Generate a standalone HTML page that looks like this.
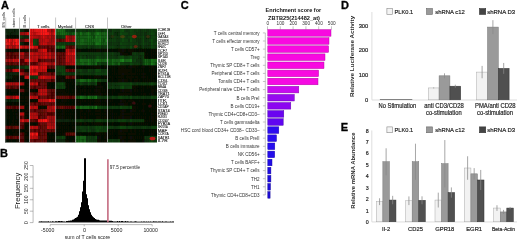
<!DOCTYPE html>
<html><head><meta charset="utf-8"><title>Figure</title>
<style>html,body{margin:0;padding:0;background:#fff;overflow:hidden}svg{display:block;filter:blur(0.35px)}text{font-family:"Liberation Sans",sans-serif}text.s{stroke:#222;stroke-width:0.18}text.t{stroke:#333;stroke-width:0.1}</style>
</head><body>
<svg width="520" height="240" viewBox="0 0 520 240">
<rect width="520" height="240" fill="#fff"/>
<defs><filter id="hb" x="-5%" y="-5%" width="110%" height="110%"><feGaussianBlur stdDeviation="0.55"/></filter><clipPath id="hc"><rect x="5" y="28.75" width="152" height="113.75"/></clipPath></defs>
<g clip-path="url(#hc)"><g filter="url(#hb)">
<rect x="3.0" y="26.75" width="156.0" height="117.75" fill="#080c06"/>
<rect x="3.0" y="26.75" width="3.98" height="5.45" fill="#081e08"/>
<rect x="6.9" y="26.75" width="1.98" height="5.45" fill="#092309"/>
<rect x="8.8" y="26.75" width="1.98" height="5.45" fill="#0b2b0b"/>
<rect x="10.6" y="26.75" width="1.98" height="5.45" fill="#082008"/>
<rect x="12.5" y="26.75" width="1.85" height="5.45" fill="#0a260a"/>
<rect x="14.2" y="26.75" width="1.85" height="5.45" fill="#071e07"/>
<rect x="16.0" y="26.75" width="1.85" height="5.45" fill="#0a280a"/>
<rect x="17.8" y="26.75" width="1.85" height="5.45" fill="#0b2c0b"/>
<rect x="19.5" y="26.75" width="2.60" height="5.45" fill="#092509"/>
<rect x="22.0" y="26.75" width="2.60" height="5.45" fill="#092409"/>
<rect x="24.5" y="26.75" width="2.60" height="5.45" fill="#080d06"/>
<rect x="27.0" y="26.75" width="2.60" height="5.45" fill="#070a05"/>
<rect x="29.5" y="26.75" width="2.23" height="5.45" fill="#e41414"/>
<rect x="31.6" y="26.75" width="2.23" height="5.45" fill="#da1313"/>
<rect x="33.8" y="26.75" width="2.23" height="5.45" fill="#d01212"/>
<rect x="35.9" y="26.75" width="2.23" height="5.45" fill="#e21414"/>
<rect x="38.0" y="26.75" width="2.35" height="5.45" fill="#dc1313"/>
<rect x="40.2" y="26.75" width="2.35" height="5.45" fill="#fa1616"/>
<rect x="42.5" y="26.75" width="2.35" height="5.45" fill="#ff1717"/>
<rect x="44.8" y="26.75" width="2.35" height="5.45" fill="#ff1717"/>
<rect x="47.0" y="26.75" width="2.25" height="5.45" fill="#a80c0c"/>
<rect x="49.1" y="26.75" width="2.25" height="5.45" fill="#b60d0d"/>
<rect x="51.3" y="26.75" width="2.25" height="5.45" fill="#8b0a0a"/>
<rect x="53.5" y="26.75" width="2.25" height="5.45" fill="#e01010"/>
<rect x="55.6" y="26.75" width="2.10" height="5.45" fill="#145b14"/>
<rect x="57.6" y="26.75" width="2.10" height="5.45" fill="#187018"/>
<rect x="59.6" y="26.75" width="2.10" height="5.45" fill="#166716"/>
<rect x="61.6" y="26.75" width="2.10" height="5.45" fill="#186d18"/>
<rect x="63.6" y="26.75" width="2.10" height="5.45" fill="#156015"/>
<rect x="65.6" y="26.75" width="2.10" height="5.45" fill="#0b390b"/>
<rect x="67.6" y="26.75" width="2.10" height="5.45" fill="#0c3d0c"/>
<rect x="69.6" y="26.75" width="2.10" height="5.45" fill="#0a350a"/>
<rect x="71.6" y="26.75" width="2.10" height="5.45" fill="#0a320a"/>
<rect x="73.6" y="26.75" width="2.10" height="5.45" fill="#0b370b"/>
<rect x="75.6" y="26.75" width="2.18" height="5.45" fill="#0b370b"/>
<rect x="77.7" y="26.75" width="2.18" height="5.45" fill="#0a360a"/>
<rect x="79.8" y="26.75" width="2.18" height="5.45" fill="#0b3a0b"/>
<rect x="81.8" y="26.75" width="2.18" height="5.45" fill="#0a320a"/>
<rect x="83.9" y="26.75" width="2.18" height="5.45" fill="#0a350a"/>
<rect x="86.0" y="26.75" width="1.93" height="5.45" fill="#082b08"/>
<rect x="87.8" y="26.75" width="1.93" height="5.45" fill="#0c3d0c"/>
<rect x="89.7" y="26.75" width="1.93" height="5.45" fill="#0a360a"/>
<rect x="91.5" y="26.75" width="1.93" height="5.45" fill="#0c3c0c"/>
<rect x="93.3" y="26.75" width="1.93" height="5.45" fill="#0a360a"/>
<rect x="95.2" y="26.75" width="1.93" height="5.45" fill="#0e480e"/>
<rect x="97.0" y="26.75" width="2.20" height="5.45" fill="#0c3f0c"/>
<rect x="99.1" y="26.75" width="2.20" height="5.45" fill="#0c3f0c"/>
<rect x="101.2" y="26.75" width="2.20" height="5.45" fill="#0a350a"/>
<rect x="103.3" y="26.75" width="2.20" height="5.45" fill="#0c400c"/>
<rect x="105.4" y="26.75" width="2.20" height="5.45" fill="#0e480e"/>
<rect x="107.5" y="26.75" width="2.18" height="5.45" fill="#0c3c0c"/>
<rect x="109.6" y="26.75" width="2.18" height="5.45" fill="#082b08"/>
<rect x="111.7" y="26.75" width="2.18" height="5.45" fill="#0c400c"/>
<rect x="113.8" y="26.75" width="2.18" height="5.45" fill="#0b390b"/>
<rect x="115.8" y="26.75" width="2.18" height="5.45" fill="#0a320a"/>
<rect x="117.9" y="26.75" width="2.18" height="5.45" fill="#0a330a"/>
<rect x="120.0" y="26.75" width="2.10" height="5.45" fill="#0d450d"/>
<rect x="122.0" y="26.75" width="2.10" height="5.45" fill="#0f4c0f"/>
<rect x="124.0" y="26.75" width="2.10" height="5.45" fill="#0a360a"/>
<rect x="126.0" y="26.75" width="2.10" height="5.45" fill="#092f09"/>
<rect x="128.0" y="26.75" width="2.10" height="5.45" fill="#0a330a"/>
<rect x="130.0" y="26.75" width="2.10" height="5.45" fill="#0d430d"/>
<rect x="132.0" y="26.75" width="2.18" height="5.45" fill="#0c3c0c"/>
<rect x="134.1" y="26.75" width="2.18" height="5.45" fill="#0a350a"/>
<rect x="136.2" y="26.75" width="2.18" height="5.45" fill="#0c3c0c"/>
<rect x="138.2" y="26.75" width="2.18" height="5.45" fill="#0a360a"/>
<rect x="140.3" y="26.75" width="2.18" height="5.45" fill="#0a340a"/>
<rect x="142.4" y="26.75" width="2.18" height="5.45" fill="#0c3d0c"/>
<rect x="144.5" y="26.75" width="2.18" height="5.45" fill="#0c3d0c"/>
<rect x="146.6" y="26.75" width="2.18" height="5.45" fill="#0a320a"/>
<rect x="148.7" y="26.75" width="2.18" height="5.45" fill="#0b3b0b"/>
<rect x="150.8" y="26.75" width="2.18" height="5.45" fill="#0c3f0c"/>
<rect x="152.8" y="26.75" width="2.18" height="5.45" fill="#0b370b"/>
<rect x="154.9" y="26.75" width="4.18" height="5.45" fill="#0b3a0b"/>
<rect x="3.0" y="32.10" width="3.98" height="3.45" fill="#082108"/>
<rect x="6.9" y="32.10" width="1.98" height="3.45" fill="#0a260a"/>
<rect x="8.8" y="32.10" width="1.98" height="3.45" fill="#0a270a"/>
<rect x="10.6" y="32.10" width="1.98" height="3.45" fill="#071d07"/>
<rect x="12.5" y="32.10" width="1.85" height="3.45" fill="#092209"/>
<rect x="14.2" y="32.10" width="1.85" height="3.45" fill="#092209"/>
<rect x="16.0" y="32.10" width="1.85" height="3.45" fill="#0b2b0b"/>
<rect x="17.8" y="32.10" width="1.85" height="3.45" fill="#0b2d0b"/>
<rect x="19.5" y="32.10" width="2.60" height="3.45" fill="#930b0b"/>
<rect x="22.0" y="32.10" width="2.60" height="3.45" fill="#9c0b0b"/>
<rect x="24.5" y="32.10" width="2.60" height="3.45" fill="#a40c0c"/>
<rect x="27.0" y="32.10" width="2.60" height="3.45" fill="#ca0f0f"/>
<rect x="29.5" y="32.10" width="2.23" height="3.45" fill="#e61414"/>
<rect x="31.6" y="32.10" width="2.23" height="3.45" fill="#d41212"/>
<rect x="33.8" y="32.10" width="2.23" height="3.45" fill="#b41010"/>
<rect x="35.9" y="32.10" width="2.23" height="3.45" fill="#d01212"/>
<rect x="38.0" y="32.10" width="2.35" height="3.45" fill="#da1313"/>
<rect x="40.2" y="32.10" width="2.35" height="3.45" fill="#ff1717"/>
<rect x="42.5" y="32.10" width="2.35" height="3.45" fill="#ff1717"/>
<rect x="44.8" y="32.10" width="2.35" height="3.45" fill="#ff1818"/>
<rect x="47.0" y="32.10" width="2.25" height="3.45" fill="#e91414"/>
<rect x="49.1" y="32.10" width="2.25" height="3.45" fill="#d01212"/>
<rect x="51.3" y="32.10" width="2.25" height="3.45" fill="#b20f0f"/>
<rect x="53.5" y="32.10" width="2.25" height="3.45" fill="#ff1919"/>
<rect x="55.6" y="32.10" width="2.10" height="3.45" fill="#176917"/>
<rect x="57.6" y="32.10" width="2.10" height="3.45" fill="#135813"/>
<rect x="59.6" y="32.10" width="2.10" height="3.45" fill="#166716"/>
<rect x="61.6" y="32.10" width="2.10" height="3.45" fill="#186f18"/>
<rect x="63.6" y="32.10" width="2.10" height="3.45" fill="#166716"/>
<rect x="65.6" y="32.10" width="2.10" height="3.45" fill="#156115"/>
<rect x="67.6" y="32.10" width="2.10" height="3.45" fill="#135913"/>
<rect x="69.6" y="32.10" width="2.10" height="3.45" fill="#0f460f"/>
<rect x="71.6" y="32.10" width="2.10" height="3.45" fill="#135813"/>
<rect x="73.6" y="32.10" width="2.10" height="3.45" fill="#166416"/>
<rect x="75.6" y="32.10" width="2.18" height="3.45" fill="#176817"/>
<rect x="77.7" y="32.10" width="2.18" height="3.45" fill="#114d11"/>
<rect x="79.8" y="32.10" width="2.18" height="3.45" fill="#187118"/>
<rect x="81.8" y="32.10" width="2.18" height="3.45" fill="#125312"/>
<rect x="83.9" y="32.10" width="2.18" height="3.45" fill="#125312"/>
<rect x="86.0" y="32.10" width="1.93" height="3.45" fill="#145e14"/>
<rect x="87.8" y="32.10" width="1.93" height="3.45" fill="#197419"/>
<rect x="89.7" y="32.10" width="1.93" height="3.45" fill="#135a13"/>
<rect x="91.5" y="32.10" width="1.93" height="3.45" fill="#104c10"/>
<rect x="93.3" y="32.10" width="1.93" height="3.45" fill="#125512"/>
<rect x="95.2" y="32.10" width="1.93" height="3.45" fill="#176b17"/>
<rect x="97.0" y="32.10" width="2.20" height="3.45" fill="#1a761a"/>
<rect x="99.1" y="32.10" width="2.20" height="3.45" fill="#166816"/>
<rect x="101.2" y="32.10" width="2.20" height="3.45" fill="#145c14"/>
<rect x="103.3" y="32.10" width="2.20" height="3.45" fill="#176817"/>
<rect x="105.4" y="32.10" width="2.20" height="3.45" fill="#166716"/>
<rect x="107.5" y="32.10" width="2.18" height="3.45" fill="#0c3d0c"/>
<rect x="109.6" y="32.10" width="2.18" height="3.45" fill="#0b380b"/>
<rect x="111.7" y="32.10" width="2.18" height="3.45" fill="#0d450d"/>
<rect x="113.8" y="32.10" width="2.18" height="3.45" fill="#092f09"/>
<rect x="115.8" y="32.10" width="2.18" height="3.45" fill="#082c08"/>
<rect x="117.9" y="32.10" width="2.18" height="3.45" fill="#093009"/>
<rect x="120.0" y="32.10" width="2.10" height="3.45" fill="#0e490e"/>
<rect x="122.0" y="32.10" width="2.10" height="3.45" fill="#0d410d"/>
<rect x="124.0" y="32.10" width="2.10" height="3.45" fill="#0c3f0c"/>
<rect x="126.0" y="32.10" width="2.10" height="3.45" fill="#0c3d0c"/>
<rect x="128.0" y="32.10" width="2.10" height="3.45" fill="#0a330a"/>
<rect x="130.0" y="32.10" width="2.10" height="3.45" fill="#0d410d"/>
<rect x="132.0" y="32.10" width="2.18" height="3.45" fill="#0c400c"/>
<rect x="134.1" y="32.10" width="2.18" height="3.45" fill="#0c3c0c"/>
<rect x="136.2" y="32.10" width="2.18" height="3.45" fill="#0a330a"/>
<rect x="138.2" y="32.10" width="2.18" height="3.45" fill="#0a360a"/>
<rect x="140.3" y="32.10" width="2.18" height="3.45" fill="#093109"/>
<rect x="142.4" y="32.10" width="2.18" height="3.45" fill="#0c3e0c"/>
<rect x="144.5" y="32.10" width="2.18" height="3.45" fill="#092d09"/>
<rect x="146.6" y="32.10" width="2.18" height="3.45" fill="#0b390b"/>
<rect x="148.7" y="32.10" width="2.18" height="3.45" fill="#0c3c0c"/>
<rect x="150.8" y="32.10" width="2.18" height="3.45" fill="#0e460e"/>
<rect x="152.8" y="32.10" width="2.18" height="3.45" fill="#0d430d"/>
<rect x="154.9" y="32.10" width="4.18" height="3.45" fill="#092e09"/>
<rect x="3.0" y="35.44" width="3.98" height="3.45" fill="#060a05"/>
<rect x="6.9" y="35.44" width="1.98" height="3.45" fill="#070a05"/>
<rect x="8.8" y="35.44" width="1.98" height="3.45" fill="#090e07"/>
<rect x="10.6" y="35.44" width="1.98" height="3.45" fill="#070b05"/>
<rect x="12.5" y="35.44" width="1.85" height="3.45" fill="#070b05"/>
<rect x="14.2" y="35.44" width="1.85" height="3.45" fill="#060a05"/>
<rect x="16.0" y="35.44" width="1.85" height="3.45" fill="#080c06"/>
<rect x="17.8" y="35.44" width="1.85" height="3.45" fill="#080c06"/>
<rect x="19.5" y="35.44" width="2.60" height="3.45" fill="#0c3c0c"/>
<rect x="22.0" y="35.44" width="2.60" height="3.45" fill="#092f09"/>
<rect x="24.5" y="35.44" width="2.60" height="3.45" fill="#0a270a"/>
<rect x="27.0" y="35.44" width="2.60" height="3.45" fill="#0a270a"/>
<rect x="29.5" y="35.44" width="2.23" height="3.45" fill="#df1010"/>
<rect x="31.6" y="35.44" width="2.23" height="3.45" fill="#d20f0f"/>
<rect x="33.8" y="35.44" width="2.23" height="3.45" fill="#af0d0d"/>
<rect x="35.9" y="35.44" width="2.23" height="3.45" fill="#a80c0c"/>
<rect x="38.0" y="35.44" width="2.35" height="3.45" fill="#960b0b"/>
<rect x="40.2" y="35.44" width="2.35" height="3.45" fill="#bb0e0e"/>
<rect x="42.5" y="35.44" width="2.35" height="3.45" fill="#e01010"/>
<rect x="44.8" y="35.44" width="2.35" height="3.45" fill="#b50d0d"/>
<rect x="47.0" y="35.44" width="2.25" height="3.45" fill="#9b0b0b"/>
<rect x="49.1" y="35.44" width="2.25" height="3.45" fill="#c00e0e"/>
<rect x="51.3" y="35.44" width="2.25" height="3.45" fill="#950b0b"/>
<rect x="53.5" y="35.44" width="2.25" height="3.45" fill="#bc0e0e"/>
<rect x="55.6" y="35.44" width="2.10" height="3.45" fill="#0a330a"/>
<rect x="57.6" y="35.44" width="2.10" height="3.45" fill="#0c3d0c"/>
<rect x="59.6" y="35.44" width="2.10" height="3.45" fill="#0b380b"/>
<rect x="61.6" y="35.44" width="2.10" height="3.45" fill="#0f4c0f"/>
<rect x="63.6" y="35.44" width="2.10" height="3.45" fill="#0e460e"/>
<rect x="65.6" y="35.44" width="2.10" height="3.45" fill="#d41010"/>
<rect x="67.6" y="35.44" width="2.10" height="3.45" fill="#a90c0c"/>
<rect x="69.6" y="35.44" width="2.10" height="3.45" fill="#860a0a"/>
<rect x="71.6" y="35.44" width="2.10" height="3.45" fill="#9a0b0b"/>
<rect x="73.6" y="35.44" width="2.10" height="3.45" fill="#c00e0e"/>
<rect x="75.6" y="35.44" width="2.18" height="3.45" fill="#156215"/>
<rect x="77.7" y="35.44" width="2.18" height="3.45" fill="#125612"/>
<rect x="79.8" y="35.44" width="2.18" height="3.45" fill="#145d14"/>
<rect x="81.8" y="35.44" width="2.18" height="3.45" fill="#135913"/>
<rect x="83.9" y="35.44" width="2.18" height="3.45" fill="#135a13"/>
<rect x="86.0" y="35.44" width="1.93" height="3.45" fill="#135a13"/>
<rect x="87.8" y="35.44" width="1.93" height="3.45" fill="#197219"/>
<rect x="89.7" y="35.44" width="1.93" height="3.45" fill="#166516"/>
<rect x="91.5" y="35.44" width="1.93" height="3.45" fill="#145d14"/>
<rect x="93.3" y="35.44" width="1.93" height="3.45" fill="#104c10"/>
<rect x="95.2" y="35.44" width="1.93" height="3.45" fill="#1a781a"/>
<rect x="97.0" y="35.44" width="2.20" height="3.45" fill="#166516"/>
<rect x="99.1" y="35.44" width="2.20" height="3.45" fill="#197219"/>
<rect x="101.2" y="35.44" width="2.20" height="3.45" fill="#145c14"/>
<rect x="103.3" y="35.44" width="2.20" height="3.45" fill="#166416"/>
<rect x="105.4" y="35.44" width="2.20" height="3.45" fill="#176b17"/>
<rect x="107.5" y="35.44" width="2.18" height="3.45" fill="#0b3b0b"/>
<rect x="109.6" y="35.44" width="2.18" height="3.45" fill="#092f09"/>
<rect x="111.7" y="35.44" width="2.18" height="3.45" fill="#0b3b0b"/>
<rect x="113.8" y="35.44" width="2.18" height="3.45" fill="#0c3d0c"/>
<rect x="115.8" y="35.44" width="2.18" height="3.45" fill="#0a340a"/>
<rect x="117.9" y="35.44" width="2.18" height="3.45" fill="#0a340a"/>
<rect x="120.0" y="35.44" width="2.10" height="3.45" fill="#0c400c"/>
<rect x="122.0" y="35.44" width="2.10" height="3.45" fill="#0f4d0f"/>
<rect x="124.0" y="35.44" width="2.10" height="3.45" fill="#0b3b0b"/>
<rect x="126.0" y="35.44" width="2.10" height="3.45" fill="#0a330a"/>
<rect x="128.0" y="35.44" width="2.10" height="3.45" fill="#0b3b0b"/>
<rect x="130.0" y="35.44" width="2.10" height="3.45" fill="#0e470e"/>
<rect x="132.0" y="35.44" width="2.18" height="3.45" fill="#0d410d"/>
<rect x="134.1" y="35.44" width="2.18" height="3.45" fill="#0a340a"/>
<rect x="136.2" y="35.44" width="2.18" height="3.45" fill="#0b370b"/>
<rect x="138.2" y="35.44" width="2.18" height="3.45" fill="#0b380b"/>
<rect x="140.3" y="35.44" width="2.18" height="3.45" fill="#0b390b"/>
<rect x="142.4" y="35.44" width="2.18" height="3.45" fill="#0e490e"/>
<rect x="144.5" y="35.44" width="2.18" height="3.45" fill="#092d09"/>
<rect x="146.6" y="35.44" width="2.18" height="3.45" fill="#093109"/>
<rect x="148.7" y="35.44" width="2.18" height="3.45" fill="#093009"/>
<rect x="150.8" y="35.44" width="2.18" height="3.45" fill="#0c3f0c"/>
<rect x="152.8" y="35.44" width="2.18" height="3.45" fill="#0d430d"/>
<rect x="154.9" y="35.44" width="4.18" height="3.45" fill="#0b370b"/>
<rect x="3.0" y="38.79" width="3.98" height="3.45" fill="#ee1515"/>
<rect x="6.9" y="38.79" width="1.98" height="3.45" fill="#bf1111"/>
<rect x="8.8" y="38.79" width="1.98" height="3.45" fill="#ff1616"/>
<rect x="10.6" y="38.79" width="1.98" height="3.45" fill="#be1010"/>
<rect x="12.5" y="38.79" width="1.85" height="3.45" fill="#ce1212"/>
<rect x="14.2" y="38.79" width="1.85" height="3.45" fill="#e31414"/>
<rect x="16.0" y="38.79" width="1.85" height="3.45" fill="#ff1818"/>
<rect x="17.8" y="38.79" width="1.85" height="3.45" fill="#d71313"/>
<rect x="19.5" y="38.79" width="2.60" height="3.45" fill="#570707"/>
<rect x="22.0" y="38.79" width="2.60" height="3.45" fill="#560707"/>
<rect x="24.5" y="38.79" width="2.60" height="3.45" fill="#a40c0c"/>
<rect x="27.0" y="38.79" width="2.60" height="3.45" fill="#ac0d0d"/>
<rect x="29.5" y="38.79" width="2.23" height="3.45" fill="#bd0e0e"/>
<rect x="31.6" y="38.79" width="2.23" height="3.45" fill="#b60d0d"/>
<rect x="33.8" y="38.79" width="2.23" height="3.45" fill="#9e0b0b"/>
<rect x="35.9" y="38.79" width="2.23" height="3.45" fill="#b50d0d"/>
<rect x="38.0" y="38.79" width="2.35" height="3.45" fill="#a70c0c"/>
<rect x="40.2" y="38.79" width="2.35" height="3.45" fill="#b30d0d"/>
<rect x="42.5" y="38.79" width="2.35" height="3.45" fill="#b90e0e"/>
<rect x="44.8" y="38.79" width="2.35" height="3.45" fill="#c10e0e"/>
<rect x="47.0" y="38.79" width="2.25" height="3.45" fill="#b30d0d"/>
<rect x="49.1" y="38.79" width="2.25" height="3.45" fill="#a40c0c"/>
<rect x="51.3" y="38.79" width="2.25" height="3.45" fill="#990b0b"/>
<rect x="53.5" y="38.79" width="2.25" height="3.45" fill="#c30e0e"/>
<rect x="55.6" y="38.79" width="2.10" height="3.45" fill="#650808"/>
<rect x="57.6" y="38.79" width="2.10" height="3.45" fill="#610808"/>
<rect x="59.6" y="38.79" width="2.10" height="3.45" fill="#530606"/>
<rect x="61.6" y="38.79" width="2.10" height="3.45" fill="#620808"/>
<rect x="63.6" y="38.79" width="2.10" height="3.45" fill="#620808"/>
<rect x="65.6" y="38.79" width="2.10" height="3.45" fill="#be0e0e"/>
<rect x="67.6" y="38.79" width="2.10" height="3.45" fill="#bc0e0e"/>
<rect x="69.6" y="38.79" width="2.10" height="3.45" fill="#870a0a"/>
<rect x="71.6" y="38.79" width="2.10" height="3.45" fill="#9d0b0b"/>
<rect x="73.6" y="38.79" width="2.10" height="3.45" fill="#ca0f0f"/>
<rect x="75.6" y="38.79" width="2.18" height="3.45" fill="#135913"/>
<rect x="77.7" y="38.79" width="2.18" height="3.45" fill="#125112"/>
<rect x="79.8" y="38.79" width="2.18" height="3.45" fill="#155f15"/>
<rect x="81.8" y="38.79" width="2.18" height="3.45" fill="#166716"/>
<rect x="83.9" y="38.79" width="2.18" height="3.45" fill="#125212"/>
<rect x="86.0" y="38.79" width="1.93" height="3.45" fill="#135713"/>
<rect x="87.8" y="38.79" width="1.93" height="3.45" fill="#166816"/>
<rect x="89.7" y="38.79" width="1.93" height="3.45" fill="#135913"/>
<rect x="91.5" y="38.79" width="1.93" height="3.45" fill="#156215"/>
<rect x="93.3" y="38.79" width="1.93" height="3.45" fill="#156315"/>
<rect x="95.2" y="38.79" width="1.93" height="3.45" fill="#176b17"/>
<rect x="97.0" y="38.79" width="2.20" height="3.45" fill="#156215"/>
<rect x="99.1" y="38.79" width="2.20" height="3.45" fill="#1a761a"/>
<rect x="101.2" y="38.79" width="2.20" height="3.45" fill="#135813"/>
<rect x="103.3" y="38.79" width="2.20" height="3.45" fill="#115011"/>
<rect x="105.4" y="38.79" width="2.20" height="3.45" fill="#1b7e1b"/>
<rect x="107.5" y="38.79" width="2.18" height="3.45" fill="#0c3d0c"/>
<rect x="109.6" y="38.79" width="2.18" height="3.45" fill="#0b380b"/>
<rect x="111.7" y="38.79" width="2.18" height="3.45" fill="#0c3f0c"/>
<rect x="113.8" y="38.79" width="2.18" height="3.45" fill="#0c3d0c"/>
<rect x="115.8" y="38.79" width="2.18" height="3.45" fill="#0a320a"/>
<rect x="117.9" y="38.79" width="2.18" height="3.45" fill="#093109"/>
<rect x="120.0" y="38.79" width="2.10" height="3.45" fill="#0b3a0b"/>
<rect x="122.0" y="38.79" width="2.10" height="3.45" fill="#0e460e"/>
<rect x="124.0" y="38.79" width="2.10" height="3.45" fill="#0c3d0c"/>
<rect x="126.0" y="38.79" width="2.10" height="3.45" fill="#0c3e0c"/>
<rect x="128.0" y="38.79" width="2.10" height="3.45" fill="#092f09"/>
<rect x="130.0" y="38.79" width="2.10" height="3.45" fill="#0e460e"/>
<rect x="132.0" y="38.79" width="2.18" height="3.45" fill="#0b370b"/>
<rect x="134.1" y="38.79" width="2.18" height="3.45" fill="#0b3a0b"/>
<rect x="136.2" y="38.79" width="2.18" height="3.45" fill="#093109"/>
<rect x="138.2" y="38.79" width="2.18" height="3.45" fill="#092f09"/>
<rect x="140.3" y="38.79" width="2.18" height="3.45" fill="#0a340a"/>
<rect x="142.4" y="38.79" width="2.18" height="3.45" fill="#0e490e"/>
<rect x="144.5" y="38.79" width="2.18" height="3.45" fill="#092f09"/>
<rect x="146.6" y="38.79" width="2.18" height="3.45" fill="#0a350a"/>
<rect x="148.7" y="38.79" width="2.18" height="3.45" fill="#0b3b0b"/>
<rect x="150.8" y="38.79" width="2.18" height="3.45" fill="#0f4b0f"/>
<rect x="152.8" y="38.79" width="2.18" height="3.45" fill="#0b370b"/>
<rect x="154.9" y="38.79" width="4.18" height="3.45" fill="#093009"/>
<rect x="3.0" y="42.13" width="3.98" height="3.45" fill="#ee1515"/>
<rect x="6.9" y="42.13" width="1.98" height="3.45" fill="#e31414"/>
<rect x="8.8" y="42.13" width="1.98" height="3.45" fill="#eb1414"/>
<rect x="10.6" y="42.13" width="1.98" height="3.45" fill="#a60e0e"/>
<rect x="12.5" y="42.13" width="1.85" height="3.45" fill="#f71515"/>
<rect x="14.2" y="42.13" width="1.85" height="3.45" fill="#cb1212"/>
<rect x="16.0" y="42.13" width="1.85" height="3.45" fill="#ff1818"/>
<rect x="17.8" y="42.13" width="1.85" height="3.45" fill="#f71515"/>
<rect x="19.5" y="42.13" width="2.60" height="3.45" fill="#092509"/>
<rect x="22.0" y="42.13" width="2.60" height="3.45" fill="#071d07"/>
<rect x="24.5" y="42.13" width="2.60" height="3.45" fill="#080c06"/>
<rect x="27.0" y="42.13" width="2.60" height="3.45" fill="#070a05"/>
<rect x="29.5" y="42.13" width="2.23" height="3.45" fill="#ca0f0f"/>
<rect x="31.6" y="42.13" width="2.23" height="3.45" fill="#d61010"/>
<rect x="33.8" y="42.13" width="2.23" height="3.45" fill="#ba0e0e"/>
<rect x="35.9" y="42.13" width="2.23" height="3.45" fill="#a10c0c"/>
<rect x="38.0" y="42.13" width="2.35" height="3.45" fill="#910b0b"/>
<rect x="40.2" y="42.13" width="2.35" height="3.45" fill="#bd0e0e"/>
<rect x="42.5" y="42.13" width="2.35" height="3.45" fill="#d20f0f"/>
<rect x="44.8" y="42.13" width="2.35" height="3.45" fill="#c40e0e"/>
<rect x="47.0" y="42.13" width="2.25" height="3.45" fill="#970b0b"/>
<rect x="49.1" y="42.13" width="2.25" height="3.45" fill="#a70c0c"/>
<rect x="51.3" y="42.13" width="2.25" height="3.45" fill="#ad0d0d"/>
<rect x="53.5" y="42.13" width="2.25" height="3.45" fill="#e51111"/>
<rect x="55.6" y="42.13" width="2.10" height="3.45" fill="#0a330a"/>
<rect x="57.6" y="42.13" width="2.10" height="3.45" fill="#0c3d0c"/>
<rect x="59.6" y="42.13" width="2.10" height="3.45" fill="#0c3f0c"/>
<rect x="61.6" y="42.13" width="2.10" height="3.45" fill="#0c3d0c"/>
<rect x="63.6" y="42.13" width="2.10" height="3.45" fill="#0d450d"/>
<rect x="65.6" y="42.13" width="2.10" height="3.45" fill="#0a360a"/>
<rect x="67.6" y="42.13" width="2.10" height="3.45" fill="#0c3c0c"/>
<rect x="69.6" y="42.13" width="2.10" height="3.45" fill="#0a330a"/>
<rect x="71.6" y="42.13" width="2.10" height="3.45" fill="#0b3a0b"/>
<rect x="73.6" y="42.13" width="2.10" height="3.45" fill="#0b3b0b"/>
<rect x="75.6" y="42.13" width="2.18" height="3.45" fill="#135a13"/>
<rect x="77.7" y="42.13" width="2.18" height="3.45" fill="#135913"/>
<rect x="79.8" y="42.13" width="2.18" height="3.45" fill="#156215"/>
<rect x="81.8" y="42.13" width="2.18" height="3.45" fill="#155f15"/>
<rect x="83.9" y="42.13" width="2.18" height="3.45" fill="#125512"/>
<rect x="86.0" y="42.13" width="1.93" height="3.45" fill="#125412"/>
<rect x="87.8" y="42.13" width="1.93" height="3.45" fill="#145f14"/>
<rect x="89.7" y="42.13" width="1.93" height="3.45" fill="#145f14"/>
<rect x="91.5" y="42.13" width="1.93" height="3.45" fill="#135813"/>
<rect x="93.3" y="42.13" width="1.93" height="3.45" fill="#114f11"/>
<rect x="95.2" y="42.13" width="1.93" height="3.45" fill="#1a761a"/>
<rect x="97.0" y="42.13" width="2.20" height="3.45" fill="#197219"/>
<rect x="99.1" y="42.13" width="2.20" height="3.45" fill="#186f18"/>
<rect x="101.2" y="42.13" width="2.20" height="3.45" fill="#135713"/>
<rect x="103.3" y="42.13" width="2.20" height="3.45" fill="#145d14"/>
<rect x="105.4" y="42.13" width="2.20" height="3.45" fill="#176917"/>
<rect x="107.5" y="42.13" width="2.18" height="3.45" fill="#0b390b"/>
<rect x="109.6" y="42.13" width="2.18" height="3.45" fill="#0a320a"/>
<rect x="111.7" y="42.13" width="2.18" height="3.45" fill="#0b3a0b"/>
<rect x="113.8" y="42.13" width="2.18" height="3.45" fill="#0a360a"/>
<rect x="115.8" y="42.13" width="2.18" height="3.45" fill="#0a330a"/>
<rect x="117.9" y="42.13" width="2.18" height="3.45" fill="#092f09"/>
<rect x="120.0" y="42.13" width="2.10" height="3.45" fill="#0d440d"/>
<rect x="122.0" y="42.13" width="2.10" height="3.45" fill="#0c3e0c"/>
<rect x="124.0" y="42.13" width="2.10" height="3.45" fill="#0c3e0c"/>
<rect x="126.0" y="42.13" width="2.10" height="3.45" fill="#0b3b0b"/>
<rect x="128.0" y="42.13" width="2.10" height="3.45" fill="#0a360a"/>
<rect x="130.0" y="42.13" width="2.10" height="3.45" fill="#0c3d0c"/>
<rect x="132.0" y="42.13" width="2.18" height="3.45" fill="#0b390b"/>
<rect x="134.1" y="42.13" width="2.18" height="3.45" fill="#0b380b"/>
<rect x="136.2" y="42.13" width="2.18" height="3.45" fill="#0c3e0c"/>
<rect x="138.2" y="42.13" width="2.18" height="3.45" fill="#092d09"/>
<rect x="140.3" y="42.13" width="2.18" height="3.45" fill="#0b390b"/>
<rect x="142.4" y="42.13" width="2.18" height="3.45" fill="#0e4a0e"/>
<rect x="144.5" y="42.13" width="2.18" height="3.45" fill="#0b390b"/>
<rect x="146.6" y="42.13" width="2.18" height="3.45" fill="#0b3a0b"/>
<rect x="148.7" y="42.13" width="2.18" height="3.45" fill="#093109"/>
<rect x="150.8" y="42.13" width="2.18" height="3.45" fill="#0f4b0f"/>
<rect x="152.8" y="42.13" width="2.18" height="3.45" fill="#0b3b0b"/>
<rect x="154.9" y="42.13" width="4.18" height="3.45" fill="#0c3d0c"/>
<rect x="3.0" y="45.48" width="3.98" height="3.45" fill="#c30e0e"/>
<rect x="6.9" y="45.48" width="1.98" height="3.45" fill="#920b0b"/>
<rect x="8.8" y="45.48" width="1.98" height="3.45" fill="#d00f0f"/>
<rect x="10.6" y="45.48" width="1.98" height="3.45" fill="#b40d0d"/>
<rect x="12.5" y="45.48" width="1.85" height="3.45" fill="#a00c0c"/>
<rect x="14.2" y="45.48" width="1.85" height="3.45" fill="#a50c0c"/>
<rect x="16.0" y="45.48" width="1.85" height="3.45" fill="#d71010"/>
<rect x="17.8" y="45.48" width="1.85" height="3.45" fill="#b40d0d"/>
<rect x="19.5" y="45.48" width="2.60" height="3.45" fill="#e01313"/>
<rect x="22.0" y="45.48" width="2.60" height="3.45" fill="#b61010"/>
<rect x="24.5" y="45.48" width="2.60" height="3.45" fill="#c20e0e"/>
<rect x="27.0" y="45.48" width="2.60" height="3.45" fill="#a10c0c"/>
<rect x="29.5" y="45.48" width="2.23" height="3.45" fill="#fc1616"/>
<rect x="31.6" y="45.48" width="2.23" height="3.45" fill="#ff1717"/>
<rect x="33.8" y="45.48" width="2.23" height="3.45" fill="#bd1010"/>
<rect x="35.9" y="45.48" width="2.23" height="3.45" fill="#c81111"/>
<rect x="38.0" y="45.48" width="2.35" height="3.45" fill="#520606"/>
<rect x="40.2" y="45.48" width="2.35" height="3.45" fill="#5f0808"/>
<rect x="42.5" y="45.48" width="2.35" height="3.45" fill="#5f0808"/>
<rect x="44.8" y="45.48" width="2.35" height="3.45" fill="#5f0808"/>
<rect x="47.0" y="45.48" width="2.25" height="3.45" fill="#4e0606"/>
<rect x="49.1" y="45.48" width="2.25" height="3.45" fill="#670808"/>
<rect x="51.3" y="45.48" width="2.25" height="3.45" fill="#580707"/>
<rect x="53.5" y="45.48" width="2.25" height="3.45" fill="#750909"/>
<rect x="55.6" y="45.48" width="2.10" height="3.45" fill="#135913"/>
<rect x="57.6" y="45.48" width="2.10" height="3.45" fill="#176c17"/>
<rect x="59.6" y="45.48" width="2.10" height="3.45" fill="#135813"/>
<rect x="61.6" y="45.48" width="2.10" height="3.45" fill="#197319"/>
<rect x="63.6" y="45.48" width="2.10" height="3.45" fill="#186e18"/>
<rect x="65.6" y="45.48" width="2.10" height="3.45" fill="#5d0707"/>
<rect x="67.6" y="45.48" width="2.10" height="3.45" fill="#660808"/>
<rect x="69.6" y="45.48" width="2.10" height="3.45" fill="#510606"/>
<rect x="71.6" y="45.48" width="2.10" height="3.45" fill="#5b0707"/>
<rect x="73.6" y="45.48" width="2.10" height="3.45" fill="#6c0909"/>
<rect x="75.6" y="45.48" width="2.18" height="3.45" fill="#093009"/>
<rect x="77.7" y="45.48" width="2.18" height="3.45" fill="#0c3c0c"/>
<rect x="79.8" y="45.48" width="2.18" height="3.45" fill="#0c3e0c"/>
<rect x="81.8" y="45.48" width="2.18" height="3.45" fill="#0a350a"/>
<rect x="83.9" y="45.48" width="2.18" height="3.45" fill="#0b390b"/>
<rect x="86.0" y="45.48" width="1.93" height="3.45" fill="#092f09"/>
<rect x="87.8" y="45.48" width="1.93" height="3.45" fill="#0e480e"/>
<rect x="89.7" y="45.48" width="1.93" height="3.45" fill="#0b380b"/>
<rect x="91.5" y="45.48" width="1.93" height="3.45" fill="#0a330a"/>
<rect x="93.3" y="45.48" width="1.93" height="3.45" fill="#0b380b"/>
<rect x="95.2" y="45.48" width="1.93" height="3.45" fill="#0d410d"/>
<rect x="97.0" y="45.48" width="2.20" height="3.45" fill="#0b3b0b"/>
<rect x="99.1" y="45.48" width="2.20" height="3.45" fill="#0e470e"/>
<rect x="101.2" y="45.48" width="2.20" height="3.45" fill="#0a320a"/>
<rect x="103.3" y="45.48" width="2.20" height="3.45" fill="#0c3d0c"/>
<rect x="105.4" y="45.48" width="2.20" height="3.45" fill="#0d410d"/>
<rect x="107.5" y="45.48" width="2.18" height="3.45" fill="#0d410d"/>
<rect x="109.6" y="45.48" width="2.18" height="3.45" fill="#0b3b0b"/>
<rect x="111.7" y="45.48" width="2.18" height="3.45" fill="#0d420d"/>
<rect x="113.8" y="45.48" width="2.18" height="3.45" fill="#0b390b"/>
<rect x="115.8" y="45.48" width="2.18" height="3.45" fill="#093009"/>
<rect x="117.9" y="45.48" width="2.18" height="3.45" fill="#092f09"/>
<rect x="120.0" y="45.48" width="2.10" height="3.45" fill="#0b3a0b"/>
<rect x="122.0" y="45.48" width="2.10" height="3.45" fill="#0c3f0c"/>
<rect x="124.0" y="45.48" width="2.10" height="3.45" fill="#0c3c0c"/>
<rect x="126.0" y="45.48" width="2.10" height="3.45" fill="#0a360a"/>
<rect x="128.0" y="45.48" width="2.10" height="3.45" fill="#0a360a"/>
<rect x="130.0" y="45.48" width="2.10" height="3.45" fill="#0f4b0f"/>
<rect x="132.0" y="45.48" width="2.18" height="3.45" fill="#0a330a"/>
<rect x="134.1" y="45.48" width="2.18" height="3.45" fill="#0a360a"/>
<rect x="136.2" y="45.48" width="2.18" height="3.45" fill="#0b3a0b"/>
<rect x="138.2" y="45.48" width="2.18" height="3.45" fill="#082b08"/>
<rect x="140.3" y="45.48" width="2.18" height="3.45" fill="#082c08"/>
<rect x="142.4" y="45.48" width="2.18" height="3.45" fill="#0c400c"/>
<rect x="144.5" y="45.48" width="2.18" height="3.45" fill="#092f09"/>
<rect x="146.6" y="45.48" width="2.18" height="3.45" fill="#0a320a"/>
<rect x="148.7" y="45.48" width="2.18" height="3.45" fill="#093109"/>
<rect x="150.8" y="45.48" width="2.18" height="3.45" fill="#0d450d"/>
<rect x="152.8" y="45.48" width="2.18" height="3.45" fill="#0c3d0c"/>
<rect x="154.9" y="45.48" width="4.18" height="3.45" fill="#093109"/>
<rect x="3.0" y="48.82" width="3.98" height="3.45" fill="#070b05"/>
<rect x="6.9" y="48.82" width="1.98" height="3.45" fill="#070a05"/>
<rect x="8.8" y="48.82" width="1.98" height="3.45" fill="#070b05"/>
<rect x="10.6" y="48.82" width="1.98" height="3.45" fill="#070b05"/>
<rect x="12.5" y="48.82" width="1.85" height="3.45" fill="#070a05"/>
<rect x="14.2" y="48.82" width="1.85" height="3.45" fill="#060a05"/>
<rect x="16.0" y="48.82" width="1.85" height="3.45" fill="#070b05"/>
<rect x="17.8" y="48.82" width="1.85" height="3.45" fill="#080d06"/>
<rect x="19.5" y="48.82" width="2.60" height="3.45" fill="#070b05"/>
<rect x="22.0" y="48.82" width="2.60" height="3.45" fill="#070b05"/>
<rect x="24.5" y="48.82" width="2.60" height="3.45" fill="#070b05"/>
<rect x="27.0" y="48.82" width="2.60" height="3.45" fill="#070a05"/>
<rect x="29.5" y="48.82" width="2.23" height="3.45" fill="#5d0707"/>
<rect x="31.6" y="48.82" width="2.23" height="3.45" fill="#680808"/>
<rect x="33.8" y="48.82" width="2.23" height="3.45" fill="#590707"/>
<rect x="35.9" y="48.82" width="2.23" height="3.45" fill="#560707"/>
<rect x="38.0" y="48.82" width="2.35" height="3.45" fill="#a60c0c"/>
<rect x="40.2" y="48.82" width="2.35" height="3.45" fill="#bf0e0e"/>
<rect x="42.5" y="48.82" width="2.35" height="3.45" fill="#e71111"/>
<rect x="44.8" y="48.82" width="2.35" height="3.45" fill="#d51010"/>
<rect x="47.0" y="48.82" width="2.25" height="3.45" fill="#510606"/>
<rect x="49.1" y="48.82" width="2.25" height="3.45" fill="#660808"/>
<rect x="51.3" y="48.82" width="2.25" height="3.45" fill="#470606"/>
<rect x="53.5" y="48.82" width="2.25" height="3.45" fill="#6c0909"/>
<rect x="55.6" y="48.82" width="2.10" height="3.45" fill="#070b05"/>
<rect x="57.6" y="48.82" width="2.10" height="3.45" fill="#070b05"/>
<rect x="59.6" y="48.82" width="2.10" height="3.45" fill="#060a05"/>
<rect x="61.6" y="48.82" width="2.10" height="3.45" fill="#090e07"/>
<rect x="63.6" y="48.82" width="2.10" height="3.45" fill="#070b05"/>
<rect x="65.6" y="48.82" width="2.10" height="3.45" fill="#be0e0e"/>
<rect x="67.6" y="48.82" width="2.10" height="3.45" fill="#cb0f0f"/>
<rect x="69.6" y="48.82" width="2.10" height="3.45" fill="#890a0a"/>
<rect x="71.6" y="48.82" width="2.10" height="3.45" fill="#9f0c0c"/>
<rect x="73.6" y="48.82" width="2.10" height="3.45" fill="#c50e0e"/>
<rect x="75.6" y="48.82" width="2.18" height="3.45" fill="#070b05"/>
<rect x="77.7" y="48.82" width="2.18" height="3.45" fill="#070a05"/>
<rect x="79.8" y="48.82" width="2.18" height="3.45" fill="#080d06"/>
<rect x="81.8" y="48.82" width="2.18" height="3.45" fill="#060904"/>
<rect x="83.9" y="48.82" width="2.18" height="3.45" fill="#060904"/>
<rect x="86.0" y="48.82" width="1.93" height="3.45" fill="#060904"/>
<rect x="87.8" y="48.82" width="1.93" height="3.45" fill="#070b05"/>
<rect x="89.7" y="48.82" width="1.93" height="3.45" fill="#080c06"/>
<rect x="91.5" y="48.82" width="1.93" height="3.45" fill="#070b05"/>
<rect x="93.3" y="48.82" width="1.93" height="3.45" fill="#070b05"/>
<rect x="95.2" y="48.82" width="1.93" height="3.45" fill="#070b05"/>
<rect x="97.0" y="48.82" width="2.20" height="3.45" fill="#090d06"/>
<rect x="99.1" y="48.82" width="2.20" height="3.45" fill="#090e07"/>
<rect x="101.2" y="48.82" width="2.20" height="3.45" fill="#070b05"/>
<rect x="103.3" y="48.82" width="2.20" height="3.45" fill="#080c06"/>
<rect x="105.4" y="48.82" width="2.20" height="3.45" fill="#090d06"/>
<rect x="107.5" y="48.82" width="2.18" height="3.45" fill="#070b05"/>
<rect x="109.6" y="48.82" width="2.18" height="3.45" fill="#060904"/>
<rect x="111.7" y="48.82" width="2.18" height="3.45" fill="#080c06"/>
<rect x="113.8" y="48.82" width="2.18" height="3.45" fill="#060904"/>
<rect x="115.8" y="48.82" width="2.18" height="3.45" fill="#060904"/>
<rect x="117.9" y="48.82" width="2.18" height="3.45" fill="#070b05"/>
<rect x="120.0" y="48.82" width="2.10" height="3.45" fill="#090d06"/>
<rect x="122.0" y="48.82" width="2.10" height="3.45" fill="#090e07"/>
<rect x="124.0" y="48.82" width="2.10" height="3.45" fill="#080c06"/>
<rect x="126.0" y="48.82" width="2.10" height="3.45" fill="#060a05"/>
<rect x="128.0" y="48.82" width="2.10" height="3.45" fill="#070b05"/>
<rect x="130.0" y="48.82" width="2.10" height="3.45" fill="#090d06"/>
<rect x="132.0" y="48.82" width="2.18" height="3.45" fill="#080c06"/>
<rect x="134.1" y="48.82" width="2.18" height="3.45" fill="#070b05"/>
<rect x="136.2" y="48.82" width="2.18" height="3.45" fill="#060a05"/>
<rect x="138.2" y="48.82" width="2.18" height="3.45" fill="#070a05"/>
<rect x="140.3" y="48.82" width="2.18" height="3.45" fill="#070b05"/>
<rect x="142.4" y="48.82" width="2.18" height="3.45" fill="#080c06"/>
<rect x="144.5" y="48.82" width="2.18" height="3.45" fill="#070b05"/>
<rect x="146.6" y="48.82" width="2.18" height="3.45" fill="#060904"/>
<rect x="148.7" y="48.82" width="2.18" height="3.45" fill="#060a05"/>
<rect x="150.8" y="48.82" width="2.18" height="3.45" fill="#080c06"/>
<rect x="152.8" y="48.82" width="2.18" height="3.45" fill="#080c06"/>
<rect x="154.9" y="48.82" width="4.18" height="3.45" fill="#080c06"/>
<rect x="3.0" y="52.17" width="3.98" height="3.45" fill="#5f0808"/>
<rect x="6.9" y="52.17" width="1.98" height="3.45" fill="#4f0606"/>
<rect x="8.8" y="52.17" width="1.98" height="3.45" fill="#6d0909"/>
<rect x="10.6" y="52.17" width="1.98" height="3.45" fill="#4d0606"/>
<rect x="12.5" y="52.17" width="1.85" height="3.45" fill="#560707"/>
<rect x="14.2" y="52.17" width="1.85" height="3.45" fill="#630808"/>
<rect x="16.0" y="52.17" width="1.85" height="3.45" fill="#6b0909"/>
<rect x="17.8" y="52.17" width="1.85" height="3.45" fill="#6a0808"/>
<rect x="19.5" y="52.17" width="2.60" height="3.45" fill="#ac0d0d"/>
<rect x="22.0" y="52.17" width="2.60" height="3.45" fill="#b90e0e"/>
<rect x="24.5" y="52.17" width="2.60" height="3.45" fill="#5a0707"/>
<rect x="27.0" y="52.17" width="2.60" height="3.45" fill="#640808"/>
<rect x="29.5" y="52.17" width="2.23" height="3.45" fill="#d91010"/>
<rect x="31.6" y="52.17" width="2.23" height="3.45" fill="#d61010"/>
<rect x="33.8" y="52.17" width="2.23" height="3.45" fill="#a70c0c"/>
<rect x="35.9" y="52.17" width="2.23" height="3.45" fill="#bc0e0e"/>
<rect x="38.0" y="52.17" width="2.35" height="3.45" fill="#a30c0c"/>
<rect x="40.2" y="52.17" width="2.35" height="3.45" fill="#b90e0e"/>
<rect x="42.5" y="52.17" width="2.35" height="3.45" fill="#c30e0e"/>
<rect x="44.8" y="52.17" width="2.35" height="3.45" fill="#d00f0f"/>
<rect x="47.0" y="52.17" width="2.25" height="3.45" fill="#950b0b"/>
<rect x="49.1" y="52.17" width="2.25" height="3.45" fill="#c80f0f"/>
<rect x="51.3" y="52.17" width="2.25" height="3.45" fill="#900a0a"/>
<rect x="53.5" y="52.17" width="2.25" height="3.45" fill="#ba0e0e"/>
<rect x="55.6" y="52.17" width="2.10" height="3.45" fill="#530707"/>
<rect x="57.6" y="52.17" width="2.10" height="3.45" fill="#6b0909"/>
<rect x="59.6" y="52.17" width="2.10" height="3.45" fill="#5a0707"/>
<rect x="61.6" y="52.17" width="2.10" height="3.45" fill="#630808"/>
<rect x="63.6" y="52.17" width="2.10" height="3.45" fill="#590707"/>
<rect x="65.6" y="52.17" width="2.10" height="3.45" fill="#c91111"/>
<rect x="67.6" y="52.17" width="2.10" height="3.45" fill="#e81414"/>
<rect x="69.6" y="52.17" width="2.10" height="3.45" fill="#c51111"/>
<rect x="71.6" y="52.17" width="2.10" height="3.45" fill="#e01313"/>
<rect x="73.6" y="52.17" width="2.10" height="3.45" fill="#f81616"/>
<rect x="75.6" y="52.17" width="2.18" height="3.45" fill="#093009"/>
<rect x="77.7" y="52.17" width="2.18" height="3.45" fill="#0a360a"/>
<rect x="79.8" y="52.17" width="2.18" height="3.45" fill="#0b3a0b"/>
<rect x="81.8" y="52.17" width="2.18" height="3.45" fill="#0b3b0b"/>
<rect x="83.9" y="52.17" width="2.18" height="3.45" fill="#0b390b"/>
<rect x="86.0" y="52.17" width="1.93" height="3.45" fill="#0b390b"/>
<rect x="87.8" y="52.17" width="1.93" height="3.45" fill="#0b390b"/>
<rect x="89.7" y="52.17" width="1.93" height="3.45" fill="#0c3d0c"/>
<rect x="91.5" y="52.17" width="1.93" height="3.45" fill="#0c3c0c"/>
<rect x="93.3" y="52.17" width="1.93" height="3.45" fill="#0b3a0b"/>
<rect x="95.2" y="52.17" width="1.93" height="3.45" fill="#0c3c0c"/>
<rect x="97.0" y="52.17" width="2.20" height="3.45" fill="#0b3b0b"/>
<rect x="99.1" y="52.17" width="2.20" height="3.45" fill="#0c3d0c"/>
<rect x="101.2" y="52.17" width="2.20" height="3.45" fill="#0a320a"/>
<rect x="103.3" y="52.17" width="2.20" height="3.45" fill="#0c3e0c"/>
<rect x="105.4" y="52.17" width="2.20" height="3.45" fill="#0e4a0e"/>
<rect x="107.5" y="52.17" width="2.18" height="3.45" fill="#0d410d"/>
<rect x="109.6" y="52.17" width="2.18" height="3.45" fill="#0b380b"/>
<rect x="111.7" y="52.17" width="2.18" height="3.45" fill="#0d420d"/>
<rect x="113.8" y="52.17" width="2.18" height="3.45" fill="#0a330a"/>
<rect x="115.8" y="52.17" width="2.18" height="3.45" fill="#092d09"/>
<rect x="117.9" y="52.17" width="2.18" height="3.45" fill="#093009"/>
<rect x="120.0" y="52.17" width="2.10" height="3.45" fill="#090e07"/>
<rect x="122.0" y="52.17" width="2.10" height="3.45" fill="#080c06"/>
<rect x="124.0" y="52.17" width="2.10" height="3.45" fill="#070b05"/>
<rect x="126.0" y="52.17" width="2.10" height="3.45" fill="#070a05"/>
<rect x="128.0" y="52.17" width="2.10" height="3.45" fill="#060904"/>
<rect x="130.0" y="52.17" width="2.10" height="3.45" fill="#080c06"/>
<rect x="132.0" y="52.17" width="2.18" height="3.45" fill="#0a350a"/>
<rect x="134.1" y="52.17" width="2.18" height="3.45" fill="#0c3e0c"/>
<rect x="136.2" y="52.17" width="2.18" height="3.45" fill="#0a350a"/>
<rect x="138.2" y="52.17" width="2.18" height="3.45" fill="#093009"/>
<rect x="140.3" y="52.17" width="2.18" height="3.45" fill="#0b3b0b"/>
<rect x="142.4" y="52.17" width="2.18" height="3.45" fill="#0d420d"/>
<rect x="144.5" y="52.17" width="2.18" height="3.45" fill="#070b05"/>
<rect x="146.6" y="52.17" width="2.18" height="3.45" fill="#070b05"/>
<rect x="148.7" y="52.17" width="2.18" height="3.45" fill="#060904"/>
<rect x="150.8" y="52.17" width="2.18" height="3.45" fill="#080d06"/>
<rect x="152.8" y="52.17" width="2.18" height="3.45" fill="#070b05"/>
<rect x="154.9" y="52.17" width="4.18" height="3.45" fill="#070b05"/>
<rect x="3.0" y="55.51" width="3.98" height="3.45" fill="#550707"/>
<rect x="6.9" y="55.51" width="1.98" height="3.45" fill="#590707"/>
<rect x="8.8" y="55.51" width="1.98" height="3.45" fill="#640808"/>
<rect x="10.6" y="55.51" width="1.98" height="3.45" fill="#4a0606"/>
<rect x="12.5" y="55.51" width="1.85" height="3.45" fill="#660808"/>
<rect x="14.2" y="55.51" width="1.85" height="3.45" fill="#4e0606"/>
<rect x="16.0" y="55.51" width="1.85" height="3.45" fill="#700909"/>
<rect x="17.8" y="55.51" width="1.85" height="3.45" fill="#5c0707"/>
<rect x="19.5" y="55.51" width="2.60" height="3.45" fill="#8b0a0a"/>
<rect x="22.0" y="55.51" width="2.60" height="3.45" fill="#920b0b"/>
<rect x="24.5" y="55.51" width="2.60" height="3.45" fill="#620808"/>
<rect x="27.0" y="55.51" width="2.60" height="3.45" fill="#680808"/>
<rect x="29.5" y="55.51" width="2.23" height="3.45" fill="#b60d0d"/>
<rect x="31.6" y="55.51" width="2.23" height="3.45" fill="#c40e0e"/>
<rect x="33.8" y="55.51" width="2.23" height="3.45" fill="#a90c0c"/>
<rect x="35.9" y="55.51" width="2.23" height="3.45" fill="#bf0e0e"/>
<rect x="38.0" y="55.51" width="2.35" height="3.45" fill="#8f0a0a"/>
<rect x="40.2" y="55.51" width="2.35" height="3.45" fill="#c20e0e"/>
<rect x="42.5" y="55.51" width="2.35" height="3.45" fill="#ca0f0f"/>
<rect x="44.8" y="55.51" width="2.35" height="3.45" fill="#da1010"/>
<rect x="47.0" y="55.51" width="2.25" height="3.45" fill="#9e0b0b"/>
<rect x="49.1" y="55.51" width="2.25" height="3.45" fill="#ca0f0f"/>
<rect x="51.3" y="55.51" width="2.25" height="3.45" fill="#970b0b"/>
<rect x="53.5" y="55.51" width="2.25" height="3.45" fill="#c30e0e"/>
<rect x="55.6" y="55.51" width="2.10" height="3.45" fill="#620808"/>
<rect x="57.6" y="55.51" width="2.10" height="3.45" fill="#600808"/>
<rect x="59.6" y="55.51" width="2.10" height="3.45" fill="#540707"/>
<rect x="61.6" y="55.51" width="2.10" height="3.45" fill="#700909"/>
<rect x="63.6" y="55.51" width="2.10" height="3.45" fill="#5a0707"/>
<rect x="65.6" y="55.51" width="2.10" height="3.45" fill="#ca0f0f"/>
<rect x="67.6" y="55.51" width="2.10" height="3.45" fill="#bf0e0e"/>
<rect x="69.6" y="55.51" width="2.10" height="3.45" fill="#a90c0c"/>
<rect x="71.6" y="55.51" width="2.10" height="3.45" fill="#b50d0d"/>
<rect x="73.6" y="55.51" width="2.10" height="3.45" fill="#b90e0e"/>
<rect x="75.6" y="55.51" width="2.18" height="3.45" fill="#0a350a"/>
<rect x="77.7" y="55.51" width="2.18" height="3.45" fill="#0a320a"/>
<rect x="79.8" y="55.51" width="2.18" height="3.45" fill="#0d420d"/>
<rect x="81.8" y="55.51" width="2.18" height="3.45" fill="#093009"/>
<rect x="83.9" y="55.51" width="2.18" height="3.45" fill="#0b3a0b"/>
<rect x="86.0" y="55.51" width="1.93" height="3.45" fill="#082b08"/>
<rect x="87.8" y="55.51" width="1.93" height="3.45" fill="#0c3c0c"/>
<rect x="89.7" y="55.51" width="1.93" height="3.45" fill="#0a330a"/>
<rect x="91.5" y="55.51" width="1.93" height="3.45" fill="#0b3b0b"/>
<rect x="93.3" y="55.51" width="1.93" height="3.45" fill="#0a330a"/>
<rect x="95.2" y="55.51" width="1.93" height="3.45" fill="#0c400c"/>
<rect x="97.0" y="55.51" width="2.20" height="3.45" fill="#0e460e"/>
<rect x="99.1" y="55.51" width="2.20" height="3.45" fill="#0c3f0c"/>
<rect x="101.2" y="55.51" width="2.20" height="3.45" fill="#0b390b"/>
<rect x="103.3" y="55.51" width="2.20" height="3.45" fill="#0b390b"/>
<rect x="105.4" y="55.51" width="2.20" height="3.45" fill="#0e490e"/>
<rect x="107.5" y="55.51" width="2.18" height="3.45" fill="#0d430d"/>
<rect x="109.6" y="55.51" width="2.18" height="3.45" fill="#0a350a"/>
<rect x="111.7" y="55.51" width="2.18" height="3.45" fill="#0c3e0c"/>
<rect x="113.8" y="55.51" width="2.18" height="3.45" fill="#0a340a"/>
<rect x="115.8" y="55.51" width="2.18" height="3.45" fill="#092d09"/>
<rect x="117.9" y="55.51" width="2.18" height="3.45" fill="#0c3c0c"/>
<rect x="120.0" y="55.51" width="2.10" height="3.45" fill="#0d440d"/>
<rect x="122.0" y="55.51" width="2.10" height="3.45" fill="#0e490e"/>
<rect x="124.0" y="55.51" width="2.10" height="3.45" fill="#0a350a"/>
<rect x="126.0" y="55.51" width="2.10" height="3.45" fill="#0a360a"/>
<rect x="128.0" y="55.51" width="2.10" height="3.45" fill="#0b3a0b"/>
<rect x="130.0" y="55.51" width="2.10" height="3.45" fill="#0e460e"/>
<rect x="132.0" y="55.51" width="2.18" height="3.45" fill="#0a330a"/>
<rect x="134.1" y="55.51" width="2.18" height="3.45" fill="#0b390b"/>
<rect x="136.2" y="55.51" width="2.18" height="3.45" fill="#0c3d0c"/>
<rect x="138.2" y="55.51" width="2.18" height="3.45" fill="#092e09"/>
<rect x="140.3" y="55.51" width="2.18" height="3.45" fill="#092f09"/>
<rect x="142.4" y="55.51" width="2.18" height="3.45" fill="#0c3f0c"/>
<rect x="144.5" y="55.51" width="2.18" height="3.45" fill="#070b05"/>
<rect x="146.6" y="55.51" width="2.18" height="3.45" fill="#070b05"/>
<rect x="148.7" y="55.51" width="2.18" height="3.45" fill="#060904"/>
<rect x="150.8" y="55.51" width="2.18" height="3.45" fill="#080c06"/>
<rect x="152.8" y="55.51" width="2.18" height="3.45" fill="#070b05"/>
<rect x="154.9" y="55.51" width="4.18" height="3.45" fill="#060a05"/>
<rect x="3.0" y="58.86" width="3.98" height="3.45" fill="#af0d0d"/>
<rect x="6.9" y="58.86" width="1.98" height="3.45" fill="#920b0b"/>
<rect x="8.8" y="58.86" width="1.98" height="3.45" fill="#b90e0e"/>
<rect x="10.6" y="58.86" width="1.98" height="3.45" fill="#8f0a0a"/>
<rect x="12.5" y="58.86" width="1.85" height="3.45" fill="#cd0f0f"/>
<rect x="14.2" y="58.86" width="1.85" height="3.45" fill="#b80d0d"/>
<rect x="16.0" y="58.86" width="1.85" height="3.45" fill="#b70d0d"/>
<rect x="17.8" y="58.86" width="1.85" height="3.45" fill="#dc1010"/>
<rect x="19.5" y="58.86" width="2.60" height="3.45" fill="#4a0606"/>
<rect x="22.0" y="58.86" width="2.60" height="3.45" fill="#500606"/>
<rect x="24.5" y="58.86" width="2.60" height="3.45" fill="#ca0f0f"/>
<rect x="27.0" y="58.86" width="2.60" height="3.45" fill="#c10e0e"/>
<rect x="29.5" y="58.86" width="2.23" height="3.45" fill="#da1010"/>
<rect x="31.6" y="58.86" width="2.23" height="3.45" fill="#c10e0e"/>
<rect x="33.8" y="58.86" width="2.23" height="3.45" fill="#9b0b0b"/>
<rect x="35.9" y="58.86" width="2.23" height="3.45" fill="#b70d0d"/>
<rect x="38.0" y="58.86" width="2.35" height="3.45" fill="#470606"/>
<rect x="40.2" y="58.86" width="2.35" height="3.45" fill="#5c0707"/>
<rect x="42.5" y="58.86" width="2.35" height="3.45" fill="#680808"/>
<rect x="44.8" y="58.86" width="2.35" height="3.45" fill="#5b0707"/>
<rect x="47.0" y="58.86" width="2.25" height="3.45" fill="#540707"/>
<rect x="49.1" y="58.86" width="2.25" height="3.45" fill="#630808"/>
<rect x="51.3" y="58.86" width="2.25" height="3.45" fill="#580707"/>
<rect x="53.5" y="58.86" width="2.25" height="3.45" fill="#6b0909"/>
<rect x="55.6" y="58.86" width="2.10" height="3.45" fill="#600808"/>
<rect x="57.6" y="58.86" width="2.10" height="3.45" fill="#5f0808"/>
<rect x="59.6" y="58.86" width="2.10" height="3.45" fill="#550707"/>
<rect x="61.6" y="58.86" width="2.10" height="3.45" fill="#6f0909"/>
<rect x="63.6" y="58.86" width="2.10" height="3.45" fill="#620808"/>
<rect x="65.6" y="58.86" width="2.10" height="3.45" fill="#c80f0f"/>
<rect x="67.6" y="58.86" width="2.10" height="3.45" fill="#c90f0f"/>
<rect x="69.6" y="58.86" width="2.10" height="3.45" fill="#980b0b"/>
<rect x="71.6" y="58.86" width="2.10" height="3.45" fill="#b20d0d"/>
<rect x="73.6" y="58.86" width="2.10" height="3.45" fill="#cd0f0f"/>
<rect x="75.6" y="58.86" width="2.18" height="3.45" fill="#135a13"/>
<rect x="77.7" y="58.86" width="2.18" height="3.45" fill="#115011"/>
<rect x="79.8" y="58.86" width="2.18" height="3.45" fill="#176a17"/>
<rect x="81.8" y="58.86" width="2.18" height="3.45" fill="#166516"/>
<rect x="83.9" y="58.86" width="2.18" height="3.45" fill="#145e14"/>
<rect x="86.0" y="58.86" width="1.93" height="3.45" fill="#145b14"/>
<rect x="87.8" y="58.86" width="1.93" height="3.45" fill="#197519"/>
<rect x="89.7" y="58.86" width="1.93" height="3.45" fill="#156015"/>
<rect x="91.5" y="58.86" width="1.93" height="3.45" fill="#145c14"/>
<rect x="93.3" y="58.86" width="1.93" height="3.45" fill="#125512"/>
<rect x="95.2" y="58.86" width="1.93" height="3.45" fill="#176a17"/>
<rect x="97.0" y="58.86" width="2.20" height="3.45" fill="#186e18"/>
<rect x="99.1" y="58.86" width="2.20" height="3.45" fill="#166516"/>
<rect x="101.2" y="58.86" width="2.20" height="3.45" fill="#145e14"/>
<rect x="103.3" y="58.86" width="2.20" height="3.45" fill="#166516"/>
<rect x="105.4" y="58.86" width="2.20" height="3.45" fill="#1a791a"/>
<rect x="107.5" y="58.86" width="2.18" height="3.45" fill="#176c17"/>
<rect x="109.6" y="58.86" width="2.18" height="3.45" fill="#114e11"/>
<rect x="111.7" y="58.86" width="2.18" height="3.45" fill="#176917"/>
<rect x="113.8" y="58.86" width="2.18" height="3.45" fill="#135a13"/>
<rect x="115.8" y="58.86" width="2.18" height="3.45" fill="#135913"/>
<rect x="117.9" y="58.86" width="2.18" height="3.45" fill="#135913"/>
<rect x="120.0" y="58.86" width="2.10" height="3.45" fill="#197319"/>
<rect x="122.0" y="58.86" width="2.10" height="3.45" fill="#1b7f1b"/>
<rect x="124.0" y="58.86" width="2.10" height="3.45" fill="#135913"/>
<rect x="126.0" y="58.86" width="2.10" height="3.45" fill="#156015"/>
<rect x="128.0" y="58.86" width="2.10" height="3.45" fill="#156115"/>
<rect x="130.0" y="58.86" width="2.10" height="3.45" fill="#186f18"/>
<rect x="132.0" y="58.86" width="2.18" height="3.45" fill="#0b390b"/>
<rect x="134.1" y="58.86" width="2.18" height="3.45" fill="#0d420d"/>
<rect x="136.2" y="58.86" width="2.18" height="3.45" fill="#093009"/>
<rect x="138.2" y="58.86" width="2.18" height="3.45" fill="#0a330a"/>
<rect x="140.3" y="58.86" width="2.18" height="3.45" fill="#092e09"/>
<rect x="142.4" y="58.86" width="2.18" height="3.45" fill="#0e470e"/>
<rect x="144.5" y="58.86" width="2.18" height="3.45" fill="#166416"/>
<rect x="146.6" y="58.86" width="2.18" height="3.45" fill="#135913"/>
<rect x="148.7" y="58.86" width="2.18" height="3.45" fill="#114f11"/>
<rect x="150.8" y="58.86" width="2.18" height="3.45" fill="#197319"/>
<rect x="152.8" y="58.86" width="2.18" height="3.45" fill="#166516"/>
<rect x="154.9" y="58.86" width="4.18" height="3.45" fill="#156015"/>
<rect x="3.0" y="62.21" width="3.98" height="3.45" fill="#590707"/>
<rect x="6.9" y="62.21" width="1.98" height="3.45" fill="#570707"/>
<rect x="8.8" y="62.21" width="1.98" height="3.45" fill="#6c0909"/>
<rect x="10.6" y="62.21" width="1.98" height="3.45" fill="#520606"/>
<rect x="12.5" y="62.21" width="1.85" height="3.45" fill="#5b0707"/>
<rect x="14.2" y="62.21" width="1.85" height="3.45" fill="#640808"/>
<rect x="16.0" y="62.21" width="1.85" height="3.45" fill="#600808"/>
<rect x="17.8" y="62.21" width="1.85" height="3.45" fill="#690808"/>
<rect x="19.5" y="62.21" width="2.60" height="3.45" fill="#510606"/>
<rect x="22.0" y="62.21" width="2.60" height="3.45" fill="#590707"/>
<rect x="24.5" y="62.21" width="2.60" height="3.45" fill="#510606"/>
<rect x="27.0" y="62.21" width="2.60" height="3.45" fill="#680808"/>
<rect x="29.5" y="62.21" width="2.23" height="3.45" fill="#660808"/>
<rect x="31.6" y="62.21" width="2.23" height="3.45" fill="#590707"/>
<rect x="33.8" y="62.21" width="2.23" height="3.45" fill="#510606"/>
<rect x="35.9" y="62.21" width="2.23" height="3.45" fill="#580707"/>
<rect x="38.0" y="62.21" width="2.35" height="3.45" fill="#870a0a"/>
<rect x="40.2" y="62.21" width="2.35" height="3.45" fill="#be0e0e"/>
<rect x="42.5" y="62.21" width="2.35" height="3.45" fill="#ce0f0f"/>
<rect x="44.8" y="62.21" width="2.35" height="3.45" fill="#d41010"/>
<rect x="47.0" y="62.21" width="2.25" height="3.45" fill="#a20c0c"/>
<rect x="49.1" y="62.21" width="2.25" height="3.45" fill="#a80c0c"/>
<rect x="51.3" y="62.21" width="2.25" height="3.45" fill="#940b0b"/>
<rect x="53.5" y="62.21" width="2.25" height="3.45" fill="#de1010"/>
<rect x="55.6" y="62.21" width="2.10" height="3.45" fill="#680808"/>
<rect x="57.6" y="62.21" width="2.10" height="3.45" fill="#600808"/>
<rect x="59.6" y="62.21" width="2.10" height="3.45" fill="#570707"/>
<rect x="61.6" y="62.21" width="2.10" height="3.45" fill="#740909"/>
<rect x="63.6" y="62.21" width="2.10" height="3.45" fill="#620808"/>
<rect x="65.6" y="62.21" width="2.10" height="3.45" fill="#ad0d0d"/>
<rect x="67.6" y="62.21" width="2.10" height="3.45" fill="#a20c0c"/>
<rect x="69.6" y="62.21" width="2.10" height="3.45" fill="#a90c0c"/>
<rect x="71.6" y="62.21" width="2.10" height="3.45" fill="#be0e0e"/>
<rect x="73.6" y="62.21" width="2.10" height="3.45" fill="#c70f0f"/>
<rect x="75.6" y="62.21" width="2.18" height="3.45" fill="#145b14"/>
<rect x="77.7" y="62.21" width="2.18" height="3.45" fill="#135913"/>
<rect x="79.8" y="62.21" width="2.18" height="3.45" fill="#145d14"/>
<rect x="81.8" y="62.21" width="2.18" height="3.45" fill="#166716"/>
<rect x="83.9" y="62.21" width="2.18" height="3.45" fill="#125312"/>
<rect x="86.0" y="62.21" width="1.93" height="3.45" fill="#135913"/>
<rect x="87.8" y="62.21" width="1.93" height="3.45" fill="#197419"/>
<rect x="89.7" y="62.21" width="1.93" height="3.45" fill="#166416"/>
<rect x="91.5" y="62.21" width="1.93" height="3.45" fill="#135813"/>
<rect x="93.3" y="62.21" width="1.93" height="3.45" fill="#115011"/>
<rect x="95.2" y="62.21" width="1.93" height="3.45" fill="#187018"/>
<rect x="97.0" y="62.21" width="2.20" height="3.45" fill="#0b3a0b"/>
<rect x="99.1" y="62.21" width="2.20" height="3.45" fill="#0e480e"/>
<rect x="101.2" y="62.21" width="2.20" height="3.45" fill="#0b370b"/>
<rect x="103.3" y="62.21" width="2.20" height="3.45" fill="#0c3e0c"/>
<rect x="105.4" y="62.21" width="2.20" height="3.45" fill="#0d410d"/>
<rect x="107.5" y="62.21" width="2.18" height="3.45" fill="#166516"/>
<rect x="109.6" y="62.21" width="2.18" height="3.45" fill="#114f11"/>
<rect x="111.7" y="62.21" width="2.18" height="3.45" fill="#176917"/>
<rect x="113.8" y="62.21" width="2.18" height="3.45" fill="#125312"/>
<rect x="115.8" y="62.21" width="2.18" height="3.45" fill="#0f480f"/>
<rect x="117.9" y="62.21" width="2.18" height="3.45" fill="#156215"/>
<rect x="120.0" y="62.21" width="2.10" height="3.45" fill="#0c3e0c"/>
<rect x="122.0" y="62.21" width="2.10" height="3.45" fill="#0d410d"/>
<rect x="124.0" y="62.21" width="2.10" height="3.45" fill="#0b370b"/>
<rect x="126.0" y="62.21" width="2.10" height="3.45" fill="#0b370b"/>
<rect x="128.0" y="62.21" width="2.10" height="3.45" fill="#0a350a"/>
<rect x="130.0" y="62.21" width="2.10" height="3.45" fill="#0e470e"/>
<rect x="132.0" y="62.21" width="2.18" height="3.45" fill="#0b3b0b"/>
<rect x="134.1" y="62.21" width="2.18" height="3.45" fill="#0b380b"/>
<rect x="136.2" y="62.21" width="2.18" height="3.45" fill="#0c3e0c"/>
<rect x="138.2" y="62.21" width="2.18" height="3.45" fill="#0b380b"/>
<rect x="140.3" y="62.21" width="2.18" height="3.45" fill="#082c08"/>
<rect x="142.4" y="62.21" width="2.18" height="3.45" fill="#0e470e"/>
<rect x="144.5" y="62.21" width="2.18" height="3.45" fill="#156315"/>
<rect x="146.6" y="62.21" width="2.18" height="3.45" fill="#156015"/>
<rect x="148.7" y="62.21" width="2.18" height="3.45" fill="#115011"/>
<rect x="150.8" y="62.21" width="2.18" height="3.45" fill="#1a7a1a"/>
<rect x="152.8" y="62.21" width="2.18" height="3.45" fill="#166716"/>
<rect x="154.9" y="62.21" width="4.18" height="3.45" fill="#114d11"/>
<rect x="3.0" y="65.55" width="3.98" height="3.45" fill="#081e08"/>
<rect x="6.9" y="65.55" width="1.98" height="3.45" fill="#0a260a"/>
<rect x="8.8" y="65.55" width="1.98" height="3.45" fill="#0a290a"/>
<rect x="10.6" y="65.55" width="1.98" height="3.45" fill="#071e07"/>
<rect x="12.5" y="65.55" width="1.85" height="3.45" fill="#082108"/>
<rect x="14.2" y="65.55" width="1.85" height="3.45" fill="#081f08"/>
<rect x="16.0" y="65.55" width="1.85" height="3.45" fill="#0a260a"/>
<rect x="17.8" y="65.55" width="1.85" height="3.45" fill="#0b2b0b"/>
<rect x="19.5" y="65.55" width="2.60" height="3.45" fill="#0a320a"/>
<rect x="22.0" y="65.55" width="2.60" height="3.45" fill="#092e09"/>
<rect x="24.5" y="65.55" width="2.60" height="3.45" fill="#0c400c"/>
<rect x="27.0" y="65.55" width="2.60" height="3.45" fill="#0c3e0c"/>
<rect x="29.5" y="65.55" width="2.23" height="3.45" fill="#e71414"/>
<rect x="31.6" y="65.55" width="2.23" height="3.45" fill="#ff1717"/>
<rect x="33.8" y="65.55" width="2.23" height="3.45" fill="#d51313"/>
<rect x="35.9" y="65.55" width="2.23" height="3.45" fill="#e81414"/>
<rect x="38.0" y="65.55" width="2.35" height="3.45" fill="#a80c0c"/>
<rect x="40.2" y="65.55" width="2.35" height="3.45" fill="#d61010"/>
<rect x="42.5" y="65.55" width="2.35" height="3.45" fill="#e01010"/>
<rect x="44.8" y="65.55" width="2.35" height="3.45" fill="#db1010"/>
<rect x="47.0" y="65.55" width="2.25" height="3.45" fill="#4f0606"/>
<rect x="49.1" y="65.55" width="2.25" height="3.45" fill="#610808"/>
<rect x="51.3" y="65.55" width="2.25" height="3.45" fill="#540707"/>
<rect x="53.5" y="65.55" width="2.25" height="3.45" fill="#720909"/>
<rect x="55.6" y="65.55" width="2.10" height="3.45" fill="#0b3a0b"/>
<rect x="57.6" y="65.55" width="2.10" height="3.45" fill="#0d420d"/>
<rect x="59.6" y="65.55" width="2.10" height="3.45" fill="#0c3c0c"/>
<rect x="61.6" y="65.55" width="2.10" height="3.45" fill="#0c400c"/>
<rect x="63.6" y="65.55" width="2.10" height="3.45" fill="#0b3b0b"/>
<rect x="65.6" y="65.55" width="2.10" height="3.45" fill="#070b05"/>
<rect x="67.6" y="65.55" width="2.10" height="3.45" fill="#070b05"/>
<rect x="69.6" y="65.55" width="2.10" height="3.45" fill="#050804"/>
<rect x="71.6" y="65.55" width="2.10" height="3.45" fill="#070b05"/>
<rect x="73.6" y="65.55" width="2.10" height="3.45" fill="#070b05"/>
<rect x="75.6" y="65.55" width="2.18" height="3.45" fill="#070b05"/>
<rect x="77.7" y="65.55" width="2.18" height="3.45" fill="#070a05"/>
<rect x="79.8" y="65.55" width="2.18" height="3.45" fill="#080c06"/>
<rect x="81.8" y="65.55" width="2.18" height="3.45" fill="#080c06"/>
<rect x="83.9" y="65.55" width="2.18" height="3.45" fill="#050804"/>
<rect x="86.0" y="65.55" width="1.93" height="3.45" fill="#070b05"/>
<rect x="87.8" y="65.55" width="1.93" height="3.45" fill="#080c06"/>
<rect x="89.7" y="65.55" width="1.93" height="3.45" fill="#070b05"/>
<rect x="91.5" y="65.55" width="1.93" height="3.45" fill="#070b05"/>
<rect x="93.3" y="65.55" width="1.93" height="3.45" fill="#070b05"/>
<rect x="95.2" y="65.55" width="1.93" height="3.45" fill="#080c06"/>
<rect x="97.0" y="65.55" width="2.20" height="3.45" fill="#080c06"/>
<rect x="99.1" y="65.55" width="2.20" height="3.45" fill="#090e07"/>
<rect x="101.2" y="65.55" width="2.20" height="3.45" fill="#060a05"/>
<rect x="103.3" y="65.55" width="2.20" height="3.45" fill="#070b05"/>
<rect x="105.4" y="65.55" width="2.20" height="3.45" fill="#090e07"/>
<rect x="107.5" y="65.55" width="2.18" height="3.45" fill="#070b05"/>
<rect x="109.6" y="65.55" width="2.18" height="3.45" fill="#070a05"/>
<rect x="111.7" y="65.55" width="2.18" height="3.45" fill="#090d06"/>
<rect x="113.8" y="65.55" width="2.18" height="3.45" fill="#080c06"/>
<rect x="115.8" y="65.55" width="2.18" height="3.45" fill="#060904"/>
<rect x="117.9" y="65.55" width="2.18" height="3.45" fill="#080c06"/>
<rect x="120.0" y="65.55" width="2.10" height="3.45" fill="#080d06"/>
<rect x="122.0" y="65.55" width="2.10" height="3.45" fill="#090d06"/>
<rect x="124.0" y="65.55" width="2.10" height="3.45" fill="#080d06"/>
<rect x="126.0" y="65.55" width="2.10" height="3.45" fill="#060904"/>
<rect x="128.0" y="65.55" width="2.10" height="3.45" fill="#070b05"/>
<rect x="130.0" y="65.55" width="2.10" height="3.45" fill="#090e07"/>
<rect x="132.0" y="65.55" width="2.18" height="3.45" fill="#070a05"/>
<rect x="134.1" y="65.55" width="2.18" height="3.45" fill="#080c06"/>
<rect x="136.2" y="65.55" width="2.18" height="3.45" fill="#070a05"/>
<rect x="138.2" y="65.55" width="2.18" height="3.45" fill="#060a05"/>
<rect x="140.3" y="65.55" width="2.18" height="3.45" fill="#070a05"/>
<rect x="142.4" y="65.55" width="2.18" height="3.45" fill="#090e07"/>
<rect x="144.5" y="65.55" width="2.18" height="3.45" fill="#060904"/>
<rect x="146.6" y="65.55" width="2.18" height="3.45" fill="#060a05"/>
<rect x="148.7" y="65.55" width="2.18" height="3.45" fill="#070a05"/>
<rect x="150.8" y="65.55" width="2.18" height="3.45" fill="#090d06"/>
<rect x="152.8" y="65.55" width="2.18" height="3.45" fill="#080d06"/>
<rect x="154.9" y="65.55" width="4.18" height="3.45" fill="#060a05"/>
<rect x="3.0" y="68.90" width="3.98" height="3.45" fill="#610808"/>
<rect x="6.9" y="68.90" width="1.98" height="3.45" fill="#510606"/>
<rect x="8.8" y="68.90" width="1.98" height="3.45" fill="#630808"/>
<rect x="10.6" y="68.90" width="1.98" height="3.45" fill="#4b0606"/>
<rect x="12.5" y="68.90" width="1.85" height="3.45" fill="#b60d0d"/>
<rect x="14.2" y="68.90" width="1.85" height="3.45" fill="#c40e0e"/>
<rect x="16.0" y="68.90" width="1.85" height="3.45" fill="#d20f0f"/>
<rect x="17.8" y="68.90" width="1.85" height="3.45" fill="#d31010"/>
<rect x="19.5" y="68.90" width="2.60" height="3.45" fill="#500606"/>
<rect x="22.0" y="68.90" width="2.60" height="3.45" fill="#4e0606"/>
<rect x="24.5" y="68.90" width="2.60" height="3.45" fill="#070a05"/>
<rect x="27.0" y="68.90" width="2.60" height="3.45" fill="#070b05"/>
<rect x="29.5" y="68.90" width="2.23" height="3.45" fill="#d51010"/>
<rect x="31.6" y="68.90" width="2.23" height="3.45" fill="#d30f0f"/>
<rect x="33.8" y="68.90" width="2.23" height="3.45" fill="#930b0b"/>
<rect x="35.9" y="68.90" width="2.23" height="3.45" fill="#bb0e0e"/>
<rect x="38.0" y="68.90" width="2.35" height="3.45" fill="#b20d0d"/>
<rect x="40.2" y="68.90" width="2.35" height="3.45" fill="#c50e0e"/>
<rect x="42.5" y="68.90" width="2.35" height="3.45" fill="#bb0e0e"/>
<rect x="44.8" y="68.90" width="2.35" height="3.45" fill="#c00e0e"/>
<rect x="47.0" y="68.90" width="2.25" height="3.45" fill="#060904"/>
<rect x="49.1" y="68.90" width="2.25" height="3.45" fill="#070a05"/>
<rect x="51.3" y="68.90" width="2.25" height="3.45" fill="#070b05"/>
<rect x="53.5" y="68.90" width="2.25" height="3.45" fill="#090d06"/>
<rect x="55.6" y="68.90" width="2.10" height="3.45" fill="#0c3d0c"/>
<rect x="57.6" y="68.90" width="2.10" height="3.45" fill="#0d410d"/>
<rect x="59.6" y="68.90" width="2.10" height="3.45" fill="#0d420d"/>
<rect x="61.6" y="68.90" width="2.10" height="3.45" fill="#0e460e"/>
<rect x="63.6" y="68.90" width="2.10" height="3.45" fill="#0d410d"/>
<rect x="65.6" y="68.90" width="2.10" height="3.45" fill="#630808"/>
<rect x="67.6" y="68.90" width="2.10" height="3.45" fill="#620808"/>
<rect x="69.6" y="68.90" width="2.10" height="3.45" fill="#520606"/>
<rect x="71.6" y="68.90" width="2.10" height="3.45" fill="#5e0707"/>
<rect x="73.6" y="68.90" width="2.10" height="3.45" fill="#5b0707"/>
<rect x="75.6" y="68.90" width="2.18" height="3.45" fill="#0b3a0b"/>
<rect x="77.7" y="68.90" width="2.18" height="3.45" fill="#0a330a"/>
<rect x="79.8" y="68.90" width="2.18" height="3.45" fill="#0c400c"/>
<rect x="81.8" y="68.90" width="2.18" height="3.45" fill="#093009"/>
<rect x="83.9" y="68.90" width="2.18" height="3.45" fill="#092f09"/>
<rect x="86.0" y="68.90" width="1.93" height="3.45" fill="#082b08"/>
<rect x="87.8" y="68.90" width="1.93" height="3.45" fill="#0d450d"/>
<rect x="89.7" y="68.90" width="1.93" height="3.45" fill="#0c3d0c"/>
<rect x="91.5" y="68.90" width="1.93" height="3.45" fill="#0b370b"/>
<rect x="93.3" y="68.90" width="1.93" height="3.45" fill="#093109"/>
<rect x="95.2" y="68.90" width="1.93" height="3.45" fill="#0e470e"/>
<rect x="97.0" y="68.90" width="2.20" height="3.45" fill="#0d440d"/>
<rect x="99.1" y="68.90" width="2.20" height="3.45" fill="#0d440d"/>
<rect x="101.2" y="68.90" width="2.20" height="3.45" fill="#0a350a"/>
<rect x="103.3" y="68.90" width="2.20" height="3.45" fill="#0a350a"/>
<rect x="105.4" y="68.90" width="2.20" height="3.45" fill="#0d440d"/>
<rect x="107.5" y="68.90" width="2.18" height="3.45" fill="#080c06"/>
<rect x="109.6" y="68.90" width="2.18" height="3.45" fill="#060a05"/>
<rect x="111.7" y="68.90" width="2.18" height="3.45" fill="#080d06"/>
<rect x="113.8" y="68.90" width="2.18" height="3.45" fill="#080c06"/>
<rect x="115.8" y="68.90" width="2.18" height="3.45" fill="#050804"/>
<rect x="117.9" y="68.90" width="2.18" height="3.45" fill="#070b05"/>
<rect x="120.0" y="68.90" width="2.10" height="3.45" fill="#070b05"/>
<rect x="122.0" y="68.90" width="2.10" height="3.45" fill="#080c06"/>
<rect x="124.0" y="68.90" width="2.10" height="3.45" fill="#080c06"/>
<rect x="126.0" y="68.90" width="2.10" height="3.45" fill="#070b05"/>
<rect x="128.0" y="68.90" width="2.10" height="3.45" fill="#080c06"/>
<rect x="130.0" y="68.90" width="2.10" height="3.45" fill="#090d06"/>
<rect x="132.0" y="68.90" width="2.18" height="3.45" fill="#060904"/>
<rect x="134.1" y="68.90" width="2.18" height="3.45" fill="#070b05"/>
<rect x="136.2" y="68.90" width="2.18" height="3.45" fill="#070b05"/>
<rect x="138.2" y="68.90" width="2.18" height="3.45" fill="#070b05"/>
<rect x="140.3" y="68.90" width="2.18" height="3.45" fill="#070b05"/>
<rect x="142.4" y="68.90" width="2.18" height="3.45" fill="#080d06"/>
<rect x="144.5" y="68.90" width="2.18" height="3.45" fill="#060a05"/>
<rect x="146.6" y="68.90" width="2.18" height="3.45" fill="#060904"/>
<rect x="148.7" y="68.90" width="2.18" height="3.45" fill="#070b05"/>
<rect x="150.8" y="68.90" width="2.18" height="3.45" fill="#080c06"/>
<rect x="152.8" y="68.90" width="2.18" height="3.45" fill="#070a05"/>
<rect x="154.9" y="68.90" width="4.18" height="3.45" fill="#060904"/>
<rect x="3.0" y="72.24" width="3.98" height="3.45" fill="#081e08"/>
<rect x="6.9" y="72.24" width="1.98" height="3.45" fill="#092309"/>
<rect x="8.8" y="72.24" width="1.98" height="3.45" fill="#092409"/>
<rect x="10.6" y="72.24" width="1.98" height="3.45" fill="#092509"/>
<rect x="12.5" y="72.24" width="1.85" height="3.45" fill="#082108"/>
<rect x="14.2" y="72.24" width="1.85" height="3.45" fill="#0a270a"/>
<rect x="16.0" y="72.24" width="1.85" height="3.45" fill="#092509"/>
<rect x="17.8" y="72.24" width="1.85" height="3.45" fill="#092309"/>
<rect x="19.5" y="72.24" width="2.60" height="3.45" fill="#af0d0d"/>
<rect x="22.0" y="72.24" width="2.60" height="3.45" fill="#940b0b"/>
<rect x="24.5" y="72.24" width="2.60" height="3.45" fill="#610808"/>
<rect x="27.0" y="72.24" width="2.60" height="3.45" fill="#530707"/>
<rect x="29.5" y="72.24" width="2.23" height="3.45" fill="#e01313"/>
<rect x="31.6" y="72.24" width="2.23" height="3.45" fill="#ff1616"/>
<rect x="33.8" y="72.24" width="2.23" height="3.45" fill="#dc1313"/>
<rect x="35.9" y="72.24" width="2.23" height="3.45" fill="#ec1515"/>
<rect x="38.0" y="72.24" width="2.35" height="3.45" fill="#570707"/>
<rect x="40.2" y="72.24" width="2.35" height="3.45" fill="#590707"/>
<rect x="42.5" y="72.24" width="2.35" height="3.45" fill="#6f0909"/>
<rect x="44.8" y="72.24" width="2.35" height="3.45" fill="#6d0909"/>
<rect x="47.0" y="72.24" width="2.25" height="3.45" fill="#560707"/>
<rect x="49.1" y="72.24" width="2.25" height="3.45" fill="#670808"/>
<rect x="51.3" y="72.24" width="2.25" height="3.45" fill="#4d0606"/>
<rect x="53.5" y="72.24" width="2.25" height="3.45" fill="#770a0a"/>
<rect x="55.6" y="72.24" width="2.10" height="3.45" fill="#0c3e0c"/>
<rect x="57.6" y="72.24" width="2.10" height="3.45" fill="#0a340a"/>
<rect x="59.6" y="72.24" width="2.10" height="3.45" fill="#0a330a"/>
<rect x="61.6" y="72.24" width="2.10" height="3.45" fill="#0e470e"/>
<rect x="63.6" y="72.24" width="2.10" height="3.45" fill="#0d450d"/>
<rect x="65.6" y="72.24" width="2.10" height="3.45" fill="#0a360a"/>
<rect x="67.6" y="72.24" width="2.10" height="3.45" fill="#0b370b"/>
<rect x="69.6" y="72.24" width="2.10" height="3.45" fill="#0a360a"/>
<rect x="71.6" y="72.24" width="2.10" height="3.45" fill="#0a330a"/>
<rect x="73.6" y="72.24" width="2.10" height="3.45" fill="#0d440d"/>
<rect x="75.6" y="72.24" width="2.18" height="3.45" fill="#0b370b"/>
<rect x="77.7" y="72.24" width="2.18" height="3.45" fill="#092d09"/>
<rect x="79.8" y="72.24" width="2.18" height="3.45" fill="#0b3a0b"/>
<rect x="81.8" y="72.24" width="2.18" height="3.45" fill="#0b380b"/>
<rect x="83.9" y="72.24" width="2.18" height="3.45" fill="#0a330a"/>
<rect x="86.0" y="72.24" width="1.93" height="3.45" fill="#0a360a"/>
<rect x="87.8" y="72.24" width="1.93" height="3.45" fill="#0b3b0b"/>
<rect x="89.7" y="72.24" width="1.93" height="3.45" fill="#0b3b0b"/>
<rect x="91.5" y="72.24" width="1.93" height="3.45" fill="#0a330a"/>
<rect x="93.3" y="72.24" width="1.93" height="3.45" fill="#0a360a"/>
<rect x="95.2" y="72.24" width="1.93" height="3.45" fill="#0d440d"/>
<rect x="97.0" y="72.24" width="2.20" height="3.45" fill="#0c3e0c"/>
<rect x="99.1" y="72.24" width="2.20" height="3.45" fill="#0d410d"/>
<rect x="101.2" y="72.24" width="2.20" height="3.45" fill="#0c3e0c"/>
<rect x="103.3" y="72.24" width="2.20" height="3.45" fill="#0c3f0c"/>
<rect x="105.4" y="72.24" width="2.20" height="3.45" fill="#0e4a0e"/>
<rect x="107.5" y="72.24" width="2.18" height="3.45" fill="#080c06"/>
<rect x="109.6" y="72.24" width="2.18" height="3.45" fill="#060904"/>
<rect x="111.7" y="72.24" width="2.18" height="3.45" fill="#070b05"/>
<rect x="113.8" y="72.24" width="2.18" height="3.45" fill="#080c06"/>
<rect x="115.8" y="72.24" width="2.18" height="3.45" fill="#070a05"/>
<rect x="117.9" y="72.24" width="2.18" height="3.45" fill="#080c06"/>
<rect x="120.0" y="72.24" width="2.10" height="3.45" fill="#080c06"/>
<rect x="122.0" y="72.24" width="2.10" height="3.45" fill="#090e07"/>
<rect x="124.0" y="72.24" width="2.10" height="3.45" fill="#080d06"/>
<rect x="126.0" y="72.24" width="2.10" height="3.45" fill="#080c06"/>
<rect x="128.0" y="72.24" width="2.10" height="3.45" fill="#070b05"/>
<rect x="130.0" y="72.24" width="2.10" height="3.45" fill="#080d06"/>
<rect x="132.0" y="72.24" width="2.18" height="3.45" fill="#070b05"/>
<rect x="134.1" y="72.24" width="2.18" height="3.45" fill="#080c06"/>
<rect x="136.2" y="72.24" width="2.18" height="3.45" fill="#070a05"/>
<rect x="138.2" y="72.24" width="2.18" height="3.45" fill="#070a05"/>
<rect x="140.3" y="72.24" width="2.18" height="3.45" fill="#070a05"/>
<rect x="142.4" y="72.24" width="2.18" height="3.45" fill="#090e07"/>
<rect x="144.5" y="72.24" width="2.18" height="3.45" fill="#070b05"/>
<rect x="146.6" y="72.24" width="2.18" height="3.45" fill="#060904"/>
<rect x="148.7" y="72.24" width="2.18" height="3.45" fill="#060904"/>
<rect x="150.8" y="72.24" width="2.18" height="3.45" fill="#080c06"/>
<rect x="152.8" y="72.24" width="2.18" height="3.45" fill="#070b05"/>
<rect x="154.9" y="72.24" width="4.18" height="3.45" fill="#070b05"/>
<rect x="3.0" y="75.59" width="3.98" height="3.45" fill="#0a270a"/>
<rect x="6.9" y="75.59" width="1.98" height="3.45" fill="#092509"/>
<rect x="8.8" y="75.59" width="1.98" height="3.45" fill="#092309"/>
<rect x="10.6" y="75.59" width="1.98" height="3.45" fill="#092409"/>
<rect x="12.5" y="75.59" width="1.85" height="3.45" fill="#080c06"/>
<rect x="14.2" y="75.59" width="1.85" height="3.45" fill="#080c06"/>
<rect x="16.0" y="75.59" width="1.85" height="3.45" fill="#080d06"/>
<rect x="17.8" y="75.59" width="1.85" height="3.45" fill="#080c06"/>
<rect x="19.5" y="75.59" width="2.60" height="3.45" fill="#070b05"/>
<rect x="22.0" y="75.59" width="2.60" height="3.45" fill="#070b05"/>
<rect x="24.5" y="75.59" width="2.60" height="3.45" fill="#bb0e0e"/>
<rect x="27.0" y="75.59" width="2.60" height="3.45" fill="#c70f0f"/>
<rect x="29.5" y="75.59" width="2.23" height="3.45" fill="#0c400c"/>
<rect x="31.6" y="75.59" width="2.23" height="3.45" fill="#0b390b"/>
<rect x="33.8" y="75.59" width="2.23" height="3.45" fill="#0b380b"/>
<rect x="35.9" y="75.59" width="2.23" height="3.45" fill="#0c3e0c"/>
<rect x="38.0" y="75.59" width="2.35" height="3.45" fill="#900a0a"/>
<rect x="40.2" y="75.59" width="2.35" height="3.45" fill="#cf0f0f"/>
<rect x="42.5" y="75.59" width="2.35" height="3.45" fill="#e71111"/>
<rect x="44.8" y="75.59" width="2.35" height="3.45" fill="#bc0e0e"/>
<rect x="47.0" y="75.59" width="2.25" height="3.45" fill="#af0d0d"/>
<rect x="49.1" y="75.59" width="2.25" height="3.45" fill="#bc0e0e"/>
<rect x="51.3" y="75.59" width="2.25" height="3.45" fill="#a00c0c"/>
<rect x="53.5" y="75.59" width="2.25" height="3.45" fill="#c30e0e"/>
<rect x="55.6" y="75.59" width="2.10" height="3.45" fill="#070b05"/>
<rect x="57.6" y="75.59" width="2.10" height="3.45" fill="#080c06"/>
<rect x="59.6" y="75.59" width="2.10" height="3.45" fill="#080c06"/>
<rect x="61.6" y="75.59" width="2.10" height="3.45" fill="#090d06"/>
<rect x="63.6" y="75.59" width="2.10" height="3.45" fill="#070b05"/>
<rect x="65.6" y="75.59" width="2.10" height="3.45" fill="#680808"/>
<rect x="67.6" y="75.59" width="2.10" height="3.45" fill="#640808"/>
<rect x="69.6" y="75.59" width="2.10" height="3.45" fill="#490606"/>
<rect x="71.6" y="75.59" width="2.10" height="3.45" fill="#5b0707"/>
<rect x="73.6" y="75.59" width="2.10" height="3.45" fill="#6d0909"/>
<rect x="75.6" y="75.59" width="2.18" height="3.45" fill="#080c06"/>
<rect x="77.7" y="75.59" width="2.18" height="3.45" fill="#070a05"/>
<rect x="79.8" y="75.59" width="2.18" height="3.45" fill="#080c06"/>
<rect x="81.8" y="75.59" width="2.18" height="3.45" fill="#070b05"/>
<rect x="83.9" y="75.59" width="2.18" height="3.45" fill="#060904"/>
<rect x="86.0" y="75.59" width="1.93" height="3.45" fill="#060904"/>
<rect x="87.8" y="75.59" width="1.93" height="3.45" fill="#070b05"/>
<rect x="89.7" y="75.59" width="1.93" height="3.45" fill="#070b05"/>
<rect x="91.5" y="75.59" width="1.93" height="3.45" fill="#060a05"/>
<rect x="93.3" y="75.59" width="1.93" height="3.45" fill="#070a05"/>
<rect x="95.2" y="75.59" width="1.93" height="3.45" fill="#080d06"/>
<rect x="97.0" y="75.59" width="2.20" height="3.45" fill="#080c06"/>
<rect x="99.1" y="75.59" width="2.20" height="3.45" fill="#080c06"/>
<rect x="101.2" y="75.59" width="2.20" height="3.45" fill="#060a05"/>
<rect x="103.3" y="75.59" width="2.20" height="3.45" fill="#080c06"/>
<rect x="105.4" y="75.59" width="2.20" height="3.45" fill="#090d06"/>
<rect x="107.5" y="75.59" width="2.18" height="3.45" fill="#070b05"/>
<rect x="109.6" y="75.59" width="2.18" height="3.45" fill="#070a05"/>
<rect x="111.7" y="75.59" width="2.18" height="3.45" fill="#090d06"/>
<rect x="113.8" y="75.59" width="2.18" height="3.45" fill="#060904"/>
<rect x="115.8" y="75.59" width="2.18" height="3.45" fill="#070a05"/>
<rect x="117.9" y="75.59" width="2.18" height="3.45" fill="#070a05"/>
<rect x="120.0" y="75.59" width="2.10" height="3.45" fill="#080d06"/>
<rect x="122.0" y="75.59" width="2.10" height="3.45" fill="#080c06"/>
<rect x="124.0" y="75.59" width="2.10" height="3.45" fill="#060a05"/>
<rect x="126.0" y="75.59" width="2.10" height="3.45" fill="#080c06"/>
<rect x="128.0" y="75.59" width="2.10" height="3.45" fill="#080c06"/>
<rect x="130.0" y="75.59" width="2.10" height="3.45" fill="#090d06"/>
<rect x="132.0" y="75.59" width="2.18" height="3.45" fill="#070b05"/>
<rect x="134.1" y="75.59" width="2.18" height="3.45" fill="#070a05"/>
<rect x="136.2" y="75.59" width="2.18" height="3.45" fill="#080c06"/>
<rect x="138.2" y="75.59" width="2.18" height="3.45" fill="#060904"/>
<rect x="140.3" y="75.59" width="2.18" height="3.45" fill="#070b05"/>
<rect x="142.4" y="75.59" width="2.18" height="3.45" fill="#090e07"/>
<rect x="144.5" y="75.59" width="2.18" height="3.45" fill="#070b05"/>
<rect x="146.6" y="75.59" width="2.18" height="3.45" fill="#080c06"/>
<rect x="148.7" y="75.59" width="2.18" height="3.45" fill="#060a05"/>
<rect x="150.8" y="75.59" width="2.18" height="3.45" fill="#080c06"/>
<rect x="152.8" y="75.59" width="2.18" height="3.45" fill="#070b05"/>
<rect x="154.9" y="75.59" width="4.18" height="3.45" fill="#060904"/>
<rect x="3.0" y="78.93" width="3.98" height="3.45" fill="#060904"/>
<rect x="6.9" y="78.93" width="1.98" height="3.45" fill="#060904"/>
<rect x="8.8" y="78.93" width="1.98" height="3.45" fill="#080c06"/>
<rect x="10.6" y="78.93" width="1.98" height="3.45" fill="#070b05"/>
<rect x="12.5" y="78.93" width="1.85" height="3.45" fill="#070b05"/>
<rect x="14.2" y="78.93" width="1.85" height="3.45" fill="#080c06"/>
<rect x="16.0" y="78.93" width="1.85" height="3.45" fill="#090e07"/>
<rect x="17.8" y="78.93" width="1.85" height="3.45" fill="#070b05"/>
<rect x="19.5" y="78.93" width="2.60" height="3.45" fill="#070b05"/>
<rect x="22.0" y="78.93" width="2.60" height="3.45" fill="#060a05"/>
<rect x="24.5" y="78.93" width="2.60" height="3.45" fill="#060a05"/>
<rect x="27.0" y="78.93" width="2.60" height="3.45" fill="#080d06"/>
<rect x="29.5" y="78.93" width="2.23" height="3.45" fill="#640808"/>
<rect x="31.6" y="78.93" width="2.23" height="3.45" fill="#660808"/>
<rect x="33.8" y="78.93" width="2.23" height="3.45" fill="#5b0707"/>
<rect x="35.9" y="78.93" width="2.23" height="3.45" fill="#660808"/>
<rect x="38.0" y="78.93" width="2.35" height="3.45" fill="#560707"/>
<rect x="40.2" y="78.93" width="2.35" height="3.45" fill="#610808"/>
<rect x="42.5" y="78.93" width="2.35" height="3.45" fill="#6a0808"/>
<rect x="44.8" y="78.93" width="2.35" height="3.45" fill="#5f0808"/>
<rect x="47.0" y="78.93" width="2.25" height="3.45" fill="#630808"/>
<rect x="49.1" y="78.93" width="2.25" height="3.45" fill="#690808"/>
<rect x="51.3" y="78.93" width="2.25" height="3.45" fill="#4c0606"/>
<rect x="53.5" y="78.93" width="2.25" height="3.45" fill="#600808"/>
<rect x="55.6" y="78.93" width="2.10" height="3.45" fill="#070b05"/>
<rect x="57.6" y="78.93" width="2.10" height="3.45" fill="#070b05"/>
<rect x="59.6" y="78.93" width="2.10" height="3.45" fill="#080d06"/>
<rect x="61.6" y="78.93" width="2.10" height="3.45" fill="#0a0f07"/>
<rect x="63.6" y="78.93" width="2.10" height="3.45" fill="#090d06"/>
<rect x="65.6" y="78.93" width="2.10" height="3.45" fill="#070a05"/>
<rect x="67.6" y="78.93" width="2.10" height="3.45" fill="#080c06"/>
<rect x="69.6" y="78.93" width="2.10" height="3.45" fill="#070a05"/>
<rect x="71.6" y="78.93" width="2.10" height="3.45" fill="#070b05"/>
<rect x="73.6" y="78.93" width="2.10" height="3.45" fill="#090e07"/>
<rect x="75.6" y="78.93" width="2.18" height="3.45" fill="#115011"/>
<rect x="77.7" y="78.93" width="2.18" height="3.45" fill="#114e11"/>
<rect x="79.8" y="78.93" width="2.18" height="3.45" fill="#176b17"/>
<rect x="81.8" y="78.93" width="2.18" height="3.45" fill="#166716"/>
<rect x="83.9" y="78.93" width="2.18" height="3.45" fill="#145b14"/>
<rect x="86.0" y="78.93" width="1.93" height="3.45" fill="#115011"/>
<rect x="87.8" y="78.93" width="1.93" height="3.45" fill="#186e18"/>
<rect x="89.7" y="78.93" width="1.93" height="3.45" fill="#156215"/>
<rect x="91.5" y="78.93" width="1.93" height="3.45" fill="#114e11"/>
<rect x="93.3" y="78.93" width="1.93" height="3.45" fill="#115111"/>
<rect x="95.2" y="78.93" width="1.93" height="3.45" fill="#176817"/>
<rect x="97.0" y="78.93" width="2.20" height="3.45" fill="#0b3a0b"/>
<rect x="99.1" y="78.93" width="2.20" height="3.45" fill="#0d430d"/>
<rect x="101.2" y="78.93" width="2.20" height="3.45" fill="#0a340a"/>
<rect x="103.3" y="78.93" width="2.20" height="3.45" fill="#0a340a"/>
<rect x="105.4" y="78.93" width="2.20" height="3.45" fill="#0c3f0c"/>
<rect x="107.5" y="78.93" width="2.18" height="3.45" fill="#080d06"/>
<rect x="109.6" y="78.93" width="2.18" height="3.45" fill="#050804"/>
<rect x="111.7" y="78.93" width="2.18" height="3.45" fill="#090d06"/>
<rect x="113.8" y="78.93" width="2.18" height="3.45" fill="#060a05"/>
<rect x="115.8" y="78.93" width="2.18" height="3.45" fill="#050804"/>
<rect x="117.9" y="78.93" width="2.18" height="3.45" fill="#080c06"/>
<rect x="120.0" y="78.93" width="2.10" height="3.45" fill="#080c06"/>
<rect x="122.0" y="78.93" width="2.10" height="3.45" fill="#0a0f07"/>
<rect x="124.0" y="78.93" width="2.10" height="3.45" fill="#080c06"/>
<rect x="126.0" y="78.93" width="2.10" height="3.45" fill="#080c06"/>
<rect x="128.0" y="78.93" width="2.10" height="3.45" fill="#060904"/>
<rect x="130.0" y="78.93" width="2.10" height="3.45" fill="#090d06"/>
<rect x="132.0" y="78.93" width="2.18" height="3.45" fill="#060a05"/>
<rect x="134.1" y="78.93" width="2.18" height="3.45" fill="#080d06"/>
<rect x="136.2" y="78.93" width="2.18" height="3.45" fill="#080c06"/>
<rect x="138.2" y="78.93" width="2.18" height="3.45" fill="#070a05"/>
<rect x="140.3" y="78.93" width="2.18" height="3.45" fill="#060a05"/>
<rect x="142.4" y="78.93" width="2.18" height="3.45" fill="#080c06"/>
<rect x="144.5" y="78.93" width="2.18" height="3.45" fill="#070b05"/>
<rect x="146.6" y="78.93" width="2.18" height="3.45" fill="#070a05"/>
<rect x="148.7" y="78.93" width="2.18" height="3.45" fill="#070b05"/>
<rect x="150.8" y="78.93" width="2.18" height="3.45" fill="#080c06"/>
<rect x="152.8" y="78.93" width="2.18" height="3.45" fill="#070b05"/>
<rect x="154.9" y="78.93" width="4.18" height="3.45" fill="#060904"/>
<rect x="3.0" y="82.28" width="3.98" height="3.45" fill="#b80d0d"/>
<rect x="6.9" y="82.28" width="1.98" height="3.45" fill="#a60c0c"/>
<rect x="8.8" y="82.28" width="1.98" height="3.45" fill="#b00d0d"/>
<rect x="10.6" y="82.28" width="1.98" height="3.45" fill="#b10d0d"/>
<rect x="12.5" y="82.28" width="1.85" height="3.45" fill="#aa0c0c"/>
<rect x="14.2" y="82.28" width="1.85" height="3.45" fill="#a80c0c"/>
<rect x="16.0" y="82.28" width="1.85" height="3.45" fill="#b90e0e"/>
<rect x="17.8" y="82.28" width="1.85" height="3.45" fill="#b90e0e"/>
<rect x="19.5" y="82.28" width="2.60" height="3.45" fill="#b50d0d"/>
<rect x="22.0" y="82.28" width="2.60" height="3.45" fill="#990b0b"/>
<rect x="24.5" y="82.28" width="2.60" height="3.45" fill="#060a05"/>
<rect x="27.0" y="82.28" width="2.60" height="3.45" fill="#070b05"/>
<rect x="29.5" y="82.28" width="2.23" height="3.45" fill="#c60e0e"/>
<rect x="31.6" y="82.28" width="2.23" height="3.45" fill="#d91010"/>
<rect x="33.8" y="82.28" width="2.23" height="3.45" fill="#970b0b"/>
<rect x="35.9" y="82.28" width="2.23" height="3.45" fill="#c80f0f"/>
<rect x="38.0" y="82.28" width="2.35" height="3.45" fill="#460505"/>
<rect x="40.2" y="82.28" width="2.35" height="3.45" fill="#6e0909"/>
<rect x="42.5" y="82.28" width="2.35" height="3.45" fill="#700909"/>
<rect x="44.8" y="82.28" width="2.35" height="3.45" fill="#600808"/>
<rect x="47.0" y="82.28" width="2.25" height="3.45" fill="#070a05"/>
<rect x="49.1" y="82.28" width="2.25" height="3.45" fill="#070a05"/>
<rect x="51.3" y="82.28" width="2.25" height="3.45" fill="#060904"/>
<rect x="53.5" y="82.28" width="2.25" height="3.45" fill="#080c06"/>
<rect x="55.6" y="82.28" width="2.10" height="3.45" fill="#0b380b"/>
<rect x="57.6" y="82.28" width="2.10" height="3.45" fill="#0d440d"/>
<rect x="59.6" y="82.28" width="2.10" height="3.45" fill="#0d430d"/>
<rect x="61.6" y="82.28" width="2.10" height="3.45" fill="#0f4b0f"/>
<rect x="63.6" y="82.28" width="2.10" height="3.45" fill="#0b390b"/>
<rect x="65.6" y="82.28" width="2.10" height="3.45" fill="#070b05"/>
<rect x="67.6" y="82.28" width="2.10" height="3.45" fill="#080d06"/>
<rect x="69.6" y="82.28" width="2.10" height="3.45" fill="#050804"/>
<rect x="71.6" y="82.28" width="2.10" height="3.45" fill="#080c06"/>
<rect x="73.6" y="82.28" width="2.10" height="3.45" fill="#070b05"/>
<rect x="75.6" y="82.28" width="2.18" height="3.45" fill="#0c3f0c"/>
<rect x="77.7" y="82.28" width="2.18" height="3.45" fill="#082c08"/>
<rect x="79.8" y="82.28" width="2.18" height="3.45" fill="#0d410d"/>
<rect x="81.8" y="82.28" width="2.18" height="3.45" fill="#0a340a"/>
<rect x="83.9" y="82.28" width="2.18" height="3.45" fill="#092e09"/>
<rect x="86.0" y="82.28" width="1.93" height="3.45" fill="#082b08"/>
<rect x="87.8" y="82.28" width="1.93" height="3.45" fill="#0e460e"/>
<rect x="89.7" y="82.28" width="1.93" height="3.45" fill="#0b370b"/>
<rect x="91.5" y="82.28" width="1.93" height="3.45" fill="#093009"/>
<rect x="93.3" y="82.28" width="1.93" height="3.45" fill="#0a320a"/>
<rect x="95.2" y="82.28" width="1.93" height="3.45" fill="#0e490e"/>
<rect x="97.0" y="82.28" width="2.20" height="3.45" fill="#070b05"/>
<rect x="99.1" y="82.28" width="2.20" height="3.45" fill="#090d06"/>
<rect x="101.2" y="82.28" width="2.20" height="3.45" fill="#060a05"/>
<rect x="103.3" y="82.28" width="2.20" height="3.45" fill="#060a05"/>
<rect x="105.4" y="82.28" width="2.20" height="3.45" fill="#090e07"/>
<rect x="107.5" y="82.28" width="2.18" height="3.45" fill="#0d420d"/>
<rect x="109.6" y="82.28" width="2.18" height="3.45" fill="#092e09"/>
<rect x="111.7" y="82.28" width="2.18" height="3.45" fill="#0b390b"/>
<rect x="113.8" y="82.28" width="2.18" height="3.45" fill="#093009"/>
<rect x="115.8" y="82.28" width="2.18" height="3.45" fill="#0a350a"/>
<rect x="117.9" y="82.28" width="2.18" height="3.45" fill="#0b370b"/>
<rect x="120.0" y="82.28" width="2.10" height="3.45" fill="#0c3e0c"/>
<rect x="122.0" y="82.28" width="2.10" height="3.45" fill="#0c400c"/>
<rect x="124.0" y="82.28" width="2.10" height="3.45" fill="#0c3c0c"/>
<rect x="126.0" y="82.28" width="2.10" height="3.45" fill="#0b3a0b"/>
<rect x="128.0" y="82.28" width="2.10" height="3.45" fill="#0b3b0b"/>
<rect x="130.0" y="82.28" width="2.10" height="3.45" fill="#0e460e"/>
<rect x="132.0" y="82.28" width="2.18" height="3.45" fill="#0a340a"/>
<rect x="134.1" y="82.28" width="2.18" height="3.45" fill="#0a330a"/>
<rect x="136.2" y="82.28" width="2.18" height="3.45" fill="#0b3b0b"/>
<rect x="138.2" y="82.28" width="2.18" height="3.45" fill="#093109"/>
<rect x="140.3" y="82.28" width="2.18" height="3.45" fill="#0b370b"/>
<rect x="142.4" y="82.28" width="2.18" height="3.45" fill="#0b3b0b"/>
<rect x="144.5" y="82.28" width="2.18" height="3.45" fill="#0b3a0b"/>
<rect x="146.6" y="82.28" width="2.18" height="3.45" fill="#0a320a"/>
<rect x="148.7" y="82.28" width="2.18" height="3.45" fill="#0b3b0b"/>
<rect x="150.8" y="82.28" width="2.18" height="3.45" fill="#0e490e"/>
<rect x="152.8" y="82.28" width="2.18" height="3.45" fill="#0b3b0b"/>
<rect x="154.9" y="82.28" width="4.18" height="3.45" fill="#092e09"/>
<rect x="3.0" y="85.62" width="3.98" height="3.45" fill="#630808"/>
<rect x="6.9" y="85.62" width="1.98" height="3.45" fill="#530707"/>
<rect x="8.8" y="85.62" width="1.98" height="3.45" fill="#6d0909"/>
<rect x="10.6" y="85.62" width="1.98" height="3.45" fill="#4b0606"/>
<rect x="12.5" y="85.62" width="1.85" height="3.45" fill="#550707"/>
<rect x="14.2" y="85.62" width="1.85" height="3.45" fill="#610808"/>
<rect x="16.0" y="85.62" width="1.85" height="3.45" fill="#640808"/>
<rect x="17.8" y="85.62" width="1.85" height="3.45" fill="#5c0707"/>
<rect x="19.5" y="85.62" width="2.60" height="3.45" fill="#060a05"/>
<rect x="22.0" y="85.62" width="2.60" height="3.45" fill="#070a05"/>
<rect x="24.5" y="85.62" width="2.60" height="3.45" fill="#060904"/>
<rect x="27.0" y="85.62" width="2.60" height="3.45" fill="#070b05"/>
<rect x="29.5" y="85.62" width="2.23" height="3.45" fill="#680808"/>
<rect x="31.6" y="85.62" width="2.23" height="3.45" fill="#650808"/>
<rect x="33.8" y="85.62" width="2.23" height="3.45" fill="#4d0606"/>
<rect x="35.9" y="85.62" width="2.23" height="3.45" fill="#600808"/>
<rect x="38.0" y="85.62" width="2.35" height="3.45" fill="#5a0707"/>
<rect x="40.2" y="85.62" width="2.35" height="3.45" fill="#6d0909"/>
<rect x="42.5" y="85.62" width="2.35" height="3.45" fill="#670808"/>
<rect x="44.8" y="85.62" width="2.35" height="3.45" fill="#6d0909"/>
<rect x="47.0" y="85.62" width="2.25" height="3.45" fill="#070a05"/>
<rect x="49.1" y="85.62" width="2.25" height="3.45" fill="#080c06"/>
<rect x="51.3" y="85.62" width="2.25" height="3.45" fill="#060904"/>
<rect x="53.5" y="85.62" width="2.25" height="3.45" fill="#090e07"/>
<rect x="55.6" y="85.62" width="2.10" height="3.45" fill="#0d420d"/>
<rect x="57.6" y="85.62" width="2.10" height="3.45" fill="#0c3c0c"/>
<rect x="59.6" y="85.62" width="2.10" height="3.45" fill="#0b3b0b"/>
<rect x="61.6" y="85.62" width="2.10" height="3.45" fill="#0d450d"/>
<rect x="63.6" y="85.62" width="2.10" height="3.45" fill="#0c400c"/>
<rect x="65.6" y="85.62" width="2.10" height="3.45" fill="#070a05"/>
<rect x="67.6" y="85.62" width="2.10" height="3.45" fill="#080d06"/>
<rect x="69.6" y="85.62" width="2.10" height="3.45" fill="#060904"/>
<rect x="71.6" y="85.62" width="2.10" height="3.45" fill="#060a05"/>
<rect x="73.6" y="85.62" width="2.10" height="3.45" fill="#070b05"/>
<rect x="75.6" y="85.62" width="2.18" height="3.45" fill="#060a05"/>
<rect x="77.7" y="85.62" width="2.18" height="3.45" fill="#070b05"/>
<rect x="79.8" y="85.62" width="2.18" height="3.45" fill="#070a05"/>
<rect x="81.8" y="85.62" width="2.18" height="3.45" fill="#060904"/>
<rect x="83.9" y="85.62" width="2.18" height="3.45" fill="#070b05"/>
<rect x="86.0" y="85.62" width="1.93" height="3.45" fill="#060904"/>
<rect x="87.8" y="85.62" width="1.93" height="3.45" fill="#070b05"/>
<rect x="89.7" y="85.62" width="1.93" height="3.45" fill="#070b05"/>
<rect x="91.5" y="85.62" width="1.93" height="3.45" fill="#070a05"/>
<rect x="93.3" y="85.62" width="1.93" height="3.45" fill="#060a05"/>
<rect x="95.2" y="85.62" width="1.93" height="3.45" fill="#090e07"/>
<rect x="97.0" y="85.62" width="2.20" height="3.45" fill="#070b05"/>
<rect x="99.1" y="85.62" width="2.20" height="3.45" fill="#090e07"/>
<rect x="101.2" y="85.62" width="2.20" height="3.45" fill="#080c06"/>
<rect x="103.3" y="85.62" width="2.20" height="3.45" fill="#060904"/>
<rect x="105.4" y="85.62" width="2.20" height="3.45" fill="#080c06"/>
<rect x="107.5" y="85.62" width="2.18" height="3.45" fill="#0c3f0c"/>
<rect x="109.6" y="85.62" width="2.18" height="3.45" fill="#0a330a"/>
<rect x="111.7" y="85.62" width="2.18" height="3.45" fill="#0c3d0c"/>
<rect x="113.8" y="85.62" width="2.18" height="3.45" fill="#093009"/>
<rect x="115.8" y="85.62" width="2.18" height="3.45" fill="#0a320a"/>
<rect x="117.9" y="85.62" width="2.18" height="3.45" fill="#093109"/>
<rect x="120.0" y="85.62" width="2.10" height="3.45" fill="#0d430d"/>
<rect x="122.0" y="85.62" width="2.10" height="3.45" fill="#0f4b0f"/>
<rect x="124.0" y="85.62" width="2.10" height="3.45" fill="#0a350a"/>
<rect x="126.0" y="85.62" width="2.10" height="3.45" fill="#0b380b"/>
<rect x="128.0" y="85.62" width="2.10" height="3.45" fill="#0b3a0b"/>
<rect x="130.0" y="85.62" width="2.10" height="3.45" fill="#0c3f0c"/>
<rect x="132.0" y="85.62" width="2.18" height="3.45" fill="#080c06"/>
<rect x="134.1" y="85.62" width="2.18" height="3.45" fill="#080d06"/>
<rect x="136.2" y="85.62" width="2.18" height="3.45" fill="#070a05"/>
<rect x="138.2" y="85.62" width="2.18" height="3.45" fill="#060904"/>
<rect x="140.3" y="85.62" width="2.18" height="3.45" fill="#070b05"/>
<rect x="142.4" y="85.62" width="2.18" height="3.45" fill="#080d06"/>
<rect x="144.5" y="85.62" width="2.18" height="3.45" fill="#060a05"/>
<rect x="146.6" y="85.62" width="2.18" height="3.45" fill="#080c06"/>
<rect x="148.7" y="85.62" width="2.18" height="3.45" fill="#070b05"/>
<rect x="150.8" y="85.62" width="2.18" height="3.45" fill="#080d06"/>
<rect x="152.8" y="85.62" width="2.18" height="3.45" fill="#070b05"/>
<rect x="154.9" y="85.62" width="4.18" height="3.45" fill="#060a05"/>
<rect x="3.0" y="88.97" width="3.98" height="3.45" fill="#070b05"/>
<rect x="6.9" y="88.97" width="1.98" height="3.45" fill="#080c06"/>
<rect x="8.8" y="88.97" width="1.98" height="3.45" fill="#090d06"/>
<rect x="10.6" y="88.97" width="1.98" height="3.45" fill="#070b05"/>
<rect x="12.5" y="88.97" width="1.85" height="3.45" fill="#080c06"/>
<rect x="14.2" y="88.97" width="1.85" height="3.45" fill="#080c06"/>
<rect x="16.0" y="88.97" width="1.85" height="3.45" fill="#070b05"/>
<rect x="17.8" y="88.97" width="1.85" height="3.45" fill="#080c06"/>
<rect x="19.5" y="88.97" width="2.60" height="3.45" fill="#600808"/>
<rect x="22.0" y="88.97" width="2.60" height="3.45" fill="#5e0707"/>
<rect x="24.5" y="88.97" width="2.60" height="3.45" fill="#070a05"/>
<rect x="27.0" y="88.97" width="2.60" height="3.45" fill="#070b05"/>
<rect x="29.5" y="88.97" width="2.23" height="3.45" fill="#090d06"/>
<rect x="31.6" y="88.97" width="2.23" height="3.45" fill="#080c06"/>
<rect x="33.8" y="88.97" width="2.23" height="3.45" fill="#070b05"/>
<rect x="35.9" y="88.97" width="2.23" height="3.45" fill="#060a05"/>
<rect x="38.0" y="88.97" width="2.35" height="3.45" fill="#9c0b0b"/>
<rect x="40.2" y="88.97" width="2.35" height="3.45" fill="#c30e0e"/>
<rect x="42.5" y="88.97" width="2.35" height="3.45" fill="#ba0e0e"/>
<rect x="44.8" y="88.97" width="2.35" height="3.45" fill="#b80d0d"/>
<rect x="47.0" y="88.97" width="2.25" height="3.45" fill="#630808"/>
<rect x="49.1" y="88.97" width="2.25" height="3.45" fill="#630808"/>
<rect x="51.3" y="88.97" width="2.25" height="3.45" fill="#5e0707"/>
<rect x="53.5" y="88.97" width="2.25" height="3.45" fill="#6f0909"/>
<rect x="55.6" y="88.97" width="2.10" height="3.45" fill="#080c06"/>
<rect x="57.6" y="88.97" width="2.10" height="3.45" fill="#080d06"/>
<rect x="59.6" y="88.97" width="2.10" height="3.45" fill="#080d06"/>
<rect x="61.6" y="88.97" width="2.10" height="3.45" fill="#080c06"/>
<rect x="63.6" y="88.97" width="2.10" height="3.45" fill="#080d06"/>
<rect x="65.6" y="88.97" width="2.10" height="3.45" fill="#070b05"/>
<rect x="67.6" y="88.97" width="2.10" height="3.45" fill="#080c06"/>
<rect x="69.6" y="88.97" width="2.10" height="3.45" fill="#060904"/>
<rect x="71.6" y="88.97" width="2.10" height="3.45" fill="#070b05"/>
<rect x="73.6" y="88.97" width="2.10" height="3.45" fill="#090d06"/>
<rect x="75.6" y="88.97" width="2.18" height="3.45" fill="#070b05"/>
<rect x="77.7" y="88.97" width="2.18" height="3.45" fill="#060904"/>
<rect x="79.8" y="88.97" width="2.18" height="3.45" fill="#080c06"/>
<rect x="81.8" y="88.97" width="2.18" height="3.45" fill="#070a05"/>
<rect x="83.9" y="88.97" width="2.18" height="3.45" fill="#070b05"/>
<rect x="86.0" y="88.97" width="1.93" height="3.45" fill="#060904"/>
<rect x="87.8" y="88.97" width="1.93" height="3.45" fill="#080c06"/>
<rect x="89.7" y="88.97" width="1.93" height="3.45" fill="#070b05"/>
<rect x="91.5" y="88.97" width="1.93" height="3.45" fill="#060904"/>
<rect x="93.3" y="88.97" width="1.93" height="3.45" fill="#070a05"/>
<rect x="95.2" y="88.97" width="1.93" height="3.45" fill="#090e07"/>
<rect x="97.0" y="88.97" width="2.20" height="3.45" fill="#080c06"/>
<rect x="99.1" y="88.97" width="2.20" height="3.45" fill="#080c06"/>
<rect x="101.2" y="88.97" width="2.20" height="3.45" fill="#070b05"/>
<rect x="103.3" y="88.97" width="2.20" height="3.45" fill="#070b05"/>
<rect x="105.4" y="88.97" width="2.20" height="3.45" fill="#080c06"/>
<rect x="107.5" y="88.97" width="2.18" height="3.45" fill="#070b05"/>
<rect x="109.6" y="88.97" width="2.18" height="3.45" fill="#060904"/>
<rect x="111.7" y="88.97" width="2.18" height="3.45" fill="#080c06"/>
<rect x="113.8" y="88.97" width="2.18" height="3.45" fill="#070a05"/>
<rect x="115.8" y="88.97" width="2.18" height="3.45" fill="#060904"/>
<rect x="117.9" y="88.97" width="2.18" height="3.45" fill="#060a05"/>
<rect x="120.0" y="88.97" width="2.10" height="3.45" fill="#070b05"/>
<rect x="122.0" y="88.97" width="2.10" height="3.45" fill="#090e07"/>
<rect x="124.0" y="88.97" width="2.10" height="3.45" fill="#080c06"/>
<rect x="126.0" y="88.97" width="2.10" height="3.45" fill="#070b05"/>
<rect x="128.0" y="88.97" width="2.10" height="3.45" fill="#070b05"/>
<rect x="130.0" y="88.97" width="2.10" height="3.45" fill="#090e07"/>
<rect x="132.0" y="88.97" width="2.18" height="3.45" fill="#060a05"/>
<rect x="134.1" y="88.97" width="2.18" height="3.45" fill="#080c06"/>
<rect x="136.2" y="88.97" width="2.18" height="3.45" fill="#070a05"/>
<rect x="138.2" y="88.97" width="2.18" height="3.45" fill="#060a05"/>
<rect x="140.3" y="88.97" width="2.18" height="3.45" fill="#070a05"/>
<rect x="142.4" y="88.97" width="2.18" height="3.45" fill="#080d06"/>
<rect x="144.5" y="88.97" width="2.18" height="3.45" fill="#060a05"/>
<rect x="146.6" y="88.97" width="2.18" height="3.45" fill="#060904"/>
<rect x="148.7" y="88.97" width="2.18" height="3.45" fill="#060904"/>
<rect x="150.8" y="88.97" width="2.18" height="3.45" fill="#090d06"/>
<rect x="152.8" y="88.97" width="2.18" height="3.45" fill="#070b05"/>
<rect x="154.9" y="88.97" width="4.18" height="3.45" fill="#070b05"/>
<rect x="3.0" y="92.32" width="3.98" height="3.45" fill="#060904"/>
<rect x="6.9" y="92.32" width="1.98" height="3.45" fill="#060a05"/>
<rect x="8.8" y="92.32" width="1.98" height="3.45" fill="#090d06"/>
<rect x="10.6" y="92.32" width="1.98" height="3.45" fill="#060904"/>
<rect x="12.5" y="92.32" width="1.85" height="3.45" fill="#070b05"/>
<rect x="14.2" y="92.32" width="1.85" height="3.45" fill="#070b05"/>
<rect x="16.0" y="92.32" width="1.85" height="3.45" fill="#080c06"/>
<rect x="17.8" y="92.32" width="1.85" height="3.45" fill="#090e07"/>
<rect x="19.5" y="92.32" width="2.60" height="3.45" fill="#060a05"/>
<rect x="22.0" y="92.32" width="2.60" height="3.45" fill="#070b05"/>
<rect x="24.5" y="92.32" width="2.60" height="3.45" fill="#060a05"/>
<rect x="27.0" y="92.32" width="2.60" height="3.45" fill="#060a05"/>
<rect x="29.5" y="92.32" width="2.23" height="3.45" fill="#730909"/>
<rect x="31.6" y="92.32" width="2.23" height="3.45" fill="#630808"/>
<rect x="33.8" y="92.32" width="2.23" height="3.45" fill="#4c0606"/>
<rect x="35.9" y="92.32" width="2.23" height="3.45" fill="#570707"/>
<rect x="38.0" y="92.32" width="2.35" height="3.45" fill="#9c0b0b"/>
<rect x="40.2" y="92.32" width="2.35" height="3.45" fill="#ce0f0f"/>
<rect x="42.5" y="92.32" width="2.35" height="3.45" fill="#be0e0e"/>
<rect x="44.8" y="92.32" width="2.35" height="3.45" fill="#bc0e0e"/>
<rect x="47.0" y="92.32" width="2.25" height="3.45" fill="#630808"/>
<rect x="49.1" y="92.32" width="2.25" height="3.45" fill="#620808"/>
<rect x="51.3" y="92.32" width="2.25" height="3.45" fill="#4a0606"/>
<rect x="53.5" y="92.32" width="2.25" height="3.45" fill="#670808"/>
<rect x="55.6" y="92.32" width="2.10" height="3.45" fill="#070b05"/>
<rect x="57.6" y="92.32" width="2.10" height="3.45" fill="#080c06"/>
<rect x="59.6" y="92.32" width="2.10" height="3.45" fill="#080c06"/>
<rect x="61.6" y="92.32" width="2.10" height="3.45" fill="#090e07"/>
<rect x="63.6" y="92.32" width="2.10" height="3.45" fill="#090d06"/>
<rect x="65.6" y="92.32" width="2.10" height="3.45" fill="#080c06"/>
<rect x="67.6" y="92.32" width="2.10" height="3.45" fill="#080c06"/>
<rect x="69.6" y="92.32" width="2.10" height="3.45" fill="#070a05"/>
<rect x="71.6" y="92.32" width="2.10" height="3.45" fill="#080c06"/>
<rect x="73.6" y="92.32" width="2.10" height="3.45" fill="#080c06"/>
<rect x="75.6" y="92.32" width="2.18" height="3.45" fill="#080c06"/>
<rect x="77.7" y="92.32" width="2.18" height="3.45" fill="#070b05"/>
<rect x="79.8" y="92.32" width="2.18" height="3.45" fill="#080d06"/>
<rect x="81.8" y="92.32" width="2.18" height="3.45" fill="#060904"/>
<rect x="83.9" y="92.32" width="2.18" height="3.45" fill="#070b05"/>
<rect x="86.0" y="92.32" width="1.93" height="3.45" fill="#050804"/>
<rect x="87.8" y="92.32" width="1.93" height="3.45" fill="#090d06"/>
<rect x="89.7" y="92.32" width="1.93" height="3.45" fill="#070b05"/>
<rect x="91.5" y="92.32" width="1.93" height="3.45" fill="#070a05"/>
<rect x="93.3" y="92.32" width="1.93" height="3.45" fill="#070b05"/>
<rect x="95.2" y="92.32" width="1.93" height="3.45" fill="#090d06"/>
<rect x="97.0" y="92.32" width="2.20" height="3.45" fill="#080c06"/>
<rect x="99.1" y="92.32" width="2.20" height="3.45" fill="#090e07"/>
<rect x="101.2" y="92.32" width="2.20" height="3.45" fill="#080c06"/>
<rect x="103.3" y="92.32" width="2.20" height="3.45" fill="#070b05"/>
<rect x="105.4" y="92.32" width="2.20" height="3.45" fill="#090d06"/>
<rect x="107.5" y="92.32" width="2.18" height="3.45" fill="#080c06"/>
<rect x="109.6" y="92.32" width="2.18" height="3.45" fill="#060a05"/>
<rect x="111.7" y="92.32" width="2.18" height="3.45" fill="#090d06"/>
<rect x="113.8" y="92.32" width="2.18" height="3.45" fill="#060a05"/>
<rect x="115.8" y="92.32" width="2.18" height="3.45" fill="#060904"/>
<rect x="117.9" y="92.32" width="2.18" height="3.45" fill="#070b05"/>
<rect x="120.0" y="92.32" width="2.10" height="3.45" fill="#080c06"/>
<rect x="122.0" y="92.32" width="2.10" height="3.45" fill="#080d06"/>
<rect x="124.0" y="92.32" width="2.10" height="3.45" fill="#080c06"/>
<rect x="126.0" y="92.32" width="2.10" height="3.45" fill="#080c06"/>
<rect x="128.0" y="92.32" width="2.10" height="3.45" fill="#070a05"/>
<rect x="130.0" y="92.32" width="2.10" height="3.45" fill="#090d06"/>
<rect x="132.0" y="92.32" width="2.18" height="3.45" fill="#060a05"/>
<rect x="134.1" y="92.32" width="2.18" height="3.45" fill="#070b05"/>
<rect x="136.2" y="92.32" width="2.18" height="3.45" fill="#060904"/>
<rect x="138.2" y="92.32" width="2.18" height="3.45" fill="#060a05"/>
<rect x="140.3" y="92.32" width="2.18" height="3.45" fill="#070a05"/>
<rect x="142.4" y="92.32" width="2.18" height="3.45" fill="#070b05"/>
<rect x="144.5" y="92.32" width="2.18" height="3.45" fill="#080c06"/>
<rect x="146.6" y="92.32" width="2.18" height="3.45" fill="#060a05"/>
<rect x="148.7" y="92.32" width="2.18" height="3.45" fill="#070b05"/>
<rect x="150.8" y="92.32" width="2.18" height="3.45" fill="#090e07"/>
<rect x="152.8" y="92.32" width="2.18" height="3.45" fill="#080d06"/>
<rect x="154.9" y="92.32" width="4.18" height="3.45" fill="#060904"/>
<rect x="3.0" y="95.66" width="3.98" height="3.45" fill="#aa0c0c"/>
<rect x="6.9" y="95.66" width="1.98" height="3.45" fill="#b80d0d"/>
<rect x="8.8" y="95.66" width="1.98" height="3.45" fill="#a90c0c"/>
<rect x="10.6" y="95.66" width="1.98" height="3.45" fill="#880a0a"/>
<rect x="12.5" y="95.66" width="1.85" height="3.45" fill="#b90e0e"/>
<rect x="14.2" y="95.66" width="1.85" height="3.45" fill="#ac0d0d"/>
<rect x="16.0" y="95.66" width="1.85" height="3.45" fill="#df1010"/>
<rect x="17.8" y="95.66" width="1.85" height="3.45" fill="#d20f0f"/>
<rect x="19.5" y="95.66" width="2.60" height="3.45" fill="#070a05"/>
<rect x="22.0" y="95.66" width="2.60" height="3.45" fill="#080c06"/>
<rect x="24.5" y="95.66" width="2.60" height="3.45" fill="#070b05"/>
<rect x="27.0" y="95.66" width="2.60" height="3.45" fill="#070b05"/>
<rect x="29.5" y="95.66" width="2.23" height="3.45" fill="#d81010"/>
<rect x="31.6" y="95.66" width="2.23" height="3.45" fill="#bf0e0e"/>
<rect x="33.8" y="95.66" width="2.23" height="3.45" fill="#a30c0c"/>
<rect x="35.9" y="95.66" width="2.23" height="3.45" fill="#b50d0d"/>
<rect x="38.0" y="95.66" width="2.35" height="3.45" fill="#4e0606"/>
<rect x="40.2" y="95.66" width="2.35" height="3.45" fill="#6f0909"/>
<rect x="42.5" y="95.66" width="2.35" height="3.45" fill="#700909"/>
<rect x="44.8" y="95.66" width="2.35" height="3.45" fill="#680808"/>
<rect x="47.0" y="95.66" width="2.25" height="3.45" fill="#4d0606"/>
<rect x="49.1" y="95.66" width="2.25" height="3.45" fill="#590707"/>
<rect x="51.3" y="95.66" width="2.25" height="3.45" fill="#500606"/>
<rect x="53.5" y="95.66" width="2.25" height="3.45" fill="#6d0909"/>
<rect x="55.6" y="95.66" width="2.10" height="3.45" fill="#5f0808"/>
<rect x="57.6" y="95.66" width="2.10" height="3.45" fill="#690808"/>
<rect x="59.6" y="95.66" width="2.10" height="3.45" fill="#6a0808"/>
<rect x="61.6" y="95.66" width="2.10" height="3.45" fill="#6c0909"/>
<rect x="63.6" y="95.66" width="2.10" height="3.45" fill="#630808"/>
<rect x="65.6" y="95.66" width="2.10" height="3.45" fill="#630808"/>
<rect x="67.6" y="95.66" width="2.10" height="3.45" fill="#690808"/>
<rect x="69.6" y="95.66" width="2.10" height="3.45" fill="#4b0606"/>
<rect x="71.6" y="95.66" width="2.10" height="3.45" fill="#5a0707"/>
<rect x="73.6" y="95.66" width="2.10" height="3.45" fill="#6a0909"/>
<rect x="75.6" y="95.66" width="2.18" height="3.45" fill="#125312"/>
<rect x="77.7" y="95.66" width="2.18" height="3.45" fill="#125212"/>
<rect x="79.8" y="95.66" width="2.18" height="3.45" fill="#197119"/>
<rect x="81.8" y="95.66" width="2.18" height="3.45" fill="#166416"/>
<rect x="83.9" y="95.66" width="2.18" height="3.45" fill="#135713"/>
<rect x="86.0" y="95.66" width="1.93" height="3.45" fill="#104b10"/>
<rect x="87.8" y="95.66" width="1.93" height="3.45" fill="#1a761a"/>
<rect x="89.7" y="95.66" width="1.93" height="3.45" fill="#156115"/>
<rect x="91.5" y="95.66" width="1.93" height="3.45" fill="#156115"/>
<rect x="93.3" y="95.66" width="1.93" height="3.45" fill="#156315"/>
<rect x="95.2" y="95.66" width="1.93" height="3.45" fill="#1a791a"/>
<rect x="97.0" y="95.66" width="2.20" height="3.45" fill="#0c3e0c"/>
<rect x="99.1" y="95.66" width="2.20" height="3.45" fill="#0c3d0c"/>
<rect x="101.2" y="95.66" width="2.20" height="3.45" fill="#0a360a"/>
<rect x="103.3" y="95.66" width="2.20" height="3.45" fill="#0b380b"/>
<rect x="105.4" y="95.66" width="2.20" height="3.45" fill="#0d450d"/>
<rect x="107.5" y="95.66" width="2.18" height="3.45" fill="#0b3a0b"/>
<rect x="109.6" y="95.66" width="2.18" height="3.45" fill="#092e09"/>
<rect x="111.7" y="95.66" width="2.18" height="3.45" fill="#0d420d"/>
<rect x="113.8" y="95.66" width="2.18" height="3.45" fill="#0b380b"/>
<rect x="115.8" y="95.66" width="2.18" height="3.45" fill="#093109"/>
<rect x="117.9" y="95.66" width="2.18" height="3.45" fill="#0c3f0c"/>
<rect x="120.0" y="95.66" width="2.10" height="3.45" fill="#0d440d"/>
<rect x="122.0" y="95.66" width="2.10" height="3.45" fill="#0c3d0c"/>
<rect x="124.0" y="95.66" width="2.10" height="3.45" fill="#0b390b"/>
<rect x="126.0" y="95.66" width="2.10" height="3.45" fill="#0c3c0c"/>
<rect x="128.0" y="95.66" width="2.10" height="3.45" fill="#0a330a"/>
<rect x="130.0" y="95.66" width="2.10" height="3.45" fill="#0e470e"/>
<rect x="132.0" y="95.66" width="2.18" height="3.45" fill="#093109"/>
<rect x="134.1" y="95.66" width="2.18" height="3.45" fill="#0b370b"/>
<rect x="136.2" y="95.66" width="2.18" height="3.45" fill="#0c3d0c"/>
<rect x="138.2" y="95.66" width="2.18" height="3.45" fill="#0a340a"/>
<rect x="140.3" y="95.66" width="2.18" height="3.45" fill="#0a360a"/>
<rect x="142.4" y="95.66" width="2.18" height="3.45" fill="#0c3d0c"/>
<rect x="144.5" y="95.66" width="2.18" height="3.45" fill="#0a350a"/>
<rect x="146.6" y="95.66" width="2.18" height="3.45" fill="#0a360a"/>
<rect x="148.7" y="95.66" width="2.18" height="3.45" fill="#0a320a"/>
<rect x="150.8" y="95.66" width="2.18" height="3.45" fill="#0e460e"/>
<rect x="152.8" y="95.66" width="2.18" height="3.45" fill="#0c3c0c"/>
<rect x="154.9" y="95.66" width="4.18" height="3.45" fill="#0c3e0c"/>
<rect x="3.0" y="99.01" width="3.98" height="3.45" fill="#092409"/>
<rect x="6.9" y="99.01" width="1.98" height="3.45" fill="#082008"/>
<rect x="8.8" y="99.01" width="1.98" height="3.45" fill="#092409"/>
<rect x="10.6" y="99.01" width="1.98" height="3.45" fill="#071d07"/>
<rect x="12.5" y="99.01" width="1.85" height="3.45" fill="#0a280a"/>
<rect x="14.2" y="99.01" width="1.85" height="3.45" fill="#081f08"/>
<rect x="16.0" y="99.01" width="1.85" height="3.45" fill="#092509"/>
<rect x="17.8" y="99.01" width="1.85" height="3.45" fill="#092509"/>
<rect x="19.5" y="99.01" width="2.60" height="3.45" fill="#070a05"/>
<rect x="22.0" y="99.01" width="2.60" height="3.45" fill="#070b05"/>
<rect x="24.5" y="99.01" width="2.60" height="3.45" fill="#070b05"/>
<rect x="27.0" y="99.01" width="2.60" height="3.45" fill="#080c06"/>
<rect x="29.5" y="99.01" width="2.23" height="3.45" fill="#080c06"/>
<rect x="31.6" y="99.01" width="2.23" height="3.45" fill="#070b05"/>
<rect x="33.8" y="99.01" width="2.23" height="3.45" fill="#070b05"/>
<rect x="35.9" y="99.01" width="2.23" height="3.45" fill="#070a05"/>
<rect x="38.0" y="99.01" width="2.35" height="3.45" fill="#aa0c0c"/>
<rect x="40.2" y="99.01" width="2.35" height="3.45" fill="#bb0e0e"/>
<rect x="42.5" y="99.01" width="2.35" height="3.45" fill="#c10e0e"/>
<rect x="44.8" y="99.01" width="2.35" height="3.45" fill="#be0e0e"/>
<rect x="47.0" y="99.01" width="2.25" height="3.45" fill="#b61010"/>
<rect x="49.1" y="99.01" width="2.25" height="3.45" fill="#f31515"/>
<rect x="51.3" y="99.01" width="2.25" height="3.45" fill="#ca1212"/>
<rect x="53.5" y="99.01" width="2.25" height="3.45" fill="#f61515"/>
<rect x="55.6" y="99.01" width="2.10" height="3.45" fill="#070b05"/>
<rect x="57.6" y="99.01" width="2.10" height="3.45" fill="#070b05"/>
<rect x="59.6" y="99.01" width="2.10" height="3.45" fill="#060a05"/>
<rect x="61.6" y="99.01" width="2.10" height="3.45" fill="#0a0f07"/>
<rect x="63.6" y="99.01" width="2.10" height="3.45" fill="#080d06"/>
<rect x="65.6" y="99.01" width="2.10" height="3.45" fill="#090d06"/>
<rect x="67.6" y="99.01" width="2.10" height="3.45" fill="#070b05"/>
<rect x="69.6" y="99.01" width="2.10" height="3.45" fill="#060a05"/>
<rect x="71.6" y="99.01" width="2.10" height="3.45" fill="#070a05"/>
<rect x="73.6" y="99.01" width="2.10" height="3.45" fill="#070b05"/>
<rect x="75.6" y="99.01" width="2.18" height="3.45" fill="#080c06"/>
<rect x="77.7" y="99.01" width="2.18" height="3.45" fill="#070b05"/>
<rect x="79.8" y="99.01" width="2.18" height="3.45" fill="#070b05"/>
<rect x="81.8" y="99.01" width="2.18" height="3.45" fill="#080c06"/>
<rect x="83.9" y="99.01" width="2.18" height="3.45" fill="#070b05"/>
<rect x="86.0" y="99.01" width="1.93" height="3.45" fill="#060904"/>
<rect x="87.8" y="99.01" width="1.93" height="3.45" fill="#080d06"/>
<rect x="89.7" y="99.01" width="1.93" height="3.45" fill="#080c06"/>
<rect x="91.5" y="99.01" width="1.93" height="3.45" fill="#070a05"/>
<rect x="93.3" y="99.01" width="1.93" height="3.45" fill="#070b05"/>
<rect x="95.2" y="99.01" width="1.93" height="3.45" fill="#080c06"/>
<rect x="97.0" y="99.01" width="2.20" height="3.45" fill="#080c06"/>
<rect x="99.1" y="99.01" width="2.20" height="3.45" fill="#090e07"/>
<rect x="101.2" y="99.01" width="2.20" height="3.45" fill="#070a05"/>
<rect x="103.3" y="99.01" width="2.20" height="3.45" fill="#070a05"/>
<rect x="105.4" y="99.01" width="2.20" height="3.45" fill="#0a0f07"/>
<rect x="107.5" y="99.01" width="2.18" height="3.45" fill="#080c06"/>
<rect x="109.6" y="99.01" width="2.18" height="3.45" fill="#070b05"/>
<rect x="111.7" y="99.01" width="2.18" height="3.45" fill="#080c06"/>
<rect x="113.8" y="99.01" width="2.18" height="3.45" fill="#060904"/>
<rect x="115.8" y="99.01" width="2.18" height="3.45" fill="#060904"/>
<rect x="117.9" y="99.01" width="2.18" height="3.45" fill="#060a05"/>
<rect x="120.0" y="99.01" width="2.10" height="3.45" fill="#090e07"/>
<rect x="122.0" y="99.01" width="2.10" height="3.45" fill="#080d06"/>
<rect x="124.0" y="99.01" width="2.10" height="3.45" fill="#070b05"/>
<rect x="126.0" y="99.01" width="2.10" height="3.45" fill="#060904"/>
<rect x="128.0" y="99.01" width="2.10" height="3.45" fill="#070a05"/>
<rect x="130.0" y="99.01" width="2.10" height="3.45" fill="#080d06"/>
<rect x="132.0" y="99.01" width="2.18" height="3.45" fill="#070b05"/>
<rect x="134.1" y="99.01" width="2.18" height="3.45" fill="#060a05"/>
<rect x="136.2" y="99.01" width="2.18" height="3.45" fill="#060904"/>
<rect x="138.2" y="99.01" width="2.18" height="3.45" fill="#070b05"/>
<rect x="140.3" y="99.01" width="2.18" height="3.45" fill="#060904"/>
<rect x="142.4" y="99.01" width="2.18" height="3.45" fill="#080c06"/>
<rect x="144.5" y="99.01" width="2.18" height="3.45" fill="#060904"/>
<rect x="146.6" y="99.01" width="2.18" height="3.45" fill="#060904"/>
<rect x="148.7" y="99.01" width="2.18" height="3.45" fill="#060904"/>
<rect x="150.8" y="99.01" width="2.18" height="3.45" fill="#080c06"/>
<rect x="152.8" y="99.01" width="2.18" height="3.45" fill="#080c06"/>
<rect x="154.9" y="99.01" width="4.18" height="3.45" fill="#060a05"/>
<rect x="3.0" y="102.35" width="3.98" height="3.45" fill="#060a05"/>
<rect x="6.9" y="102.35" width="1.98" height="3.45" fill="#070b05"/>
<rect x="8.8" y="102.35" width="1.98" height="3.45" fill="#070b05"/>
<rect x="10.6" y="102.35" width="1.98" height="3.45" fill="#060904"/>
<rect x="12.5" y="102.35" width="1.85" height="3.45" fill="#080c06"/>
<rect x="14.2" y="102.35" width="1.85" height="3.45" fill="#060a05"/>
<rect x="16.0" y="102.35" width="1.85" height="3.45" fill="#080c06"/>
<rect x="17.8" y="102.35" width="1.85" height="3.45" fill="#090d06"/>
<rect x="19.5" y="102.35" width="2.60" height="3.45" fill="#070b05"/>
<rect x="22.0" y="102.35" width="2.60" height="3.45" fill="#060904"/>
<rect x="24.5" y="102.35" width="2.60" height="3.45" fill="#070b05"/>
<rect x="27.0" y="102.35" width="2.60" height="3.45" fill="#080c06"/>
<rect x="29.5" y="102.35" width="2.23" height="3.45" fill="#670808"/>
<rect x="31.6" y="102.35" width="2.23" height="3.45" fill="#700909"/>
<rect x="33.8" y="102.35" width="2.23" height="3.45" fill="#500606"/>
<rect x="35.9" y="102.35" width="2.23" height="3.45" fill="#660808"/>
<rect x="38.0" y="102.35" width="2.35" height="3.45" fill="#520606"/>
<rect x="40.2" y="102.35" width="2.35" height="3.45" fill="#5d0707"/>
<rect x="42.5" y="102.35" width="2.35" height="3.45" fill="#6a0808"/>
<rect x="44.8" y="102.35" width="2.35" height="3.45" fill="#5e0707"/>
<rect x="47.0" y="102.35" width="2.25" height="3.45" fill="#5c0707"/>
<rect x="49.1" y="102.35" width="2.25" height="3.45" fill="#560707"/>
<rect x="51.3" y="102.35" width="2.25" height="3.45" fill="#5d0707"/>
<rect x="53.5" y="102.35" width="2.25" height="3.45" fill="#6e0909"/>
<rect x="55.6" y="102.35" width="2.10" height="3.45" fill="#070b05"/>
<rect x="57.6" y="102.35" width="2.10" height="3.45" fill="#070b05"/>
<rect x="59.6" y="102.35" width="2.10" height="3.45" fill="#080c06"/>
<rect x="61.6" y="102.35" width="2.10" height="3.45" fill="#080c06"/>
<rect x="63.6" y="102.35" width="2.10" height="3.45" fill="#090d06"/>
<rect x="65.6" y="102.35" width="2.10" height="3.45" fill="#070a05"/>
<rect x="67.6" y="102.35" width="2.10" height="3.45" fill="#070b05"/>
<rect x="69.6" y="102.35" width="2.10" height="3.45" fill="#060a05"/>
<rect x="71.6" y="102.35" width="2.10" height="3.45" fill="#070a05"/>
<rect x="73.6" y="102.35" width="2.10" height="3.45" fill="#080d06"/>
<rect x="75.6" y="102.35" width="2.18" height="3.45" fill="#070a05"/>
<rect x="77.7" y="102.35" width="2.18" height="3.45" fill="#070b05"/>
<rect x="79.8" y="102.35" width="2.18" height="3.45" fill="#080c06"/>
<rect x="81.8" y="102.35" width="2.18" height="3.45" fill="#060a05"/>
<rect x="83.9" y="102.35" width="2.18" height="3.45" fill="#060a05"/>
<rect x="86.0" y="102.35" width="1.93" height="3.45" fill="#050804"/>
<rect x="87.8" y="102.35" width="1.93" height="3.45" fill="#070b05"/>
<rect x="89.7" y="102.35" width="1.93" height="3.45" fill="#080c06"/>
<rect x="91.5" y="102.35" width="1.93" height="3.45" fill="#060a05"/>
<rect x="93.3" y="102.35" width="1.93" height="3.45" fill="#070a05"/>
<rect x="95.2" y="102.35" width="1.93" height="3.45" fill="#080c06"/>
<rect x="97.0" y="102.35" width="2.20" height="3.45" fill="#080d06"/>
<rect x="99.1" y="102.35" width="2.20" height="3.45" fill="#080d06"/>
<rect x="101.2" y="102.35" width="2.20" height="3.45" fill="#070b05"/>
<rect x="103.3" y="102.35" width="2.20" height="3.45" fill="#070a05"/>
<rect x="105.4" y="102.35" width="2.20" height="3.45" fill="#080c06"/>
<rect x="107.5" y="102.35" width="2.18" height="3.45" fill="#080c06"/>
<rect x="109.6" y="102.35" width="2.18" height="3.45" fill="#060904"/>
<rect x="111.7" y="102.35" width="2.18" height="3.45" fill="#070b05"/>
<rect x="113.8" y="102.35" width="2.18" height="3.45" fill="#070b05"/>
<rect x="115.8" y="102.35" width="2.18" height="3.45" fill="#060904"/>
<rect x="117.9" y="102.35" width="2.18" height="3.45" fill="#070a05"/>
<rect x="120.0" y="102.35" width="2.10" height="3.45" fill="#090e07"/>
<rect x="122.0" y="102.35" width="2.10" height="3.45" fill="#090e07"/>
<rect x="124.0" y="102.35" width="2.10" height="3.45" fill="#080d06"/>
<rect x="126.0" y="102.35" width="2.10" height="3.45" fill="#080c06"/>
<rect x="128.0" y="102.35" width="2.10" height="3.45" fill="#060904"/>
<rect x="130.0" y="102.35" width="2.10" height="3.45" fill="#080d06"/>
<rect x="132.0" y="102.35" width="2.18" height="3.45" fill="#060904"/>
<rect x="134.1" y="102.35" width="2.18" height="3.45" fill="#080c06"/>
<rect x="136.2" y="102.35" width="2.18" height="3.45" fill="#070b05"/>
<rect x="138.2" y="102.35" width="2.18" height="3.45" fill="#060904"/>
<rect x="140.3" y="102.35" width="2.18" height="3.45" fill="#060a05"/>
<rect x="142.4" y="102.35" width="2.18" height="3.45" fill="#090d06"/>
<rect x="144.5" y="102.35" width="2.18" height="3.45" fill="#070b05"/>
<rect x="146.6" y="102.35" width="2.18" height="3.45" fill="#060904"/>
<rect x="148.7" y="102.35" width="2.18" height="3.45" fill="#070b05"/>
<rect x="150.8" y="102.35" width="2.18" height="3.45" fill="#080d06"/>
<rect x="152.8" y="102.35" width="2.18" height="3.45" fill="#080c06"/>
<rect x="154.9" y="102.35" width="4.18" height="3.45" fill="#060904"/>
<rect x="3.0" y="105.70" width="3.98" height="3.45" fill="#4f0606"/>
<rect x="6.9" y="105.70" width="1.98" height="3.45" fill="#5e0707"/>
<rect x="8.8" y="105.70" width="1.98" height="3.45" fill="#690808"/>
<rect x="10.6" y="105.70" width="1.98" height="3.45" fill="#570707"/>
<rect x="12.5" y="105.70" width="1.85" height="3.45" fill="#510606"/>
<rect x="14.2" y="105.70" width="1.85" height="3.45" fill="#4c0606"/>
<rect x="16.0" y="105.70" width="1.85" height="3.45" fill="#5f0808"/>
<rect x="17.8" y="105.70" width="1.85" height="3.45" fill="#5d0707"/>
<rect x="19.5" y="105.70" width="2.60" height="3.45" fill="#9a0b0b"/>
<rect x="22.0" y="105.70" width="2.60" height="3.45" fill="#9b0b0b"/>
<rect x="24.5" y="105.70" width="2.60" height="3.45" fill="#060a05"/>
<rect x="27.0" y="105.70" width="2.60" height="3.45" fill="#070a05"/>
<rect x="29.5" y="105.70" width="2.23" height="3.45" fill="#d61010"/>
<rect x="31.6" y="105.70" width="2.23" height="3.45" fill="#b40d0d"/>
<rect x="33.8" y="105.70" width="2.23" height="3.45" fill="#bb0e0e"/>
<rect x="35.9" y="105.70" width="2.23" height="3.45" fill="#b40d0d"/>
<rect x="38.0" y="105.70" width="2.35" height="3.45" fill="#070b05"/>
<rect x="40.2" y="105.70" width="2.35" height="3.45" fill="#070b05"/>
<rect x="42.5" y="105.70" width="2.35" height="3.45" fill="#080d06"/>
<rect x="44.8" y="105.70" width="2.35" height="3.45" fill="#090d06"/>
<rect x="47.0" y="105.70" width="2.25" height="3.45" fill="#a20c0c"/>
<rect x="49.1" y="105.70" width="2.25" height="3.45" fill="#9b0b0b"/>
<rect x="51.3" y="105.70" width="2.25" height="3.45" fill="#b30d0d"/>
<rect x="53.5" y="105.70" width="2.25" height="3.45" fill="#df1010"/>
<rect x="55.6" y="105.70" width="2.10" height="3.45" fill="#580707"/>
<rect x="57.6" y="105.70" width="2.10" height="3.45" fill="#540707"/>
<rect x="59.6" y="105.70" width="2.10" height="3.45" fill="#670808"/>
<rect x="61.6" y="105.70" width="2.10" height="3.45" fill="#6f0909"/>
<rect x="63.6" y="105.70" width="2.10" height="3.45" fill="#590707"/>
<rect x="65.6" y="105.70" width="2.10" height="3.45" fill="#5a0707"/>
<rect x="67.6" y="105.70" width="2.10" height="3.45" fill="#530707"/>
<rect x="69.6" y="105.70" width="2.10" height="3.45" fill="#570707"/>
<rect x="71.6" y="105.70" width="2.10" height="3.45" fill="#520606"/>
<rect x="73.6" y="105.70" width="2.10" height="3.45" fill="#6d0909"/>
<rect x="75.6" y="105.70" width="2.18" height="3.45" fill="#156315"/>
<rect x="77.7" y="105.70" width="2.18" height="3.45" fill="#104c10"/>
<rect x="79.8" y="105.70" width="2.18" height="3.45" fill="#176a17"/>
<rect x="81.8" y="105.70" width="2.18" height="3.45" fill="#135813"/>
<rect x="83.9" y="105.70" width="2.18" height="3.45" fill="#145d14"/>
<rect x="86.0" y="105.70" width="1.93" height="3.45" fill="#145e14"/>
<rect x="87.8" y="105.70" width="1.93" height="3.45" fill="#166616"/>
<rect x="89.7" y="105.70" width="1.93" height="3.45" fill="#115011"/>
<rect x="91.5" y="105.70" width="1.93" height="3.45" fill="#166416"/>
<rect x="93.3" y="105.70" width="1.93" height="3.45" fill="#125412"/>
<rect x="95.2" y="105.70" width="1.93" height="3.45" fill="#1b7a1b"/>
<rect x="97.0" y="105.70" width="2.20" height="3.45" fill="#0d430d"/>
<rect x="99.1" y="105.70" width="2.20" height="3.45" fill="#0e470e"/>
<rect x="101.2" y="105.70" width="2.20" height="3.45" fill="#0c3f0c"/>
<rect x="103.3" y="105.70" width="2.20" height="3.45" fill="#0b3a0b"/>
<rect x="105.4" y="105.70" width="2.20" height="3.45" fill="#0d440d"/>
<rect x="107.5" y="105.70" width="2.18" height="3.45" fill="#0b370b"/>
<rect x="109.6" y="105.70" width="2.18" height="3.45" fill="#0a360a"/>
<rect x="111.7" y="105.70" width="2.18" height="3.45" fill="#0c3f0c"/>
<rect x="113.8" y="105.70" width="2.18" height="3.45" fill="#0b370b"/>
<rect x="115.8" y="105.70" width="2.18" height="3.45" fill="#0b3a0b"/>
<rect x="117.9" y="105.70" width="2.18" height="3.45" fill="#093109"/>
<rect x="120.0" y="105.70" width="2.10" height="3.45" fill="#0e460e"/>
<rect x="122.0" y="105.70" width="2.10" height="3.45" fill="#0c3d0c"/>
<rect x="124.0" y="105.70" width="2.10" height="3.45" fill="#0c3e0c"/>
<rect x="126.0" y="105.70" width="2.10" height="3.45" fill="#0c3c0c"/>
<rect x="128.0" y="105.70" width="2.10" height="3.45" fill="#0a320a"/>
<rect x="130.0" y="105.70" width="2.10" height="3.45" fill="#0d450d"/>
<rect x="132.0" y="105.70" width="2.18" height="3.45" fill="#080c06"/>
<rect x="134.1" y="105.70" width="2.18" height="3.45" fill="#080c06"/>
<rect x="136.2" y="105.70" width="2.18" height="3.45" fill="#070b05"/>
<rect x="138.2" y="105.70" width="2.18" height="3.45" fill="#060904"/>
<rect x="140.3" y="105.70" width="2.18" height="3.45" fill="#050804"/>
<rect x="142.4" y="105.70" width="2.18" height="3.45" fill="#080c06"/>
<rect x="144.5" y="105.70" width="2.18" height="3.45" fill="#060a05"/>
<rect x="146.6" y="105.70" width="2.18" height="3.45" fill="#060904"/>
<rect x="148.7" y="105.70" width="2.18" height="3.45" fill="#060a05"/>
<rect x="150.8" y="105.70" width="2.18" height="3.45" fill="#080c06"/>
<rect x="152.8" y="105.70" width="2.18" height="3.45" fill="#080c06"/>
<rect x="154.9" y="105.70" width="4.18" height="3.45" fill="#070b05"/>
<rect x="3.0" y="109.04" width="3.98" height="3.45" fill="#060a05"/>
<rect x="6.9" y="109.04" width="1.98" height="3.45" fill="#060904"/>
<rect x="8.8" y="109.04" width="1.98" height="3.45" fill="#080c06"/>
<rect x="10.6" y="109.04" width="1.98" height="3.45" fill="#060a05"/>
<rect x="12.5" y="109.04" width="1.85" height="3.45" fill="#080d06"/>
<rect x="14.2" y="109.04" width="1.85" height="3.45" fill="#070a05"/>
<rect x="16.0" y="109.04" width="1.85" height="3.45" fill="#080c06"/>
<rect x="17.8" y="109.04" width="1.85" height="3.45" fill="#090e07"/>
<rect x="19.5" y="109.04" width="2.60" height="3.45" fill="#060904"/>
<rect x="22.0" y="109.04" width="2.60" height="3.45" fill="#070a05"/>
<rect x="24.5" y="109.04" width="2.60" height="3.45" fill="#070b05"/>
<rect x="27.0" y="109.04" width="2.60" height="3.45" fill="#080c06"/>
<rect x="29.5" y="109.04" width="2.23" height="3.45" fill="#6b0909"/>
<rect x="31.6" y="109.04" width="2.23" height="3.45" fill="#6b0909"/>
<rect x="33.8" y="109.04" width="2.23" height="3.45" fill="#4f0606"/>
<rect x="35.9" y="109.04" width="2.23" height="3.45" fill="#5f0808"/>
<rect x="38.0" y="109.04" width="2.35" height="3.45" fill="#540707"/>
<rect x="40.2" y="109.04" width="2.35" height="3.45" fill="#630808"/>
<rect x="42.5" y="109.04" width="2.35" height="3.45" fill="#720909"/>
<rect x="44.8" y="109.04" width="2.35" height="3.45" fill="#700909"/>
<rect x="47.0" y="109.04" width="2.25" height="3.45" fill="#970b0b"/>
<rect x="49.1" y="109.04" width="2.25" height="3.45" fill="#a90c0c"/>
<rect x="51.3" y="109.04" width="2.25" height="3.45" fill="#9b0b0b"/>
<rect x="53.5" y="109.04" width="2.25" height="3.45" fill="#c30e0e"/>
<rect x="55.6" y="109.04" width="2.10" height="3.45" fill="#060a05"/>
<rect x="57.6" y="109.04" width="2.10" height="3.45" fill="#070b05"/>
<rect x="59.6" y="109.04" width="2.10" height="3.45" fill="#070a05"/>
<rect x="61.6" y="109.04" width="2.10" height="3.45" fill="#090e07"/>
<rect x="63.6" y="109.04" width="2.10" height="3.45" fill="#080c06"/>
<rect x="65.6" y="109.04" width="2.10" height="3.45" fill="#070a05"/>
<rect x="67.6" y="109.04" width="2.10" height="3.45" fill="#070b05"/>
<rect x="69.6" y="109.04" width="2.10" height="3.45" fill="#060904"/>
<rect x="71.6" y="109.04" width="2.10" height="3.45" fill="#070a05"/>
<rect x="73.6" y="109.04" width="2.10" height="3.45" fill="#070b05"/>
<rect x="75.6" y="109.04" width="2.18" height="3.45" fill="#060904"/>
<rect x="77.7" y="109.04" width="2.18" height="3.45" fill="#050804"/>
<rect x="79.8" y="109.04" width="2.18" height="3.45" fill="#090d06"/>
<rect x="81.8" y="109.04" width="2.18" height="3.45" fill="#070b05"/>
<rect x="83.9" y="109.04" width="2.18" height="3.45" fill="#060904"/>
<rect x="86.0" y="109.04" width="1.93" height="3.45" fill="#070b05"/>
<rect x="87.8" y="109.04" width="1.93" height="3.45" fill="#090e07"/>
<rect x="89.7" y="109.04" width="1.93" height="3.45" fill="#070b05"/>
<rect x="91.5" y="109.04" width="1.93" height="3.45" fill="#060904"/>
<rect x="93.3" y="109.04" width="1.93" height="3.45" fill="#060a05"/>
<rect x="95.2" y="109.04" width="1.93" height="3.45" fill="#080d06"/>
<rect x="97.0" y="109.04" width="2.20" height="3.45" fill="#070b05"/>
<rect x="99.1" y="109.04" width="2.20" height="3.45" fill="#090d06"/>
<rect x="101.2" y="109.04" width="2.20" height="3.45" fill="#060904"/>
<rect x="103.3" y="109.04" width="2.20" height="3.45" fill="#080c06"/>
<rect x="105.4" y="109.04" width="2.20" height="3.45" fill="#090e07"/>
<rect x="107.5" y="109.04" width="2.18" height="3.45" fill="#080d06"/>
<rect x="109.6" y="109.04" width="2.18" height="3.45" fill="#070b05"/>
<rect x="111.7" y="109.04" width="2.18" height="3.45" fill="#080d06"/>
<rect x="113.8" y="109.04" width="2.18" height="3.45" fill="#060a05"/>
<rect x="115.8" y="109.04" width="2.18" height="3.45" fill="#060904"/>
<rect x="117.9" y="109.04" width="2.18" height="3.45" fill="#060904"/>
<rect x="120.0" y="109.04" width="2.10" height="3.45" fill="#070b05"/>
<rect x="122.0" y="109.04" width="2.10" height="3.45" fill="#090e07"/>
<rect x="124.0" y="109.04" width="2.10" height="3.45" fill="#080c06"/>
<rect x="126.0" y="109.04" width="2.10" height="3.45" fill="#060a05"/>
<rect x="128.0" y="109.04" width="2.10" height="3.45" fill="#060904"/>
<rect x="130.0" y="109.04" width="2.10" height="3.45" fill="#090e07"/>
<rect x="132.0" y="109.04" width="2.18" height="3.45" fill="#080c06"/>
<rect x="134.1" y="109.04" width="2.18" height="3.45" fill="#080d06"/>
<rect x="136.2" y="109.04" width="2.18" height="3.45" fill="#060a05"/>
<rect x="138.2" y="109.04" width="2.18" height="3.45" fill="#070b05"/>
<rect x="140.3" y="109.04" width="2.18" height="3.45" fill="#070b05"/>
<rect x="142.4" y="109.04" width="2.18" height="3.45" fill="#090e07"/>
<rect x="144.5" y="109.04" width="2.18" height="3.45" fill="#060a05"/>
<rect x="146.6" y="109.04" width="2.18" height="3.45" fill="#060904"/>
<rect x="148.7" y="109.04" width="2.18" height="3.45" fill="#070b05"/>
<rect x="150.8" y="109.04" width="2.18" height="3.45" fill="#080d06"/>
<rect x="152.8" y="109.04" width="2.18" height="3.45" fill="#070b05"/>
<rect x="154.9" y="109.04" width="4.18" height="3.45" fill="#070b05"/>
<rect x="3.0" y="112.39" width="3.98" height="3.45" fill="#070a05"/>
<rect x="6.9" y="112.39" width="1.98" height="3.45" fill="#070b05"/>
<rect x="8.8" y="112.39" width="1.98" height="3.45" fill="#070b05"/>
<rect x="10.6" y="112.39" width="1.98" height="3.45" fill="#050804"/>
<rect x="12.5" y="112.39" width="1.85" height="3.45" fill="#080c06"/>
<rect x="14.2" y="112.39" width="1.85" height="3.45" fill="#070b05"/>
<rect x="16.0" y="112.39" width="1.85" height="3.45" fill="#090e07"/>
<rect x="17.8" y="112.39" width="1.85" height="3.45" fill="#080d06"/>
<rect x="19.5" y="112.39" width="2.60" height="3.45" fill="#b80d0d"/>
<rect x="22.0" y="112.39" width="2.60" height="3.45" fill="#b70d0d"/>
<rect x="24.5" y="112.39" width="2.60" height="3.45" fill="#070b05"/>
<rect x="27.0" y="112.39" width="2.60" height="3.45" fill="#070b05"/>
<rect x="29.5" y="112.39" width="2.23" height="3.45" fill="#be0e0e"/>
<rect x="31.6" y="112.39" width="2.23" height="3.45" fill="#ba0e0e"/>
<rect x="33.8" y="112.39" width="2.23" height="3.45" fill="#ae0d0d"/>
<rect x="35.9" y="112.39" width="2.23" height="3.45" fill="#9b0b0b"/>
<rect x="38.0" y="112.39" width="2.35" height="3.45" fill="#560707"/>
<rect x="40.2" y="112.39" width="2.35" height="3.45" fill="#5b0707"/>
<rect x="42.5" y="112.39" width="2.35" height="3.45" fill="#6a0808"/>
<rect x="44.8" y="112.39" width="2.35" height="3.45" fill="#730909"/>
<rect x="47.0" y="112.39" width="2.25" height="3.45" fill="#4c0606"/>
<rect x="49.1" y="112.39" width="2.25" height="3.45" fill="#500606"/>
<rect x="51.3" y="112.39" width="2.25" height="3.45" fill="#510606"/>
<rect x="53.5" y="112.39" width="2.25" height="3.45" fill="#630808"/>
<rect x="55.6" y="112.39" width="2.10" height="3.45" fill="#080c06"/>
<rect x="57.6" y="112.39" width="2.10" height="3.45" fill="#070a05"/>
<rect x="59.6" y="112.39" width="2.10" height="3.45" fill="#080d06"/>
<rect x="61.6" y="112.39" width="2.10" height="3.45" fill="#090e07"/>
<rect x="63.6" y="112.39" width="2.10" height="3.45" fill="#090d06"/>
<rect x="65.6" y="112.39" width="2.10" height="3.45" fill="#070b05"/>
<rect x="67.6" y="112.39" width="2.10" height="3.45" fill="#070b05"/>
<rect x="69.6" y="112.39" width="2.10" height="3.45" fill="#070a05"/>
<rect x="71.6" y="112.39" width="2.10" height="3.45" fill="#070b05"/>
<rect x="73.6" y="112.39" width="2.10" height="3.45" fill="#080c06"/>
<rect x="75.6" y="112.39" width="2.18" height="3.45" fill="#070a05"/>
<rect x="77.7" y="112.39" width="2.18" height="3.45" fill="#060a05"/>
<rect x="79.8" y="112.39" width="2.18" height="3.45" fill="#080c06"/>
<rect x="81.8" y="112.39" width="2.18" height="3.45" fill="#080c06"/>
<rect x="83.9" y="112.39" width="2.18" height="3.45" fill="#070b05"/>
<rect x="86.0" y="112.39" width="1.93" height="3.45" fill="#060904"/>
<rect x="87.8" y="112.39" width="1.93" height="3.45" fill="#080c06"/>
<rect x="89.7" y="112.39" width="1.93" height="3.45" fill="#070a05"/>
<rect x="91.5" y="112.39" width="1.93" height="3.45" fill="#070a05"/>
<rect x="93.3" y="112.39" width="1.93" height="3.45" fill="#060904"/>
<rect x="95.2" y="112.39" width="1.93" height="3.45" fill="#080c06"/>
<rect x="97.0" y="112.39" width="2.20" height="3.45" fill="#070b05"/>
<rect x="99.1" y="112.39" width="2.20" height="3.45" fill="#080c06"/>
<rect x="101.2" y="112.39" width="2.20" height="3.45" fill="#070b05"/>
<rect x="103.3" y="112.39" width="2.20" height="3.45" fill="#080c06"/>
<rect x="105.4" y="112.39" width="2.20" height="3.45" fill="#0a0f07"/>
<rect x="107.5" y="112.39" width="2.18" height="3.45" fill="#090d06"/>
<rect x="109.6" y="112.39" width="2.18" height="3.45" fill="#070b05"/>
<rect x="111.7" y="112.39" width="2.18" height="3.45" fill="#090e07"/>
<rect x="113.8" y="112.39" width="2.18" height="3.45" fill="#070b05"/>
<rect x="115.8" y="112.39" width="2.18" height="3.45" fill="#070b05"/>
<rect x="117.9" y="112.39" width="2.18" height="3.45" fill="#060904"/>
<rect x="120.0" y="112.39" width="2.10" height="3.45" fill="#090d06"/>
<rect x="122.0" y="112.39" width="2.10" height="3.45" fill="#090e07"/>
<rect x="124.0" y="112.39" width="2.10" height="3.45" fill="#070b05"/>
<rect x="126.0" y="112.39" width="2.10" height="3.45" fill="#070b05"/>
<rect x="128.0" y="112.39" width="2.10" height="3.45" fill="#080c06"/>
<rect x="130.0" y="112.39" width="2.10" height="3.45" fill="#090d06"/>
<rect x="132.0" y="112.39" width="2.18" height="3.45" fill="#070b05"/>
<rect x="134.1" y="112.39" width="2.18" height="3.45" fill="#070b05"/>
<rect x="136.2" y="112.39" width="2.18" height="3.45" fill="#070a05"/>
<rect x="138.2" y="112.39" width="2.18" height="3.45" fill="#070b05"/>
<rect x="140.3" y="112.39" width="2.18" height="3.45" fill="#050804"/>
<rect x="142.4" y="112.39" width="2.18" height="3.45" fill="#080c06"/>
<rect x="144.5" y="112.39" width="2.18" height="3.45" fill="#070b05"/>
<rect x="146.6" y="112.39" width="2.18" height="3.45" fill="#060a05"/>
<rect x="148.7" y="112.39" width="2.18" height="3.45" fill="#060904"/>
<rect x="150.8" y="112.39" width="2.18" height="3.45" fill="#090e07"/>
<rect x="152.8" y="112.39" width="2.18" height="3.45" fill="#070b05"/>
<rect x="154.9" y="112.39" width="4.18" height="3.45" fill="#070b05"/>
<rect x="3.0" y="115.74" width="3.98" height="3.45" fill="#070b05"/>
<rect x="6.9" y="115.74" width="1.98" height="3.45" fill="#070a05"/>
<rect x="8.8" y="115.74" width="1.98" height="3.45" fill="#080c06"/>
<rect x="10.6" y="115.74" width="1.98" height="3.45" fill="#060904"/>
<rect x="12.5" y="115.74" width="1.85" height="3.45" fill="#070a05"/>
<rect x="14.2" y="115.74" width="1.85" height="3.45" fill="#060a05"/>
<rect x="16.0" y="115.74" width="1.85" height="3.45" fill="#090e07"/>
<rect x="17.8" y="115.74" width="1.85" height="3.45" fill="#080c06"/>
<rect x="19.5" y="115.74" width="2.60" height="3.45" fill="#4a0606"/>
<rect x="22.0" y="115.74" width="2.60" height="3.45" fill="#5c0707"/>
<rect x="24.5" y="115.74" width="2.60" height="3.45" fill="#070a05"/>
<rect x="27.0" y="115.74" width="2.60" height="3.45" fill="#060a05"/>
<rect x="29.5" y="115.74" width="2.23" height="3.45" fill="#d00f0f"/>
<rect x="31.6" y="115.74" width="2.23" height="3.45" fill="#b80d0d"/>
<rect x="33.8" y="115.74" width="2.23" height="3.45" fill="#a90c0c"/>
<rect x="35.9" y="115.74" width="2.23" height="3.45" fill="#b30d0d"/>
<rect x="38.0" y="115.74" width="2.35" height="3.45" fill="#4a0606"/>
<rect x="40.2" y="115.74" width="2.35" height="3.45" fill="#650808"/>
<rect x="42.5" y="115.74" width="2.35" height="3.45" fill="#610808"/>
<rect x="44.8" y="115.74" width="2.35" height="3.45" fill="#680808"/>
<rect x="47.0" y="115.74" width="2.25" height="3.45" fill="#ae0d0d"/>
<rect x="49.1" y="115.74" width="2.25" height="3.45" fill="#9f0c0c"/>
<rect x="51.3" y="115.74" width="2.25" height="3.45" fill="#9d0b0b"/>
<rect x="53.5" y="115.74" width="2.25" height="3.45" fill="#bc0e0e"/>
<rect x="55.6" y="115.74" width="2.10" height="3.45" fill="#070b05"/>
<rect x="57.6" y="115.74" width="2.10" height="3.45" fill="#080d06"/>
<rect x="59.6" y="115.74" width="2.10" height="3.45" fill="#080c06"/>
<rect x="61.6" y="115.74" width="2.10" height="3.45" fill="#090e07"/>
<rect x="63.6" y="115.74" width="2.10" height="3.45" fill="#090d06"/>
<rect x="65.6" y="115.74" width="2.10" height="3.45" fill="#070a05"/>
<rect x="67.6" y="115.74" width="2.10" height="3.45" fill="#080d06"/>
<rect x="69.6" y="115.74" width="2.10" height="3.45" fill="#070a05"/>
<rect x="71.6" y="115.74" width="2.10" height="3.45" fill="#060a05"/>
<rect x="73.6" y="115.74" width="2.10" height="3.45" fill="#090d06"/>
<rect x="75.6" y="115.74" width="2.18" height="3.45" fill="#070a05"/>
<rect x="77.7" y="115.74" width="2.18" height="3.45" fill="#060904"/>
<rect x="79.8" y="115.74" width="2.18" height="3.45" fill="#090d06"/>
<rect x="81.8" y="115.74" width="2.18" height="3.45" fill="#070b05"/>
<rect x="83.9" y="115.74" width="2.18" height="3.45" fill="#070b05"/>
<rect x="86.0" y="115.74" width="1.93" height="3.45" fill="#060904"/>
<rect x="87.8" y="115.74" width="1.93" height="3.45" fill="#090d06"/>
<rect x="89.7" y="115.74" width="1.93" height="3.45" fill="#060904"/>
<rect x="91.5" y="115.74" width="1.93" height="3.45" fill="#060904"/>
<rect x="93.3" y="115.74" width="1.93" height="3.45" fill="#060904"/>
<rect x="95.2" y="115.74" width="1.93" height="3.45" fill="#070b05"/>
<rect x="97.0" y="115.74" width="2.20" height="3.45" fill="#080d06"/>
<rect x="99.1" y="115.74" width="2.20" height="3.45" fill="#080c06"/>
<rect x="101.2" y="115.74" width="2.20" height="3.45" fill="#070a05"/>
<rect x="103.3" y="115.74" width="2.20" height="3.45" fill="#070b05"/>
<rect x="105.4" y="115.74" width="2.20" height="3.45" fill="#090d06"/>
<rect x="107.5" y="115.74" width="2.18" height="3.45" fill="#090d06"/>
<rect x="109.6" y="115.74" width="2.18" height="3.45" fill="#070a05"/>
<rect x="111.7" y="115.74" width="2.18" height="3.45" fill="#090e07"/>
<rect x="113.8" y="115.74" width="2.18" height="3.45" fill="#070b05"/>
<rect x="115.8" y="115.74" width="2.18" height="3.45" fill="#070b05"/>
<rect x="117.9" y="115.74" width="2.18" height="3.45" fill="#080c06"/>
<rect x="120.0" y="115.74" width="2.10" height="3.45" fill="#080c06"/>
<rect x="122.0" y="115.74" width="2.10" height="3.45" fill="#090e07"/>
<rect x="124.0" y="115.74" width="2.10" height="3.45" fill="#070b05"/>
<rect x="126.0" y="115.74" width="2.10" height="3.45" fill="#070b05"/>
<rect x="128.0" y="115.74" width="2.10" height="3.45" fill="#070b05"/>
<rect x="130.0" y="115.74" width="2.10" height="3.45" fill="#090e07"/>
<rect x="132.0" y="115.74" width="2.18" height="3.45" fill="#060a05"/>
<rect x="134.1" y="115.74" width="2.18" height="3.45" fill="#070b05"/>
<rect x="136.2" y="115.74" width="2.18" height="3.45" fill="#070b05"/>
<rect x="138.2" y="115.74" width="2.18" height="3.45" fill="#070b05"/>
<rect x="140.3" y="115.74" width="2.18" height="3.45" fill="#070b05"/>
<rect x="142.4" y="115.74" width="2.18" height="3.45" fill="#070b05"/>
<rect x="144.5" y="115.74" width="2.18" height="3.45" fill="#070b05"/>
<rect x="146.6" y="115.74" width="2.18" height="3.45" fill="#060904"/>
<rect x="148.7" y="115.74" width="2.18" height="3.45" fill="#070b05"/>
<rect x="150.8" y="115.74" width="2.18" height="3.45" fill="#090e07"/>
<rect x="152.8" y="115.74" width="2.18" height="3.45" fill="#070a05"/>
<rect x="154.9" y="115.74" width="4.18" height="3.45" fill="#080c06"/>
<rect x="3.0" y="119.08" width="3.98" height="3.45" fill="#070b05"/>
<rect x="6.9" y="119.08" width="1.98" height="3.45" fill="#060904"/>
<rect x="8.8" y="119.08" width="1.98" height="3.45" fill="#070b05"/>
<rect x="10.6" y="119.08" width="1.98" height="3.45" fill="#060a05"/>
<rect x="12.5" y="119.08" width="1.85" height="3.45" fill="#080c06"/>
<rect x="14.2" y="119.08" width="1.85" height="3.45" fill="#070b05"/>
<rect x="16.0" y="119.08" width="1.85" height="3.45" fill="#070b05"/>
<rect x="17.8" y="119.08" width="1.85" height="3.45" fill="#070b05"/>
<rect x="19.5" y="119.08" width="2.60" height="3.45" fill="#b00f0f"/>
<rect x="22.0" y="119.08" width="2.60" height="3.45" fill="#d61313"/>
<rect x="24.5" y="119.08" width="2.60" height="3.45" fill="#a20c0c"/>
<rect x="27.0" y="119.08" width="2.60" height="3.45" fill="#b50d0d"/>
<rect x="29.5" y="119.08" width="2.23" height="3.45" fill="#650808"/>
<rect x="31.6" y="119.08" width="2.23" height="3.45" fill="#690808"/>
<rect x="33.8" y="119.08" width="2.23" height="3.45" fill="#540707"/>
<rect x="35.9" y="119.08" width="2.23" height="3.45" fill="#510606"/>
<rect x="38.0" y="119.08" width="2.35" height="3.45" fill="#d81313"/>
<rect x="40.2" y="119.08" width="2.35" height="3.45" fill="#ef1515"/>
<rect x="42.5" y="119.08" width="2.35" height="3.45" fill="#ff1717"/>
<rect x="44.8" y="119.08" width="2.35" height="3.45" fill="#ff1717"/>
<rect x="47.0" y="119.08" width="2.25" height="3.45" fill="#c00e0e"/>
<rect x="49.1" y="119.08" width="2.25" height="3.45" fill="#9b0b0b"/>
<rect x="51.3" y="119.08" width="2.25" height="3.45" fill="#9a0b0b"/>
<rect x="53.5" y="119.08" width="2.25" height="3.45" fill="#c00e0e"/>
<rect x="55.6" y="119.08" width="2.10" height="3.45" fill="#092509"/>
<rect x="57.6" y="119.08" width="2.10" height="3.45" fill="#0b2a0b"/>
<rect x="59.6" y="119.08" width="2.10" height="3.45" fill="#0a280a"/>
<rect x="61.6" y="119.08" width="2.10" height="3.45" fill="#0a260a"/>
<rect x="63.6" y="119.08" width="2.10" height="3.45" fill="#092509"/>
<rect x="65.6" y="119.08" width="2.10" height="3.45" fill="#0b290b"/>
<rect x="67.6" y="119.08" width="2.10" height="3.45" fill="#0a270a"/>
<rect x="69.6" y="119.08" width="2.10" height="3.45" fill="#081e08"/>
<rect x="71.6" y="119.08" width="2.10" height="3.45" fill="#092309"/>
<rect x="73.6" y="119.08" width="2.10" height="3.45" fill="#092409"/>
<rect x="75.6" y="119.08" width="2.18" height="3.45" fill="#0c3c0c"/>
<rect x="77.7" y="119.08" width="2.18" height="3.45" fill="#0a320a"/>
<rect x="79.8" y="119.08" width="2.18" height="3.45" fill="#0d420d"/>
<rect x="81.8" y="119.08" width="2.18" height="3.45" fill="#0b380b"/>
<rect x="83.9" y="119.08" width="2.18" height="3.45" fill="#092d09"/>
<rect x="86.0" y="119.08" width="1.93" height="3.45" fill="#093009"/>
<rect x="87.8" y="119.08" width="1.93" height="3.45" fill="#0c3c0c"/>
<rect x="89.7" y="119.08" width="1.93" height="3.45" fill="#0c3d0c"/>
<rect x="91.5" y="119.08" width="1.93" height="3.45" fill="#0a360a"/>
<rect x="93.3" y="119.08" width="1.93" height="3.45" fill="#082c08"/>
<rect x="95.2" y="119.08" width="1.93" height="3.45" fill="#0c3d0c"/>
<rect x="97.0" y="119.08" width="2.20" height="3.45" fill="#0c3e0c"/>
<rect x="99.1" y="119.08" width="2.20" height="3.45" fill="#0d420d"/>
<rect x="101.2" y="119.08" width="2.20" height="3.45" fill="#0b3b0b"/>
<rect x="103.3" y="119.08" width="2.20" height="3.45" fill="#0a360a"/>
<rect x="105.4" y="119.08" width="2.20" height="3.45" fill="#0d430d"/>
<rect x="107.5" y="119.08" width="2.18" height="3.45" fill="#0b370b"/>
<rect x="109.6" y="119.08" width="2.18" height="3.45" fill="#0a340a"/>
<rect x="111.7" y="119.08" width="2.18" height="3.45" fill="#0c3d0c"/>
<rect x="113.8" y="119.08" width="2.18" height="3.45" fill="#092f09"/>
<rect x="115.8" y="119.08" width="2.18" height="3.45" fill="#0a320a"/>
<rect x="117.9" y="119.08" width="2.18" height="3.45" fill="#0c3f0c"/>
<rect x="120.0" y="119.08" width="2.10" height="3.45" fill="#0b3a0b"/>
<rect x="122.0" y="119.08" width="2.10" height="3.45" fill="#0c3f0c"/>
<rect x="124.0" y="119.08" width="2.10" height="3.45" fill="#0c3d0c"/>
<rect x="126.0" y="119.08" width="2.10" height="3.45" fill="#0a330a"/>
<rect x="128.0" y="119.08" width="2.10" height="3.45" fill="#0a320a"/>
<rect x="130.0" y="119.08" width="2.10" height="3.45" fill="#0d440d"/>
<rect x="132.0" y="119.08" width="2.18" height="3.45" fill="#0a350a"/>
<rect x="134.1" y="119.08" width="2.18" height="3.45" fill="#0b3b0b"/>
<rect x="136.2" y="119.08" width="2.18" height="3.45" fill="#0b380b"/>
<rect x="138.2" y="119.08" width="2.18" height="3.45" fill="#0b3a0b"/>
<rect x="140.3" y="119.08" width="2.18" height="3.45" fill="#0c3c0c"/>
<rect x="142.4" y="119.08" width="2.18" height="3.45" fill="#0b3b0b"/>
<rect x="144.5" y="119.08" width="2.18" height="3.45" fill="#070a05"/>
<rect x="146.6" y="119.08" width="2.18" height="3.45" fill="#070b05"/>
<rect x="148.7" y="119.08" width="2.18" height="3.45" fill="#080c06"/>
<rect x="150.8" y="119.08" width="2.18" height="3.45" fill="#090e07"/>
<rect x="152.8" y="119.08" width="2.18" height="3.45" fill="#080c06"/>
<rect x="154.9" y="119.08" width="4.18" height="3.45" fill="#070b05"/>
<rect x="3.0" y="122.43" width="3.98" height="3.45" fill="#070a05"/>
<rect x="6.9" y="122.43" width="1.98" height="3.45" fill="#060904"/>
<rect x="8.8" y="122.43" width="1.98" height="3.45" fill="#090d06"/>
<rect x="10.6" y="122.43" width="1.98" height="3.45" fill="#070b05"/>
<rect x="12.5" y="122.43" width="1.85" height="3.45" fill="#080d06"/>
<rect x="14.2" y="122.43" width="1.85" height="3.45" fill="#070b05"/>
<rect x="16.0" y="122.43" width="1.85" height="3.45" fill="#080c06"/>
<rect x="17.8" y="122.43" width="1.85" height="3.45" fill="#090d06"/>
<rect x="19.5" y="122.43" width="2.60" height="3.45" fill="#5a0707"/>
<rect x="22.0" y="122.43" width="2.60" height="3.45" fill="#530707"/>
<rect x="24.5" y="122.43" width="2.60" height="3.45" fill="#080c06"/>
<rect x="27.0" y="122.43" width="2.60" height="3.45" fill="#070b05"/>
<rect x="29.5" y="122.43" width="2.23" height="3.45" fill="#090d06"/>
<rect x="31.6" y="122.43" width="2.23" height="3.45" fill="#080c06"/>
<rect x="33.8" y="122.43" width="2.23" height="3.45" fill="#060904"/>
<rect x="35.9" y="122.43" width="2.23" height="3.45" fill="#070a05"/>
<rect x="38.0" y="122.43" width="2.35" height="3.45" fill="#4d0606"/>
<rect x="40.2" y="122.43" width="2.35" height="3.45" fill="#700909"/>
<rect x="42.5" y="122.43" width="2.35" height="3.45" fill="#6b0909"/>
<rect x="44.8" y="122.43" width="2.35" height="3.45" fill="#640808"/>
<rect x="47.0" y="122.43" width="2.25" height="3.45" fill="#9d0b0b"/>
<rect x="49.1" y="122.43" width="2.25" height="3.45" fill="#a60c0c"/>
<rect x="51.3" y="122.43" width="2.25" height="3.45" fill="#9a0b0b"/>
<rect x="53.5" y="122.43" width="2.25" height="3.45" fill="#bf0e0e"/>
<rect x="55.6" y="122.43" width="2.10" height="3.45" fill="#060a05"/>
<rect x="57.6" y="122.43" width="2.10" height="3.45" fill="#080d06"/>
<rect x="59.6" y="122.43" width="2.10" height="3.45" fill="#070b05"/>
<rect x="61.6" y="122.43" width="2.10" height="3.45" fill="#090d06"/>
<rect x="63.6" y="122.43" width="2.10" height="3.45" fill="#080d06"/>
<rect x="65.6" y="122.43" width="2.10" height="3.45" fill="#070b05"/>
<rect x="67.6" y="122.43" width="2.10" height="3.45" fill="#070a05"/>
<rect x="69.6" y="122.43" width="2.10" height="3.45" fill="#050804"/>
<rect x="71.6" y="122.43" width="2.10" height="3.45" fill="#070a05"/>
<rect x="73.6" y="122.43" width="2.10" height="3.45" fill="#070b05"/>
<rect x="75.6" y="122.43" width="2.18" height="3.45" fill="#070b05"/>
<rect x="77.7" y="122.43" width="2.18" height="3.45" fill="#070a05"/>
<rect x="79.8" y="122.43" width="2.18" height="3.45" fill="#090d06"/>
<rect x="81.8" y="122.43" width="2.18" height="3.45" fill="#060a05"/>
<rect x="83.9" y="122.43" width="2.18" height="3.45" fill="#070b05"/>
<rect x="86.0" y="122.43" width="1.93" height="3.45" fill="#070a05"/>
<rect x="87.8" y="122.43" width="1.93" height="3.45" fill="#070b05"/>
<rect x="89.7" y="122.43" width="1.93" height="3.45" fill="#060904"/>
<rect x="91.5" y="122.43" width="1.93" height="3.45" fill="#070a05"/>
<rect x="93.3" y="122.43" width="1.93" height="3.45" fill="#070b05"/>
<rect x="95.2" y="122.43" width="1.93" height="3.45" fill="#080c06"/>
<rect x="97.0" y="122.43" width="2.20" height="3.45" fill="#090d06"/>
<rect x="99.1" y="122.43" width="2.20" height="3.45" fill="#080d06"/>
<rect x="101.2" y="122.43" width="2.20" height="3.45" fill="#080c06"/>
<rect x="103.3" y="122.43" width="2.20" height="3.45" fill="#060904"/>
<rect x="105.4" y="122.43" width="2.20" height="3.45" fill="#090d06"/>
<rect x="107.5" y="122.43" width="2.18" height="3.45" fill="#090d06"/>
<rect x="109.6" y="122.43" width="2.18" height="3.45" fill="#060904"/>
<rect x="111.7" y="122.43" width="2.18" height="3.45" fill="#080c06"/>
<rect x="113.8" y="122.43" width="2.18" height="3.45" fill="#060904"/>
<rect x="115.8" y="122.43" width="2.18" height="3.45" fill="#060904"/>
<rect x="117.9" y="122.43" width="2.18" height="3.45" fill="#060a05"/>
<rect x="120.0" y="122.43" width="2.10" height="3.45" fill="#090d06"/>
<rect x="122.0" y="122.43" width="2.10" height="3.45" fill="#080c06"/>
<rect x="124.0" y="122.43" width="2.10" height="3.45" fill="#070b05"/>
<rect x="126.0" y="122.43" width="2.10" height="3.45" fill="#060a05"/>
<rect x="128.0" y="122.43" width="2.10" height="3.45" fill="#070b05"/>
<rect x="130.0" y="122.43" width="2.10" height="3.45" fill="#090e07"/>
<rect x="132.0" y="122.43" width="2.18" height="3.45" fill="#070b05"/>
<rect x="134.1" y="122.43" width="2.18" height="3.45" fill="#070a05"/>
<rect x="136.2" y="122.43" width="2.18" height="3.45" fill="#070b05"/>
<rect x="138.2" y="122.43" width="2.18" height="3.45" fill="#070b05"/>
<rect x="140.3" y="122.43" width="2.18" height="3.45" fill="#070a05"/>
<rect x="142.4" y="122.43" width="2.18" height="3.45" fill="#070b05"/>
<rect x="144.5" y="122.43" width="2.18" height="3.45" fill="#070b05"/>
<rect x="146.6" y="122.43" width="2.18" height="3.45" fill="#070b05"/>
<rect x="148.7" y="122.43" width="2.18" height="3.45" fill="#060a05"/>
<rect x="150.8" y="122.43" width="2.18" height="3.45" fill="#080c06"/>
<rect x="152.8" y="122.43" width="2.18" height="3.45" fill="#070a05"/>
<rect x="154.9" y="122.43" width="4.18" height="3.45" fill="#070b05"/>
<rect x="3.0" y="125.77" width="3.98" height="3.45" fill="#630808"/>
<rect x="6.9" y="125.77" width="1.98" height="3.45" fill="#570707"/>
<rect x="8.8" y="125.77" width="1.98" height="3.45" fill="#6e0909"/>
<rect x="10.6" y="125.77" width="1.98" height="3.45" fill="#4a0606"/>
<rect x="12.5" y="125.77" width="1.85" height="3.45" fill="#590707"/>
<rect x="14.2" y="125.77" width="1.85" height="3.45" fill="#5f0808"/>
<rect x="16.0" y="125.77" width="1.85" height="3.45" fill="#6c0909"/>
<rect x="17.8" y="125.77" width="1.85" height="3.45" fill="#620808"/>
<rect x="19.5" y="125.77" width="2.60" height="3.45" fill="#590707"/>
<rect x="22.0" y="125.77" width="2.60" height="3.45" fill="#4e0606"/>
<rect x="24.5" y="125.77" width="2.60" height="3.45" fill="#060a05"/>
<rect x="27.0" y="125.77" width="2.60" height="3.45" fill="#070b05"/>
<rect x="29.5" y="125.77" width="2.23" height="3.45" fill="#b80d0d"/>
<rect x="31.6" y="125.77" width="2.23" height="3.45" fill="#cb0f0f"/>
<rect x="33.8" y="125.77" width="2.23" height="3.45" fill="#a20c0c"/>
<rect x="35.9" y="125.77" width="2.23" height="3.45" fill="#b00d0d"/>
<rect x="38.0" y="125.77" width="2.35" height="3.45" fill="#540707"/>
<rect x="40.2" y="125.77" width="2.35" height="3.45" fill="#5d0707"/>
<rect x="42.5" y="125.77" width="2.35" height="3.45" fill="#6a0909"/>
<rect x="44.8" y="125.77" width="2.35" height="3.45" fill="#5b0707"/>
<rect x="47.0" y="125.77" width="2.25" height="3.45" fill="#bf0e0e"/>
<rect x="49.1" y="125.77" width="2.25" height="3.45" fill="#b70d0d"/>
<rect x="51.3" y="125.77" width="2.25" height="3.45" fill="#ba0e0e"/>
<rect x="53.5" y="125.77" width="2.25" height="3.45" fill="#bb0e0e"/>
<rect x="55.6" y="125.77" width="2.10" height="3.45" fill="#080c06"/>
<rect x="57.6" y="125.77" width="2.10" height="3.45" fill="#080c06"/>
<rect x="59.6" y="125.77" width="2.10" height="3.45" fill="#070b05"/>
<rect x="61.6" y="125.77" width="2.10" height="3.45" fill="#080c06"/>
<rect x="63.6" y="125.77" width="2.10" height="3.45" fill="#070b05"/>
<rect x="65.6" y="125.77" width="2.10" height="3.45" fill="#070b05"/>
<rect x="67.6" y="125.77" width="2.10" height="3.45" fill="#080c06"/>
<rect x="69.6" y="125.77" width="2.10" height="3.45" fill="#050804"/>
<rect x="71.6" y="125.77" width="2.10" height="3.45" fill="#080c06"/>
<rect x="73.6" y="125.77" width="2.10" height="3.45" fill="#080c06"/>
<rect x="75.6" y="125.77" width="2.18" height="3.45" fill="#0b380b"/>
<rect x="77.7" y="125.77" width="2.18" height="3.45" fill="#0a360a"/>
<rect x="79.8" y="125.77" width="2.18" height="3.45" fill="#0c3d0c"/>
<rect x="81.8" y="125.77" width="2.18" height="3.45" fill="#0b390b"/>
<rect x="83.9" y="125.77" width="2.18" height="3.45" fill="#0a350a"/>
<rect x="86.0" y="125.77" width="1.93" height="3.45" fill="#093009"/>
<rect x="87.8" y="125.77" width="1.93" height="3.45" fill="#0d440d"/>
<rect x="89.7" y="125.77" width="1.93" height="3.45" fill="#0a330a"/>
<rect x="91.5" y="125.77" width="1.93" height="3.45" fill="#0b380b"/>
<rect x="93.3" y="125.77" width="1.93" height="3.45" fill="#0b380b"/>
<rect x="95.2" y="125.77" width="1.93" height="3.45" fill="#0e470e"/>
<rect x="97.0" y="125.77" width="2.20" height="3.45" fill="#0c3d0c"/>
<rect x="99.1" y="125.77" width="2.20" height="3.45" fill="#0e470e"/>
<rect x="101.2" y="125.77" width="2.20" height="3.45" fill="#0d410d"/>
<rect x="103.3" y="125.77" width="2.20" height="3.45" fill="#0b370b"/>
<rect x="105.4" y="125.77" width="2.20" height="3.45" fill="#0d420d"/>
<rect x="107.5" y="125.77" width="2.18" height="3.45" fill="#0c3f0c"/>
<rect x="109.6" y="125.77" width="2.18" height="3.45" fill="#0b3a0b"/>
<rect x="111.7" y="125.77" width="2.18" height="3.45" fill="#0b3a0b"/>
<rect x="113.8" y="125.77" width="2.18" height="3.45" fill="#092f09"/>
<rect x="115.8" y="125.77" width="2.18" height="3.45" fill="#0a330a"/>
<rect x="117.9" y="125.77" width="2.18" height="3.45" fill="#0b390b"/>
<rect x="120.0" y="125.77" width="2.10" height="3.45" fill="#0e460e"/>
<rect x="122.0" y="125.77" width="2.10" height="3.45" fill="#0d430d"/>
<rect x="124.0" y="125.77" width="2.10" height="3.45" fill="#0d420d"/>
<rect x="126.0" y="125.77" width="2.10" height="3.45" fill="#0a330a"/>
<rect x="128.0" y="125.77" width="2.10" height="3.45" fill="#0b3a0b"/>
<rect x="130.0" y="125.77" width="2.10" height="3.45" fill="#0c3e0c"/>
<rect x="132.0" y="125.77" width="2.18" height="3.45" fill="#093109"/>
<rect x="134.1" y="125.77" width="2.18" height="3.45" fill="#0a340a"/>
<rect x="136.2" y="125.77" width="2.18" height="3.45" fill="#093009"/>
<rect x="138.2" y="125.77" width="2.18" height="3.45" fill="#0a330a"/>
<rect x="140.3" y="125.77" width="2.18" height="3.45" fill="#0a350a"/>
<rect x="142.4" y="125.77" width="2.18" height="3.45" fill="#0c3d0c"/>
<rect x="144.5" y="125.77" width="2.18" height="3.45" fill="#0c3c0c"/>
<rect x="146.6" y="125.77" width="2.18" height="3.45" fill="#0a330a"/>
<rect x="148.7" y="125.77" width="2.18" height="3.45" fill="#093009"/>
<rect x="150.8" y="125.77" width="2.18" height="3.45" fill="#0c3e0c"/>
<rect x="152.8" y="125.77" width="2.18" height="3.45" fill="#0c3f0c"/>
<rect x="154.9" y="125.77" width="4.18" height="3.45" fill="#0c3d0c"/>
<rect x="3.0" y="129.12" width="3.98" height="3.45" fill="#060a05"/>
<rect x="6.9" y="129.12" width="1.98" height="3.45" fill="#060904"/>
<rect x="8.8" y="129.12" width="1.98" height="3.45" fill="#080d06"/>
<rect x="10.6" y="129.12" width="1.98" height="3.45" fill="#060904"/>
<rect x="12.5" y="129.12" width="1.85" height="3.45" fill="#080d06"/>
<rect x="14.2" y="129.12" width="1.85" height="3.45" fill="#070b05"/>
<rect x="16.0" y="129.12" width="1.85" height="3.45" fill="#090d06"/>
<rect x="17.8" y="129.12" width="1.85" height="3.45" fill="#080c06"/>
<rect x="19.5" y="129.12" width="2.60" height="3.45" fill="#070b05"/>
<rect x="22.0" y="129.12" width="2.60" height="3.45" fill="#060a05"/>
<rect x="24.5" y="129.12" width="2.60" height="3.45" fill="#070b05"/>
<rect x="27.0" y="129.12" width="2.60" height="3.45" fill="#080c06"/>
<rect x="29.5" y="129.12" width="2.23" height="3.45" fill="#600808"/>
<rect x="31.6" y="129.12" width="2.23" height="3.45" fill="#6b0909"/>
<rect x="33.8" y="129.12" width="2.23" height="3.45" fill="#4c0606"/>
<rect x="35.9" y="129.12" width="2.23" height="3.45" fill="#5e0707"/>
<rect x="38.0" y="129.12" width="2.35" height="3.45" fill="#4f0606"/>
<rect x="40.2" y="129.12" width="2.35" height="3.45" fill="#6d0909"/>
<rect x="42.5" y="129.12" width="2.35" height="3.45" fill="#600808"/>
<rect x="44.8" y="129.12" width="2.35" height="3.45" fill="#690808"/>
<rect x="47.0" y="129.12" width="2.25" height="3.45" fill="#550707"/>
<rect x="49.1" y="129.12" width="2.25" height="3.45" fill="#670808"/>
<rect x="51.3" y="129.12" width="2.25" height="3.45" fill="#5e0707"/>
<rect x="53.5" y="129.12" width="2.25" height="3.45" fill="#6f0909"/>
<rect x="55.6" y="129.12" width="2.10" height="3.45" fill="#070a05"/>
<rect x="57.6" y="129.12" width="2.10" height="3.45" fill="#070b05"/>
<rect x="59.6" y="129.12" width="2.10" height="3.45" fill="#070b05"/>
<rect x="61.6" y="129.12" width="2.10" height="3.45" fill="#090d06"/>
<rect x="63.6" y="129.12" width="2.10" height="3.45" fill="#070b05"/>
<rect x="65.6" y="129.12" width="2.10" height="3.45" fill="#070b05"/>
<rect x="67.6" y="129.12" width="2.10" height="3.45" fill="#080c06"/>
<rect x="69.6" y="129.12" width="2.10" height="3.45" fill="#070a05"/>
<rect x="71.6" y="129.12" width="2.10" height="3.45" fill="#070a05"/>
<rect x="73.6" y="129.12" width="2.10" height="3.45" fill="#090e07"/>
<rect x="75.6" y="129.12" width="2.18" height="3.45" fill="#0a320a"/>
<rect x="77.7" y="129.12" width="2.18" height="3.45" fill="#0a350a"/>
<rect x="79.8" y="129.12" width="2.18" height="3.45" fill="#0a360a"/>
<rect x="81.8" y="129.12" width="2.18" height="3.45" fill="#0c3c0c"/>
<rect x="83.9" y="129.12" width="2.18" height="3.45" fill="#0b3a0b"/>
<rect x="86.0" y="129.12" width="1.93" height="3.45" fill="#092f09"/>
<rect x="87.8" y="129.12" width="1.93" height="3.45" fill="#0d440d"/>
<rect x="89.7" y="129.12" width="1.93" height="3.45" fill="#0c3c0c"/>
<rect x="91.5" y="129.12" width="1.93" height="3.45" fill="#093109"/>
<rect x="93.3" y="129.12" width="1.93" height="3.45" fill="#093109"/>
<rect x="95.2" y="129.12" width="1.93" height="3.45" fill="#0d420d"/>
<rect x="97.0" y="129.12" width="2.20" height="3.45" fill="#0e460e"/>
<rect x="99.1" y="129.12" width="2.20" height="3.45" fill="#0c3e0c"/>
<rect x="101.2" y="129.12" width="2.20" height="3.45" fill="#0c3c0c"/>
<rect x="103.3" y="129.12" width="2.20" height="3.45" fill="#0b3a0b"/>
<rect x="105.4" y="129.12" width="2.20" height="3.45" fill="#0d440d"/>
<rect x="107.5" y="129.12" width="2.18" height="3.45" fill="#080c06"/>
<rect x="109.6" y="129.12" width="2.18" height="3.45" fill="#070b05"/>
<rect x="111.7" y="129.12" width="2.18" height="3.45" fill="#070b05"/>
<rect x="113.8" y="129.12" width="2.18" height="3.45" fill="#080c06"/>
<rect x="115.8" y="129.12" width="2.18" height="3.45" fill="#060904"/>
<rect x="117.9" y="129.12" width="2.18" height="3.45" fill="#070b05"/>
<rect x="120.0" y="129.12" width="2.10" height="3.45" fill="#090e07"/>
<rect x="122.0" y="129.12" width="2.10" height="3.45" fill="#080c06"/>
<rect x="124.0" y="129.12" width="2.10" height="3.45" fill="#080c06"/>
<rect x="126.0" y="129.12" width="2.10" height="3.45" fill="#080c06"/>
<rect x="128.0" y="129.12" width="2.10" height="3.45" fill="#060a05"/>
<rect x="130.0" y="129.12" width="2.10" height="3.45" fill="#080c06"/>
<rect x="132.0" y="129.12" width="2.18" height="3.45" fill="#060a05"/>
<rect x="134.1" y="129.12" width="2.18" height="3.45" fill="#080d06"/>
<rect x="136.2" y="129.12" width="2.18" height="3.45" fill="#060904"/>
<rect x="138.2" y="129.12" width="2.18" height="3.45" fill="#070b05"/>
<rect x="140.3" y="129.12" width="2.18" height="3.45" fill="#060904"/>
<rect x="142.4" y="129.12" width="2.18" height="3.45" fill="#090e07"/>
<rect x="144.5" y="129.12" width="2.18" height="3.45" fill="#060904"/>
<rect x="146.6" y="129.12" width="2.18" height="3.45" fill="#060904"/>
<rect x="148.7" y="129.12" width="2.18" height="3.45" fill="#070b05"/>
<rect x="150.8" y="129.12" width="2.18" height="3.45" fill="#080c06"/>
<rect x="152.8" y="129.12" width="2.18" height="3.45" fill="#070b05"/>
<rect x="154.9" y="129.12" width="4.18" height="3.45" fill="#080c06"/>
<rect x="3.0" y="132.46" width="3.98" height="3.45" fill="#080c06"/>
<rect x="6.9" y="132.46" width="1.98" height="3.45" fill="#070b05"/>
<rect x="8.8" y="132.46" width="1.98" height="3.45" fill="#090e07"/>
<rect x="10.6" y="132.46" width="1.98" height="3.45" fill="#050804"/>
<rect x="12.5" y="132.46" width="1.85" height="3.45" fill="#070a05"/>
<rect x="14.2" y="132.46" width="1.85" height="3.45" fill="#080c06"/>
<rect x="16.0" y="132.46" width="1.85" height="3.45" fill="#090d06"/>
<rect x="17.8" y="132.46" width="1.85" height="3.45" fill="#070b05"/>
<rect x="19.5" y="132.46" width="2.60" height="3.45" fill="#540707"/>
<rect x="22.0" y="132.46" width="2.60" height="3.45" fill="#4c0606"/>
<rect x="24.5" y="132.46" width="2.60" height="3.45" fill="#070b05"/>
<rect x="27.0" y="132.46" width="2.60" height="3.45" fill="#060a05"/>
<rect x="29.5" y="132.46" width="2.23" height="3.45" fill="#de1313"/>
<rect x="31.6" y="132.46" width="2.23" height="3.45" fill="#ff1717"/>
<rect x="33.8" y="132.46" width="2.23" height="3.45" fill="#c41111"/>
<rect x="35.9" y="132.46" width="2.23" height="3.45" fill="#ee1515"/>
<rect x="38.0" y="132.46" width="2.35" height="3.45" fill="#480606"/>
<rect x="40.2" y="132.46" width="2.35" height="3.45" fill="#630808"/>
<rect x="42.5" y="132.46" width="2.35" height="3.45" fill="#620808"/>
<rect x="44.8" y="132.46" width="2.35" height="3.45" fill="#660808"/>
<rect x="47.0" y="132.46" width="2.25" height="3.45" fill="#060a05"/>
<rect x="49.1" y="132.46" width="2.25" height="3.45" fill="#080c06"/>
<rect x="51.3" y="132.46" width="2.25" height="3.45" fill="#060904"/>
<rect x="53.5" y="132.46" width="2.25" height="3.45" fill="#090e07"/>
<rect x="55.6" y="132.46" width="2.10" height="3.45" fill="#070b05"/>
<rect x="57.6" y="132.46" width="2.10" height="3.45" fill="#070a05"/>
<rect x="59.6" y="132.46" width="2.10" height="3.45" fill="#070b05"/>
<rect x="61.6" y="132.46" width="2.10" height="3.45" fill="#090d06"/>
<rect x="63.6" y="132.46" width="2.10" height="3.45" fill="#090e07"/>
<rect x="65.6" y="132.46" width="2.10" height="3.45" fill="#5c0707"/>
<rect x="67.6" y="132.46" width="2.10" height="3.45" fill="#550707"/>
<rect x="69.6" y="132.46" width="2.10" height="3.45" fill="#5b0707"/>
<rect x="71.6" y="132.46" width="2.10" height="3.45" fill="#630808"/>
<rect x="73.6" y="132.46" width="2.10" height="3.45" fill="#680808"/>
<rect x="75.6" y="132.46" width="2.18" height="3.45" fill="#060a05"/>
<rect x="77.7" y="132.46" width="2.18" height="3.45" fill="#060904"/>
<rect x="79.8" y="132.46" width="2.18" height="3.45" fill="#070b05"/>
<rect x="81.8" y="132.46" width="2.18" height="3.45" fill="#060904"/>
<rect x="83.9" y="132.46" width="2.18" height="3.45" fill="#050804"/>
<rect x="86.0" y="132.46" width="1.93" height="3.45" fill="#060a05"/>
<rect x="87.8" y="132.46" width="1.93" height="3.45" fill="#080c06"/>
<rect x="89.7" y="132.46" width="1.93" height="3.45" fill="#070b05"/>
<rect x="91.5" y="132.46" width="1.93" height="3.45" fill="#060a05"/>
<rect x="93.3" y="132.46" width="1.93" height="3.45" fill="#050804"/>
<rect x="95.2" y="132.46" width="1.93" height="3.45" fill="#090d06"/>
<rect x="97.0" y="132.46" width="2.20" height="3.45" fill="#080d06"/>
<rect x="99.1" y="132.46" width="2.20" height="3.45" fill="#090d06"/>
<rect x="101.2" y="132.46" width="2.20" height="3.45" fill="#070b05"/>
<rect x="103.3" y="132.46" width="2.20" height="3.45" fill="#070b05"/>
<rect x="105.4" y="132.46" width="2.20" height="3.45" fill="#0a0f07"/>
<rect x="107.5" y="132.46" width="2.18" height="3.45" fill="#090d06"/>
<rect x="109.6" y="132.46" width="2.18" height="3.45" fill="#070a05"/>
<rect x="111.7" y="132.46" width="2.18" height="3.45" fill="#080c06"/>
<rect x="113.8" y="132.46" width="2.18" height="3.45" fill="#060a05"/>
<rect x="115.8" y="132.46" width="2.18" height="3.45" fill="#060a05"/>
<rect x="117.9" y="132.46" width="2.18" height="3.45" fill="#080c06"/>
<rect x="120.0" y="132.46" width="2.10" height="3.45" fill="#080c06"/>
<rect x="122.0" y="132.46" width="2.10" height="3.45" fill="#080d06"/>
<rect x="124.0" y="132.46" width="2.10" height="3.45" fill="#070b05"/>
<rect x="126.0" y="132.46" width="2.10" height="3.45" fill="#060904"/>
<rect x="128.0" y="132.46" width="2.10" height="3.45" fill="#080c06"/>
<rect x="130.0" y="132.46" width="2.10" height="3.45" fill="#080c06"/>
<rect x="132.0" y="132.46" width="2.18" height="3.45" fill="#070b05"/>
<rect x="134.1" y="132.46" width="2.18" height="3.45" fill="#080d06"/>
<rect x="136.2" y="132.46" width="2.18" height="3.45" fill="#060a05"/>
<rect x="138.2" y="132.46" width="2.18" height="3.45" fill="#070a05"/>
<rect x="140.3" y="132.46" width="2.18" height="3.45" fill="#060a05"/>
<rect x="142.4" y="132.46" width="2.18" height="3.45" fill="#080c06"/>
<rect x="144.5" y="132.46" width="2.18" height="3.45" fill="#060904"/>
<rect x="146.6" y="132.46" width="2.18" height="3.45" fill="#060904"/>
<rect x="148.7" y="132.46" width="2.18" height="3.45" fill="#070b05"/>
<rect x="150.8" y="132.46" width="2.18" height="3.45" fill="#090e07"/>
<rect x="152.8" y="132.46" width="2.18" height="3.45" fill="#080d06"/>
<rect x="154.9" y="132.46" width="4.18" height="3.45" fill="#060904"/>
<rect x="3.0" y="135.81" width="3.98" height="3.45" fill="#5e0707"/>
<rect x="6.9" y="135.81" width="1.98" height="3.45" fill="#4f0606"/>
<rect x="8.8" y="135.81" width="1.98" height="3.45" fill="#670808"/>
<rect x="10.6" y="135.81" width="1.98" height="3.45" fill="#520606"/>
<rect x="12.5" y="135.81" width="1.85" height="3.45" fill="#580707"/>
<rect x="14.2" y="135.81" width="1.85" height="3.45" fill="#640808"/>
<rect x="16.0" y="135.81" width="1.85" height="3.45" fill="#5b0707"/>
<rect x="17.8" y="135.81" width="1.85" height="3.45" fill="#6b0909"/>
<rect x="19.5" y="135.81" width="2.60" height="3.45" fill="#5d0707"/>
<rect x="22.0" y="135.81" width="2.60" height="3.45" fill="#530707"/>
<rect x="24.5" y="135.81" width="2.60" height="3.45" fill="#070b05"/>
<rect x="27.0" y="135.81" width="2.60" height="3.45" fill="#080d06"/>
<rect x="29.5" y="135.81" width="2.23" height="3.45" fill="#c10e0e"/>
<rect x="31.6" y="135.81" width="2.23" height="3.45" fill="#cb0f0f"/>
<rect x="33.8" y="135.81" width="2.23" height="3.45" fill="#b60d0d"/>
<rect x="35.9" y="135.81" width="2.23" height="3.45" fill="#aa0c0c"/>
<rect x="38.0" y="135.81" width="2.35" height="3.45" fill="#570707"/>
<rect x="40.2" y="135.81" width="2.35" height="3.45" fill="#610808"/>
<rect x="42.5" y="135.81" width="2.35" height="3.45" fill="#6c0909"/>
<rect x="44.8" y="135.81" width="2.35" height="3.45" fill="#6a0808"/>
<rect x="47.0" y="135.81" width="2.25" height="3.45" fill="#070b05"/>
<rect x="49.1" y="135.81" width="2.25" height="3.45" fill="#070b05"/>
<rect x="51.3" y="135.81" width="2.25" height="3.45" fill="#070a05"/>
<rect x="53.5" y="135.81" width="2.25" height="3.45" fill="#090d06"/>
<rect x="55.6" y="135.81" width="2.10" height="3.45" fill="#0a360a"/>
<rect x="57.6" y="135.81" width="2.10" height="3.45" fill="#0c3e0c"/>
<rect x="59.6" y="135.81" width="2.10" height="3.45" fill="#0b370b"/>
<rect x="61.6" y="135.81" width="2.10" height="3.45" fill="#0f4b0f"/>
<rect x="63.6" y="135.81" width="2.10" height="3.45" fill="#0c3f0c"/>
<rect x="65.6" y="135.81" width="2.10" height="3.45" fill="#080c06"/>
<rect x="67.6" y="135.81" width="2.10" height="3.45" fill="#070b05"/>
<rect x="69.6" y="135.81" width="2.10" height="3.45" fill="#060a05"/>
<rect x="71.6" y="135.81" width="2.10" height="3.45" fill="#060a05"/>
<rect x="73.6" y="135.81" width="2.10" height="3.45" fill="#070b05"/>
<rect x="75.6" y="135.81" width="2.18" height="3.45" fill="#166716"/>
<rect x="77.7" y="135.81" width="2.18" height="3.45" fill="#135813"/>
<rect x="79.8" y="135.81" width="2.18" height="3.45" fill="#166516"/>
<rect x="81.8" y="135.81" width="2.18" height="3.45" fill="#145c14"/>
<rect x="83.9" y="135.81" width="2.18" height="3.45" fill="#155f15"/>
<rect x="86.0" y="135.81" width="1.93" height="3.45" fill="#092f09"/>
<rect x="87.8" y="135.81" width="1.93" height="3.45" fill="#0b3b0b"/>
<rect x="89.7" y="135.81" width="1.93" height="3.45" fill="#0c3c0c"/>
<rect x="91.5" y="135.81" width="1.93" height="3.45" fill="#0a340a"/>
<rect x="93.3" y="135.81" width="1.93" height="3.45" fill="#0a360a"/>
<rect x="95.2" y="135.81" width="1.93" height="3.45" fill="#0e480e"/>
<rect x="97.0" y="135.81" width="2.20" height="3.45" fill="#090e07"/>
<rect x="99.1" y="135.81" width="2.20" height="3.45" fill="#090e07"/>
<rect x="101.2" y="135.81" width="2.20" height="3.45" fill="#060a05"/>
<rect x="103.3" y="135.81" width="2.20" height="3.45" fill="#070a05"/>
<rect x="105.4" y="135.81" width="2.20" height="3.45" fill="#090e07"/>
<rect x="107.5" y="135.81" width="2.18" height="3.45" fill="#090d06"/>
<rect x="109.6" y="135.81" width="2.18" height="3.45" fill="#060904"/>
<rect x="111.7" y="135.81" width="2.18" height="3.45" fill="#070b05"/>
<rect x="113.8" y="135.81" width="2.18" height="3.45" fill="#060a05"/>
<rect x="115.8" y="135.81" width="2.18" height="3.45" fill="#060904"/>
<rect x="117.9" y="135.81" width="2.18" height="3.45" fill="#070a05"/>
<rect x="120.0" y="135.81" width="2.10" height="3.45" fill="#090e07"/>
<rect x="122.0" y="135.81" width="2.10" height="3.45" fill="#090d06"/>
<rect x="124.0" y="135.81" width="2.10" height="3.45" fill="#070b05"/>
<rect x="126.0" y="135.81" width="2.10" height="3.45" fill="#060904"/>
<rect x="128.0" y="135.81" width="2.10" height="3.45" fill="#070a05"/>
<rect x="130.0" y="135.81" width="2.10" height="3.45" fill="#0a0f07"/>
<rect x="132.0" y="135.81" width="2.18" height="3.45" fill="#080c06"/>
<rect x="134.1" y="135.81" width="2.18" height="3.45" fill="#070b05"/>
<rect x="136.2" y="135.81" width="2.18" height="3.45" fill="#070b05"/>
<rect x="138.2" y="135.81" width="2.18" height="3.45" fill="#070b05"/>
<rect x="140.3" y="135.81" width="2.18" height="3.45" fill="#070b05"/>
<rect x="142.4" y="135.81" width="2.18" height="3.45" fill="#080c06"/>
<rect x="144.5" y="135.81" width="2.18" height="3.45" fill="#0b380b"/>
<rect x="146.6" y="135.81" width="2.18" height="3.45" fill="#0a330a"/>
<rect x="148.7" y="135.81" width="2.18" height="3.45" fill="#0a360a"/>
<rect x="150.8" y="135.81" width="2.18" height="3.45" fill="#0c3f0c"/>
<rect x="152.8" y="135.81" width="2.18" height="3.45" fill="#0b390b"/>
<rect x="154.9" y="135.81" width="4.18" height="3.45" fill="#0a330a"/>
<rect x="3.0" y="139.15" width="3.98" height="5.45" fill="#070a05"/>
<rect x="6.9" y="139.15" width="1.98" height="5.45" fill="#060904"/>
<rect x="8.8" y="139.15" width="1.98" height="5.45" fill="#070b05"/>
<rect x="10.6" y="139.15" width="1.98" height="5.45" fill="#070a05"/>
<rect x="12.5" y="139.15" width="1.85" height="5.45" fill="#060a05"/>
<rect x="14.2" y="139.15" width="1.85" height="5.45" fill="#060a05"/>
<rect x="16.0" y="139.15" width="1.85" height="5.45" fill="#090d06"/>
<rect x="17.8" y="139.15" width="1.85" height="5.45" fill="#080c06"/>
<rect x="19.5" y="139.15" width="2.60" height="5.45" fill="#500606"/>
<rect x="22.0" y="139.15" width="2.60" height="5.45" fill="#4c0606"/>
<rect x="24.5" y="139.15" width="2.60" height="5.45" fill="#080c06"/>
<rect x="27.0" y="139.15" width="2.60" height="5.45" fill="#060a05"/>
<rect x="29.5" y="139.15" width="2.23" height="5.45" fill="#6d0909"/>
<rect x="31.6" y="139.15" width="2.23" height="5.45" fill="#6e0909"/>
<rect x="33.8" y="139.15" width="2.23" height="5.45" fill="#4f0606"/>
<rect x="35.9" y="139.15" width="2.23" height="5.45" fill="#580707"/>
<rect x="38.0" y="139.15" width="2.35" height="5.45" fill="#590707"/>
<rect x="40.2" y="139.15" width="2.35" height="5.45" fill="#670808"/>
<rect x="42.5" y="139.15" width="2.35" height="5.45" fill="#680808"/>
<rect x="44.8" y="139.15" width="2.35" height="5.45" fill="#5c0707"/>
<rect x="47.0" y="139.15" width="2.25" height="5.45" fill="#070a05"/>
<rect x="49.1" y="139.15" width="2.25" height="5.45" fill="#070b05"/>
<rect x="51.3" y="139.15" width="2.25" height="5.45" fill="#070b05"/>
<rect x="53.5" y="139.15" width="2.25" height="5.45" fill="#080c06"/>
<rect x="55.6" y="139.15" width="2.10" height="5.45" fill="#092409"/>
<rect x="57.6" y="139.15" width="2.10" height="5.45" fill="#0a270a"/>
<rect x="59.6" y="139.15" width="2.10" height="5.45" fill="#0a280a"/>
<rect x="61.6" y="139.15" width="2.10" height="5.45" fill="#0b2a0b"/>
<rect x="63.6" y="139.15" width="2.10" height="5.45" fill="#0a270a"/>
<rect x="65.6" y="139.15" width="2.10" height="5.45" fill="#080c06"/>
<rect x="67.6" y="139.15" width="2.10" height="5.45" fill="#080d06"/>
<rect x="69.6" y="139.15" width="2.10" height="5.45" fill="#060904"/>
<rect x="71.6" y="139.15" width="2.10" height="5.45" fill="#080c06"/>
<rect x="73.6" y="139.15" width="2.10" height="5.45" fill="#080d06"/>
<rect x="75.6" y="139.15" width="2.18" height="5.45" fill="#135813"/>
<rect x="77.7" y="139.15" width="2.18" height="5.45" fill="#145c14"/>
<rect x="79.8" y="139.15" width="2.18" height="5.45" fill="#156015"/>
<rect x="81.8" y="139.15" width="2.18" height="5.45" fill="#114f11"/>
<rect x="83.9" y="139.15" width="2.18" height="5.45" fill="#145e14"/>
<rect x="86.0" y="139.15" width="1.93" height="5.45" fill="#093109"/>
<rect x="87.8" y="139.15" width="1.93" height="5.45" fill="#0d410d"/>
<rect x="89.7" y="139.15" width="1.93" height="5.45" fill="#0b370b"/>
<rect x="91.5" y="139.15" width="1.93" height="5.45" fill="#0b3b0b"/>
<rect x="93.3" y="139.15" width="1.93" height="5.45" fill="#0b370b"/>
<rect x="95.2" y="139.15" width="1.93" height="5.45" fill="#0b3b0b"/>
<rect x="97.0" y="139.15" width="2.20" height="5.45" fill="#080d06"/>
<rect x="99.1" y="139.15" width="2.20" height="5.45" fill="#080d06"/>
<rect x="101.2" y="139.15" width="2.20" height="5.45" fill="#070b05"/>
<rect x="103.3" y="139.15" width="2.20" height="5.45" fill="#080c06"/>
<rect x="105.4" y="139.15" width="2.20" height="5.45" fill="#090d06"/>
<rect x="107.5" y="139.15" width="2.18" height="5.45" fill="#0c3e0c"/>
<rect x="109.6" y="139.15" width="2.18" height="5.45" fill="#0b390b"/>
<rect x="111.7" y="139.15" width="2.18" height="5.45" fill="#0c3f0c"/>
<rect x="113.8" y="139.15" width="2.18" height="5.45" fill="#0a360a"/>
<rect x="115.8" y="139.15" width="2.18" height="5.45" fill="#0a330a"/>
<rect x="117.9" y="139.15" width="2.18" height="5.45" fill="#0c3c0c"/>
<rect x="120.0" y="139.15" width="2.10" height="5.45" fill="#090d06"/>
<rect x="122.0" y="139.15" width="2.10" height="5.45" fill="#090e07"/>
<rect x="124.0" y="139.15" width="2.10" height="5.45" fill="#070b05"/>
<rect x="126.0" y="139.15" width="2.10" height="5.45" fill="#060904"/>
<rect x="128.0" y="139.15" width="2.10" height="5.45" fill="#070b05"/>
<rect x="130.0" y="139.15" width="2.10" height="5.45" fill="#090d06"/>
<rect x="132.0" y="139.15" width="2.18" height="5.45" fill="#080c06"/>
<rect x="134.1" y="139.15" width="2.18" height="5.45" fill="#080c06"/>
<rect x="136.2" y="139.15" width="2.18" height="5.45" fill="#060904"/>
<rect x="138.2" y="139.15" width="2.18" height="5.45" fill="#060904"/>
<rect x="140.3" y="139.15" width="2.18" height="5.45" fill="#060904"/>
<rect x="142.4" y="139.15" width="2.18" height="5.45" fill="#090e07"/>
<rect x="144.5" y="139.15" width="2.18" height="5.45" fill="#092e09"/>
<rect x="146.6" y="139.15" width="2.18" height="5.45" fill="#092e09"/>
<rect x="148.7" y="139.15" width="2.18" height="5.45" fill="#0b3a0b"/>
<rect x="150.8" y="139.15" width="2.18" height="5.45" fill="#0d450d"/>
<rect x="152.8" y="139.15" width="2.18" height="5.45" fill="#0a340a"/>
<rect x="154.9" y="139.15" width="4.18" height="5.45" fill="#0b390b"/>
<rect x="33.0" y="38.80" width="1.97" height="6.80" fill="#0f430f"/>
<rect x="34.9" y="38.80" width="1.97" height="6.80" fill="#0d3d0d"/>
<rect x="36.7" y="38.80" width="1.97" height="6.80" fill="#0b320b"/>
<ellipse cx="122.5" cy="36.6" rx="2.5" ry="1.6" fill="#6a3a10" opacity="0.55"/>
<ellipse cx="134.4" cy="36.6" rx="2.5" ry="1.8" fill="#a02010" opacity="0.9"/>
<ellipse cx="148" cy="36.6" rx="2" ry="1.6" fill="#5a3010" opacity="0.5"/>
<ellipse cx="112.5" cy="36.6" rx="2" ry="1.5" fill="#4a3010" opacity="0.4"/>
<ellipse cx="135.6" cy="46.6" rx="2" ry="1.5" fill="#702010" opacity="0.8"/>
<ellipse cx="133.8" cy="103" rx="1.8" ry="1.5" fill="#501010" opacity="0.7"/>
<ellipse cx="150" cy="106" rx="1.8" ry="1.5" fill="#501010" opacity="0.7"/>
<ellipse cx="152.5" cy="138.5" rx="3" ry="1.8" fill="#c01818" opacity="0.95"/>
</g></g>
<line x1="5.7" y1="28.75" x2="5.7" y2="142.5" stroke="#7a857a" stroke-width="0.9" opacity="0.75"/>
<line x1="5.7" y1="17.5" x2="5.7" y2="28.75" stroke="#b8b8b8" stroke-width="0.8"/>
<line x1="19.5" y1="17.5" x2="19.5" y2="142.5" stroke="#b8b8b8" stroke-width="0.8"/>
<line x1="29.5" y1="17.5" x2="29.5" y2="142.5" stroke="#b8b8b8" stroke-width="0.8"/>
<line x1="55.6" y1="17.5" x2="55.6" y2="142.5" stroke="#b8b8b8" stroke-width="0.8"/>
<line x1="75.6" y1="17.5" x2="75.6" y2="142.5" stroke="#b8b8b8" stroke-width="0.8"/>
<line x1="107.5" y1="17.5" x2="107.5" y2="142.5" stroke="#b8b8b8" stroke-width="0.8"/>
<text transform="translate(4.8,27.5) rotate(-90)" font-size="4.3" fill="#222">ES cells</text>
<text transform="translate(15.3,27.5) rotate(-90)" font-size="4.3" fill="#222">stem cells</text>
<text transform="translate(26.1,27.5) rotate(-90)" font-size="4.3" fill="#222">B cells</text>
<text x="37" y="27.6" font-size="4.3" class="t" fill="#222">T cells</text>
<text x="57.7" y="27.6" font-size="4.3" class="t" fill="#222">Myeloid</text>
<text x="85" y="27.6" font-size="4.3" class="t" fill="#222">CNS</text>
<text x="121" y="27.6" font-size="4.3" class="t" fill="#222">Other</text>
<text x="157.7" y="31.47" font-size="3.1" class="t" fill="#222" textLength="12.5" lengthAdjust="spacingAndGlyphs">ZC3H12B</text>
<text x="157.7" y="34.82" font-size="3.1" class="t" fill="#222" textLength="7.8" lengthAdjust="spacingAndGlyphs">LEF1</text>
<text x="157.7" y="38.16" font-size="3.1" class="t" fill="#222" textLength="10.6" lengthAdjust="spacingAndGlyphs">GATA3</text>
<text x="157.7" y="41.51" font-size="3.1" class="t" fill="#222" textLength="10.9" lengthAdjust="spacingAndGlyphs">CD6RB</text>
<text x="157.7" y="44.86" font-size="3.1" class="t" fill="#222" textLength="11" lengthAdjust="spacingAndGlyphs">RORC2</text>
<text x="157.7" y="48.20" font-size="3.1" class="t" fill="#222" textLength="8.5" lengthAdjust="spacingAndGlyphs">NFATC</text>
<text x="157.7" y="51.55" font-size="3.1" class="t" fill="#222" textLength="9.5" lengthAdjust="spacingAndGlyphs">TCF7</text>
<text x="157.7" y="54.89" font-size="3.1" class="t" fill="#222" textLength="10" lengthAdjust="spacingAndGlyphs">SP110</text>
<text x="157.7" y="58.24" font-size="3.1" class="t" fill="#222" textLength="10" lengthAdjust="spacingAndGlyphs">SP140</text>
<text x="157.7" y="61.58" font-size="3.1" class="t" fill="#222" textLength="8" lengthAdjust="spacingAndGlyphs">IL6R</text>
<text x="157.7" y="64.93" font-size="3.1" class="t" fill="#222" textLength="9" lengthAdjust="spacingAndGlyphs">CD28</text>
<text x="157.7" y="68.27" font-size="3.1" class="t" fill="#222" textLength="8.5" lengthAdjust="spacingAndGlyphs">ZNF2</text>
<text x="157.7" y="71.62" font-size="3.1" class="t" fill="#222" textLength="10" lengthAdjust="spacingAndGlyphs">IKZF1</text>
<text x="157.7" y="74.97" font-size="3.1" class="t" fill="#222" textLength="11.5" lengthAdjust="spacingAndGlyphs">ETS1A</text>
<text x="157.7" y="78.31" font-size="3.1" class="t" fill="#222" textLength="12.8" lengthAdjust="spacingAndGlyphs">BCL11B</text>
<text x="157.7" y="81.66" font-size="3.1" class="t" fill="#222" textLength="10.5" lengthAdjust="spacingAndGlyphs">CD5L</text>
<text x="157.7" y="85.00" font-size="3.1" class="t" fill="#222" textLength="9.5" lengthAdjust="spacingAndGlyphs">TOX2</text>
<text x="157.7" y="88.35" font-size="3.1" class="t" fill="#222" textLength="8.5" lengthAdjust="spacingAndGlyphs">NR4A</text>
<text x="157.7" y="91.69" font-size="3.1" class="t" fill="#222" textLength="10" lengthAdjust="spacingAndGlyphs">CD3G</text>
<text x="157.7" y="95.04" font-size="3.1" class="t" fill="#222" textLength="12" lengthAdjust="spacingAndGlyphs">TRAT1</text>
<text x="157.7" y="98.38" font-size="3.1" class="t" fill="#222" textLength="11" lengthAdjust="spacingAndGlyphs">ZAP70</text>
<text x="157.7" y="101.73" font-size="3.1" class="t" fill="#222" textLength="9" lengthAdjust="spacingAndGlyphs">ITK</text>
<text x="157.7" y="105.08" font-size="3.1" class="t" fill="#222" textLength="10" lengthAdjust="spacingAndGlyphs">LCK1</text>
<text x="157.7" y="108.42" font-size="3.1" class="t" fill="#222" textLength="11" lengthAdjust="spacingAndGlyphs">CD2AP</text>
<text x="157.7" y="111.77" font-size="3.1" class="t" fill="#222" textLength="12" lengthAdjust="spacingAndGlyphs">STAT4</text>
<text x="157.7" y="115.11" font-size="3.1" class="t" fill="#222" textLength="10" lengthAdjust="spacingAndGlyphs">PDE4D</text>
<text x="157.7" y="118.46" font-size="3.1" class="t" fill="#222" textLength="9" lengthAdjust="spacingAndGlyphs">RUNX3</text>
<text x="157.7" y="121.80" font-size="3.1" class="t" fill="#222" textLength="11" lengthAdjust="spacingAndGlyphs">CD247</text>
<text x="157.7" y="125.15" font-size="3.1" class="t" fill="#222" textLength="12.5" lengthAdjust="spacingAndGlyphs">FYB2A</text>
<text x="157.7" y="128.49" font-size="3.1" class="t" fill="#222" textLength="10" lengthAdjust="spacingAndGlyphs">SH2D1A</text>
<text x="157.7" y="131.84" font-size="3.1" class="t" fill="#222" textLength="9.5" lengthAdjust="spacingAndGlyphs">MAF</text>
<text x="157.7" y="135.19" font-size="3.1" class="t" fill="#222" textLength="11" lengthAdjust="spacingAndGlyphs">CCR7A</text>
<text x="157.7" y="138.53" font-size="3.1" class="t" fill="#222" textLength="12" lengthAdjust="spacingAndGlyphs">SATB1</text>
<text x="157.7" y="141.88" font-size="3.1" class="t" fill="#222" textLength="10" lengthAdjust="spacingAndGlyphs">IL7R</text>
<text x="0.9" y="8.7" font-size="11" font-weight="bold" fill="#000" stroke="#000" stroke-width="0.3">A</text>
<text x="0.1" y="157.1" font-size="11" font-weight="bold" fill="#000" stroke="#000" stroke-width="0.3">B</text>
<text x="180.7" y="9.1" font-size="11" font-weight="bold" fill="#000" stroke="#000" stroke-width="0.3">C</text>
<text x="341.0" y="8.7" font-size="11" font-weight="bold" fill="#000" stroke="#000" stroke-width="0.3">D</text>
<text x="340.7" y="130.6" font-size="11" font-weight="bold" fill="#000" stroke="#000" stroke-width="0.3">E</text>
<path d="M38.5 222.2L39 221.5L40 221.5L40 221.4L41 221.4L41 221.2L42 221.2L42 221.5L43 221.5L43 221.4L44 221.4L44 221.4L45 221.4L45 221.6L46 221.6L46 221.4L47 221.4L47 221.4L48 221.4L48 221.3L49 221.3L49 221.7L50 221.7L50 221.5L51 221.5L51 221.7L52 221.7L52 221.3L53 221.3L53 221.4L54 221.4L54 221.7L55 221.7L55 221.2L56 221.2L56 221.2L57 221.2L57 221.4L58 221.4L58 220.9L59 220.9L59 221.1L60 221.1L60 221.2L61 221.2L61 220.9L62 220.9L62 221.2L63 221.2L63 221.6L64 221.6L64 221.6L65 221.6L65 221.7L66 221.7L66 220.9L67 220.9L67 220.9L68 220.9L68 220.8L69 220.8L69 220.7L70 220.7L70 220.6L71 220.6L71 220.4L72 220.4L72 219.8L73 219.8L73 219.6L74 219.6L74 218.7L75 218.7L75 218.0L76 218.0L76 217.4L77 217.4L77 216.7L78 216.7L78 214.7L79 214.7L79 211.2L80 211.2L80 207.2L81 207.2L81 202.2L82 202.2L82 191.4L83 191.4L83 180.8L84 180.8L84 158.3L85 158.3L85 158.3L86 158.3L86 194.2L87 194.2L87 198.2L88 198.2L88 205.2L89 205.2L89 209.2L90 209.2L90 212.2L91 212.2L91 214.7L92 214.7L92 216.2L93 216.2L93 217.2L94 217.2L94 218.0L95 218.0L95 219.0L96 219.0L96 219.4L97 219.4L97 219.7L98 219.7L98 219.8L99 219.8L99 220.2L100 220.2L100 220.6L101 220.6L101 220.6L102 220.6L102 220.4L103 220.4L103 220.6L104 220.6L104 220.5L105 220.5L105 220.6L106 220.6L106 220.5L107 220.5L107 221.0L108 221.0L108 221.1L109 221.1L109 220.7L110 220.7L110 220.7L111 220.7L111 220.8L112 220.8L112 220.9L113 220.9L113 221.4L114 221.4L114 221.5L115 221.5L115 221.4L116 221.4L116 221.6L117 221.6L117 221.1L118 221.1L118 221.4L119 221.4L119 221.1L120 221.1L120 221.4L121 221.4L121 221.0L122 221.0L122 221.1L123 221.1L123 221.6L124 221.6L124 221.5L125 221.5L125 221.1L126 221.1L126 221.6L127 221.6L127 221.3L128 221.3L128 221.6L129 221.6L129 221.8L130 221.8L130 221.5L131 221.5L131 221.4L132 221.4L132 221.7L133 221.7L133 221.8L134 221.8L134 221.6L135 221.6L135 221.3L136 221.3L136 221.4L137 221.4L137 221.7L138 221.7L138 221.7L139 221.7L139 221.7L140 221.7L140 221.8L141 221.8L141 221.4L142 221.4L142 221.7L143 221.7L143 221.5L144 221.5L144 221.6L145 221.6L145 221.7L146 221.7L146 221.4L147 221.4L147 221.7L148 221.7L148 221.5L149 221.5L149 221.7L150 221.7L150 221.6L151 221.6L151 221.7L152 221.7L152 221.7L153 221.7L153 221.3L154 221.3L154 221.4L155 221.4L155 221.6L156 221.6L156 221.4L157 221.4L157 221.7L158 221.7L158 221.6L159 221.6L159 221.4L160 221.4L160 221.5L161 221.5L161 221.7L162 221.7L162 221.3L163 221.3L163 221.7L164 221.7L164 221.7L165 221.7L165 221.4L166 221.4L166 221.6L167 221.6L167 221.7L168 221.7L168 221.8L169 221.8L169 221.8L170 221.8L170 221.5L171 221.5L171 221.7L172 221.7L172 221.5L173 221.5L173 221.6L174 221.6L174 222.2Z" fill="#000"/>
<line x1="38.5" y1="222.2" x2="174" y2="222.2" stroke="#333" stroke-width="0.5"/>
<line x1="107.9" y1="159.2" x2="107.9" y2="222.3" stroke="#c46a80" stroke-width="1.6"/>
<text x="109.8" y="169.3" font-size="5.1" fill="#222" textLength="30.3" lengthAdjust="spacingAndGlyphs">97.5 percentile</text>
<g stroke="#777" stroke-width="0.5">
<line x1="33.1" y1="165.50" x2="33.1" y2="222.60"/>
<line x1="29.8" y1="222.60" x2="33.1" y2="222.60"/>
<line x1="29.8" y1="211.18" x2="33.1" y2="211.18"/>
<line x1="29.8" y1="199.76" x2="33.1" y2="199.76"/>
<line x1="29.8" y1="188.34" x2="33.1" y2="188.34"/>
<line x1="29.8" y1="176.92" x2="33.1" y2="176.92"/>
<line x1="29.8" y1="165.50" x2="33.1" y2="165.50"/>
<line x1="50.2" y1="224.6" x2="152.2" y2="224.6"/>
<line x1="50.2" y1="224.6" x2="50.2" y2="226.3"/>
<line x1="84.2" y1="224.6" x2="84.2" y2="226.3"/>
<line x1="118.2" y1="224.6" x2="118.2" y2="226.3"/>
<line x1="152.2" y1="224.6" x2="152.2" y2="226.3"/>
</g>
<text transform="translate(28.1,222.60) rotate(-90)" font-size="5.5" text-anchor="middle" fill="#222">0</text>
<text transform="translate(28.1,211.18) rotate(-90)" font-size="5.5" text-anchor="middle" fill="#222" textLength="5.6" lengthAdjust="spacingAndGlyphs">50</text>
<text transform="translate(28.1,199.76) rotate(-90)" font-size="5.5" text-anchor="middle" fill="#222" textLength="8.4" lengthAdjust="spacingAndGlyphs">100</text>
<text transform="translate(28.1,188.34) rotate(-90)" font-size="5.5" text-anchor="middle" fill="#222" textLength="8.4" lengthAdjust="spacingAndGlyphs">150</text>
<text transform="translate(28.1,176.92) rotate(-90)" font-size="5.5" text-anchor="middle" fill="#222" textLength="8.4" lengthAdjust="spacingAndGlyphs">200</text>
<text transform="translate(28.1,165.50) rotate(-90)" font-size="5.5" text-anchor="middle" fill="#222" textLength="8.4" lengthAdjust="spacingAndGlyphs">250</text>
<text x="47.7" y="231.7" font-size="5.5" text-anchor="middle" fill="#222" textLength="13.2" lengthAdjust="spacingAndGlyphs">-5000</text>
<text x="84.5" y="231.7" font-size="5.5" text-anchor="middle" fill="#222">0</text>
<text x="116.6" y="231.7" font-size="5.5" text-anchor="middle" fill="#222" textLength="11.8" lengthAdjust="spacingAndGlyphs">5000</text>
<text x="150.6" y="231.7" font-size="5.5" text-anchor="middle" fill="#222" textLength="14.4" lengthAdjust="spacingAndGlyphs">10000</text>
<text x="64.8" y="239.1" font-size="5.2" fill="#222" textLength="45.4" lengthAdjust="spacingAndGlyphs">sum of T cells score</text>
<text transform="translate(20.2,190.9) rotate(-90)" font-size="7.8" text-anchor="middle" fill="#111" textLength="36.4" lengthAdjust="spacingAndGlyphs">Frequency</text>
<text x="265.6" y="11.9" font-size="6.1" font-weight="bold" fill="#111" textLength="55.6" lengthAdjust="spacingAndGlyphs">Enrichment score for</text>
<text x="268.0" y="19.8" font-size="5.9" font-weight="bold" fill="#111" textLength="52.0" lengthAdjust="spacingAndGlyphs">ZBTB25(214482_at)</text>
<text x="267.70" y="24.9" font-size="4.7" text-anchor="middle" fill="#333">0</text>
<text x="280.50" y="24.9" font-size="4.7" text-anchor="middle" fill="#333">100</text>
<text x="293.30" y="24.9" font-size="4.7" text-anchor="middle" fill="#333">200</text>
<text x="306.10" y="24.9" font-size="4.7" text-anchor="middle" fill="#333">300</text>
<text x="318.90" y="24.9" font-size="4.7" text-anchor="middle" fill="#333">400</text>
<text x="331.70" y="24.9" font-size="4.7" text-anchor="middle" fill="#333">500</text>
<g stroke="#888" stroke-width="0.5">
<line x1="267.50" y1="26.3" x2="267.50" y2="29.6"/>
<line x1="280.30" y1="26.3" x2="280.30" y2="29.6"/>
<line x1="293.10" y1="26.3" x2="293.10" y2="29.6"/>
<line x1="305.90" y1="26.3" x2="305.90" y2="29.6"/>
<line x1="318.70" y1="26.3" x2="318.70" y2="29.6"/>
<line x1="331.50" y1="26.3" x2="331.50" y2="29.6"/>
<line x1="265.3" y1="32.9" x2="265.3" y2="194.9"/>
</g>
<rect x="267.8" y="29.60" width="63.20" height="6.6" fill="#f80ae0" stroke="#b207a1" stroke-width="0.45"/>
<rect x="267.8" y="37.70" width="61.20" height="6.6" fill="#f80ae0" stroke="#b207a1" stroke-width="0.45"/>
<rect x="267.8" y="45.80" width="60.80" height="6.6" fill="#f80ae0" stroke="#b207a1" stroke-width="0.45"/>
<rect x="267.8" y="53.90" width="57.20" height="6.6" fill="#f80ae0" stroke="#b207a1" stroke-width="0.45"/>
<rect x="267.8" y="62.00" width="56.20" height="6.6" fill="#f80ae0" stroke="#b207a1" stroke-width="0.45"/>
<rect x="267.8" y="70.10" width="50.80" height="6.6" fill="#f80ae0" stroke="#b207a1" stroke-width="0.45"/>
<rect x="267.8" y="78.20" width="50.20" height="6.6" fill="#f50ae2" stroke="#b007a2" stroke-width="0.45"/>
<rect x="267.8" y="86.30" width="31.00" height="6.6" fill="#c80af0" stroke="#9007ac" stroke-width="0.45"/>
<rect x="267.8" y="94.40" width="26.50" height="6.6" fill="#960af0" stroke="#6c07ac" stroke-width="0.45"/>
<rect x="267.8" y="102.50" width="23.00" height="6.6" fill="#8c05f0" stroke="#6403ac" stroke-width="0.45"/>
<rect x="267.8" y="110.60" width="16.00" height="6.6" fill="#6a05f0" stroke="#4c03ac" stroke-width="0.45"/>
<rect x="267.8" y="118.70" width="15.40" height="6.6" fill="#6005f0" stroke="#4503ac" stroke-width="0.45"/>
<rect x="267.8" y="126.80" width="11.00" height="6.6" fill="#2c0cf0" stroke="#1f08ac" stroke-width="0.45"/>
<rect x="267.8" y="134.90" width="8.70" height="6.6" fill="#280cf0" stroke="#1c08ac" stroke-width="0.45"/>
<rect x="267.8" y="143.00" width="7.00" height="6.6" fill="#260cf0" stroke="#1b08ac" stroke-width="0.45"/>
<rect x="267.8" y="151.10" width="6.90" height="6.6" fill="#240ceb" stroke="#1908a9" stroke-width="0.45"/>
<rect x="267.8" y="159.20" width="4.20" height="6.6" fill="#200ce5" stroke="#1708a4" stroke-width="0.45"/>
<rect x="267.8" y="167.30" width="3.10" height="6.6" fill="#1e0ce0" stroke="#1508a1" stroke-width="0.45"/>
<rect x="267.8" y="175.40" width="3.10" height="6.6" fill="#1e0cdc" stroke="#15089e" stroke-width="0.45"/>
<rect x="267.8" y="183.50" width="2.70" height="6.6" fill="#1c0cd8" stroke="#14089b" stroke-width="0.45"/>
<rect x="267.8" y="191.60" width="2.30" height="6.6" fill="#1c0cd4" stroke="#140898" stroke-width="0.45"/>
<g stroke="#888" stroke-width="0.5">
<line x1="262.9" y1="32.90" x2="265.3" y2="32.90"/>
<line x1="262.9" y1="41.00" x2="265.3" y2="41.00"/>
<line x1="262.9" y1="49.10" x2="265.3" y2="49.10"/>
<line x1="262.9" y1="57.20" x2="265.3" y2="57.20"/>
<line x1="262.9" y1="65.30" x2="265.3" y2="65.30"/>
<line x1="262.9" y1="73.40" x2="265.3" y2="73.40"/>
<line x1="262.9" y1="81.50" x2="265.3" y2="81.50"/>
<line x1="262.9" y1="89.60" x2="265.3" y2="89.60"/>
<line x1="262.9" y1="97.70" x2="265.3" y2="97.70"/>
<line x1="262.9" y1="105.80" x2="265.3" y2="105.80"/>
<line x1="262.9" y1="113.90" x2="265.3" y2="113.90"/>
<line x1="262.9" y1="122.00" x2="265.3" y2="122.00"/>
<line x1="262.9" y1="130.10" x2="265.3" y2="130.10"/>
<line x1="262.9" y1="138.20" x2="265.3" y2="138.20"/>
<line x1="262.9" y1="146.30" x2="265.3" y2="146.30"/>
<line x1="262.9" y1="154.40" x2="265.3" y2="154.40"/>
<line x1="262.9" y1="162.50" x2="265.3" y2="162.50"/>
<line x1="262.9" y1="170.60" x2="265.3" y2="170.60"/>
<line x1="262.9" y1="178.70" x2="265.3" y2="178.70"/>
<line x1="262.9" y1="186.80" x2="265.3" y2="186.80"/>
<line x1="262.9" y1="194.90" x2="265.3" y2="194.90"/>
</g>
<text x="259.6" y="34.75" font-size="4.57" text-anchor="end" fill="#333">T cells central memory</text>
<text x="259.6" y="42.85" font-size="4.57" text-anchor="end" fill="#333">T cells effector memory</text>
<text x="259.6" y="50.95" font-size="4.57" text-anchor="end" fill="#333">T cells CD57+</text>
<text x="259.6" y="59.05" font-size="4.57" text-anchor="end" fill="#333">Treg</text>
<text x="259.6" y="67.15" font-size="4.57" text-anchor="end" fill="#333">Thymic SP CD8+ T cells</text>
<text x="259.6" y="75.25" font-size="4.57" text-anchor="end" fill="#333">Peripheral CD8+ T cells</text>
<text x="259.6" y="83.35" font-size="4.57" text-anchor="end" fill="#333">Tonsils CD4+ T cells</text>
<text x="259.6" y="91.45" font-size="4.57" text-anchor="end" fill="#333">Peripheral naive CD4+ T cells</text>
<text x="259.6" y="99.55" font-size="4.57" text-anchor="end" fill="#333">B cells PreI</text>
<text x="259.6" y="107.65" font-size="4.57" text-anchor="end" fill="#333">B cells CD19+</text>
<text x="259.6" y="115.75" font-size="4.57" text-anchor="end" fill="#333">Thymic CD4+CD8+CD3–</text>
<text x="259.6" y="123.85" font-size="4.57" text-anchor="end" fill="#333">T cells gammadelta</text>
<text x="259.6" y="131.95" font-size="4.57" text-anchor="end" fill="#333">HSC cord blood CD34+ CD38– CD33–</text>
<text x="259.6" y="140.05" font-size="4.57" text-anchor="end" fill="#333">B cells PreII</text>
<text x="259.6" y="148.15" font-size="4.57" text-anchor="end" fill="#333">B cells immature</text>
<text x="259.6" y="156.25" font-size="4.57" text-anchor="end" fill="#333">NK CD56+</text>
<text x="259.6" y="164.35" font-size="4.57" text-anchor="end" fill="#333">T cells BAFF+</text>
<text x="259.6" y="172.45" font-size="4.57" text-anchor="end" fill="#333">Thymic SP CD4+ T cells</text>
<text x="259.6" y="180.55" font-size="4.57" text-anchor="end" fill="#333">TH2</text>
<text x="259.6" y="188.65" font-size="4.57" text-anchor="end" fill="#333">TH1</text>
<text x="259.6" y="196.75" font-size="4.57" text-anchor="end" fill="#333">Thymic CD4+CD8+CD3</text>
<rect x="386.9" y="8.60" width="5.4" height="5.8" fill="#f4f4f4" stroke="#888" stroke-width="0.6"/>
<rect x="426.6" y="8.60" width="5.8" height="5.8" fill="#999" stroke="#666" stroke-width="0.6"/>
<rect x="479.5" y="8.60" width="6.2" height="5.8" fill="#444" stroke="#333" stroke-width="0.6"/>
<text x="394.6" y="13.70" font-size="5.9" fill="#222" textLength="18.6" lengthAdjust="spacingAndGlyphs" class="s">PLK0.1</text>
<text x="435.3" y="13.70" font-size="5.9" fill="#222" textLength="29.6" lengthAdjust="spacingAndGlyphs" class="s">shRNA c12</text>
<text x="487.2" y="13.70" font-size="5.9" fill="#222" textLength="28" lengthAdjust="spacingAndGlyphs" class="s">shRNA D3</text>
<g stroke="#c8c8c8" stroke-width="0.6">
<line x1="371.9" y1="12" x2="371.9" y2="99.80"/>
<line x1="371.9" y1="100.00" x2="517" y2="100.00"/>
</g>
<text x="368.3" y="101.90" font-size="5.8" class="s" text-anchor="end" fill="#222">0</text>
<text x="368.3" y="77.17" font-size="5.8" class="s" text-anchor="end" fill="#222">100</text>
<text x="368.3" y="52.44" font-size="5.8" class="s" text-anchor="end" fill="#222">200</text>
<text x="368.3" y="27.71" font-size="5.8" class="s" text-anchor="end" fill="#222">300</text>
<text transform="translate(354.0,56.4) rotate(-90)" font-size="6.25" text-anchor="middle" font-weight="bold" fill="#2a2a2a">Relative Luciferase Activity</text>
<rect x="428.30" y="87.93" width="10.8" height="11.87" fill="#f2f2f2" stroke="#aaa" stroke-width="0.5"/>
<line x1="433.70" y1="87.44" x2="433.70" y2="88.42" stroke="#888" stroke-width="0.75"/>
<rect x="439.10" y="75.81" width="10.8" height="23.99" fill="#9a9a9a" stroke="#777" stroke-width="0.5"/>
<line x1="444.50" y1="73.34" x2="444.50" y2="78.28" stroke="#888" stroke-width="0.75"/>
<rect x="449.90" y="86.20" width="10.8" height="13.60" fill="#505050" stroke="#333" stroke-width="0.5"/>
<line x1="455.30" y1="84.71" x2="455.30" y2="87.68" stroke="#888" stroke-width="0.75"/>
<rect x="476.70" y="72.10" width="10.8" height="27.70" fill="#f2f2f2" stroke="#aaa" stroke-width="0.5"/>
<line x1="482.10" y1="65.92" x2="482.10" y2="78.28" stroke="#888" stroke-width="0.75"/>
<rect x="487.50" y="27.09" width="10.8" height="72.71" fill="#9a9a9a" stroke="#777" stroke-width="0.5"/>
<line x1="492.90" y1="20.17" x2="492.90" y2="34.02" stroke="#888" stroke-width="0.75"/>
<rect x="498.30" y="68.39" width="10.8" height="31.41" fill="#505050" stroke="#333" stroke-width="0.5"/>
<line x1="503.70" y1="62.95" x2="503.70" y2="73.83" stroke="#888" stroke-width="0.75"/>
<line x1="379.9" y1="99.5" x2="412.3" y2="99.5" stroke="#666" stroke-width="0.8"/>
<text x="397.4" y="107.8" font-size="6.4" class="s" text-anchor="middle" fill="#222" textLength="37.6" lengthAdjust="spacingAndGlyphs">No Stimulation</text>
<text x="444" y="107.8" font-size="6.4" class="s" text-anchor="middle" fill="#222" textLength="39.5" lengthAdjust="spacingAndGlyphs">anti CD3/CD28</text>
<text x="443.8" y="114.8" font-size="6.4" class="s" text-anchor="middle" fill="#222" textLength="35.6" lengthAdjust="spacingAndGlyphs">co-stimulation</text>
<text x="495.3" y="107.8" font-size="6.4" class="s" text-anchor="middle" fill="#222" textLength="40.6" lengthAdjust="spacingAndGlyphs">PMA/anti CD28</text>
<text x="495" y="114.8" font-size="6.4" class="s" text-anchor="middle" fill="#222" textLength="35.8" lengthAdjust="spacingAndGlyphs">co-stimulation</text>
<rect x="386.9" y="126.90" width="5.4" height="5.8" fill="#f4f4f4" stroke="#888" stroke-width="0.6"/>
<rect x="426.6" y="126.90" width="5.8" height="5.8" fill="#999" stroke="#666" stroke-width="0.6"/>
<rect x="479.5" y="126.90" width="6.2" height="5.8" fill="#444" stroke="#333" stroke-width="0.6"/>
<text x="394.6" y="132.00" font-size="5.9" fill="#222" textLength="18.6" lengthAdjust="spacingAndGlyphs" class="s">PLK0.1</text>
<text x="435.3" y="132.00" font-size="5.9" fill="#222" textLength="29.6" lengthAdjust="spacingAndGlyphs" class="s">shRNA c12</text>
<text x="487.2" y="132.00" font-size="5.9" fill="#222" textLength="28" lengthAdjust="spacingAndGlyphs" class="s">shRNA D3</text>
<g stroke="#c8c8c8" stroke-width="0.6">
<line x1="371.8" y1="130.47" x2="371.8" y2="221.75"/>
<line x1="371.8" y1="221.95" x2="517" y2="221.95"/>
</g>
<text x="368.8" y="223.95" font-size="5.3" class="s" text-anchor="end" fill="#222">0</text>
<text x="368.8" y="212.54" font-size="5.3" class="s" text-anchor="end" fill="#222">1</text>
<text x="368.8" y="201.13" font-size="5.3" class="s" text-anchor="end" fill="#222">2</text>
<text x="368.8" y="189.72" font-size="5.3" class="s" text-anchor="end" fill="#222">3</text>
<text x="368.8" y="178.31" font-size="5.3" class="s" text-anchor="end" fill="#222">4</text>
<text x="368.8" y="166.90" font-size="5.3" class="s" text-anchor="end" fill="#222">5</text>
<text x="368.8" y="155.49" font-size="5.3" class="s" text-anchor="end" fill="#222">6</text>
<text x="368.8" y="144.08" font-size="5.3" class="s" text-anchor="end" fill="#222">7</text>
<text x="368.8" y="132.67" font-size="5.3" class="s" text-anchor="end" fill="#222">8</text>
<text transform="translate(354.6,170.6) rotate(-90)" font-size="5.95" text-anchor="middle" font-weight="bold" fill="#2a2a2a">Relative mRNA Abundance</text>
<rect x="376.30" y="201.67" width="6.55" height="20.08" fill="#f2f2f2" stroke="#aaa" stroke-width="0.5"/>
<line x1="379.57" y1="198.25" x2="379.57" y2="205.09" stroke="#888" stroke-width="0.75"/>
<rect x="382.85" y="161.73" width="6.55" height="60.02" fill="#9a9a9a" stroke="#777" stroke-width="0.5"/>
<line x1="386.12" y1="148.27" x2="386.12" y2="175.20" stroke="#888" stroke-width="0.75"/>
<rect x="389.40" y="200.07" width="6.55" height="21.68" fill="#505050" stroke="#333" stroke-width="0.5"/>
<line x1="392.67" y1="195.85" x2="392.67" y2="204.29" stroke="#888" stroke-width="0.75"/>
<rect x="405.65" y="200.76" width="6.55" height="20.99" fill="#f2f2f2" stroke="#aaa" stroke-width="0.5"/>
<line x1="408.92" y1="196.42" x2="408.92" y2="205.09" stroke="#888" stroke-width="0.75"/>
<rect x="412.20" y="161.73" width="6.55" height="60.02" fill="#9a9a9a" stroke="#777" stroke-width="0.5"/>
<line x1="415.47" y1="143.71" x2="415.47" y2="179.76" stroke="#888" stroke-width="0.75"/>
<rect x="418.75" y="200.30" width="6.55" height="21.45" fill="#505050" stroke="#333" stroke-width="0.5"/>
<line x1="422.02" y1="196.31" x2="422.02" y2="204.29" stroke="#888" stroke-width="0.75"/>
<rect x="435.00" y="200.07" width="6.55" height="21.68" fill="#f2f2f2" stroke="#aaa" stroke-width="0.5"/>
<line x1="438.27" y1="192.65" x2="438.27" y2="207.49" stroke="#888" stroke-width="0.75"/>
<rect x="441.55" y="163.67" width="6.55" height="58.08" fill="#9a9a9a" stroke="#777" stroke-width="0.5"/>
<line x1="444.82" y1="140.05" x2="444.82" y2="187.29" stroke="#888" stroke-width="0.75"/>
<rect x="448.10" y="192.54" width="6.55" height="29.21" fill="#505050" stroke="#333" stroke-width="0.5"/>
<line x1="451.37" y1="187.41" x2="451.37" y2="197.67" stroke="#888" stroke-width="0.75"/>
<rect x="464.35" y="168.01" width="6.55" height="53.74" fill="#f2f2f2" stroke="#aaa" stroke-width="0.5"/>
<line x1="467.62" y1="156.26" x2="467.62" y2="179.76" stroke="#888" stroke-width="0.75"/>
<rect x="470.90" y="173.83" width="6.55" height="47.92" fill="#9a9a9a" stroke="#777" stroke-width="0.5"/>
<line x1="474.17" y1="168.12" x2="474.17" y2="179.53" stroke="#888" stroke-width="0.75"/>
<rect x="477.45" y="179.99" width="6.55" height="41.76" fill="#505050" stroke="#333" stroke-width="0.5"/>
<line x1="480.72" y1="169.95" x2="480.72" y2="190.03" stroke="#888" stroke-width="0.75"/>
<rect x="493.70" y="208.06" width="6.55" height="13.69" fill="#f2f2f2" stroke="#aaa" stroke-width="0.5"/>
<line x1="496.97" y1="205.21" x2="496.97" y2="210.91" stroke="#888" stroke-width="0.75"/>
<rect x="500.25" y="211.94" width="6.55" height="9.81" fill="#9a9a9a" stroke="#777" stroke-width="0.5"/>
<line x1="503.52" y1="209.88" x2="503.52" y2="213.99" stroke="#888" stroke-width="0.75"/>
<rect x="506.80" y="208.06" width="6.55" height="13.69" fill="#505050" stroke="#333" stroke-width="0.5"/>
<line x1="510.07" y1="206.92" x2="510.07" y2="209.20" stroke="#888" stroke-width="0.75"/>
<text x="386.10" y="230.5" font-size="5.8" class="s" text-anchor="middle" fill="#222">Il-2</text>
<text x="415.45" y="230.5" font-size="5.8" class="s" text-anchor="middle" fill="#222">CD25</text>
<text x="444.80" y="230.5" font-size="5.8" class="s" text-anchor="middle" fill="#222">GPR18</text>
<text x="474.15" y="230.5" font-size="5.8" class="s" text-anchor="middle" fill="#222">EGR1</text>
<text x="503.50" y="230.5" font-size="5.8" class="s" text-anchor="middle" fill="#222" textLength="23.2" lengthAdjust="spacingAndGlyphs">Beta-Actin</text>
</svg>
</body></html>
